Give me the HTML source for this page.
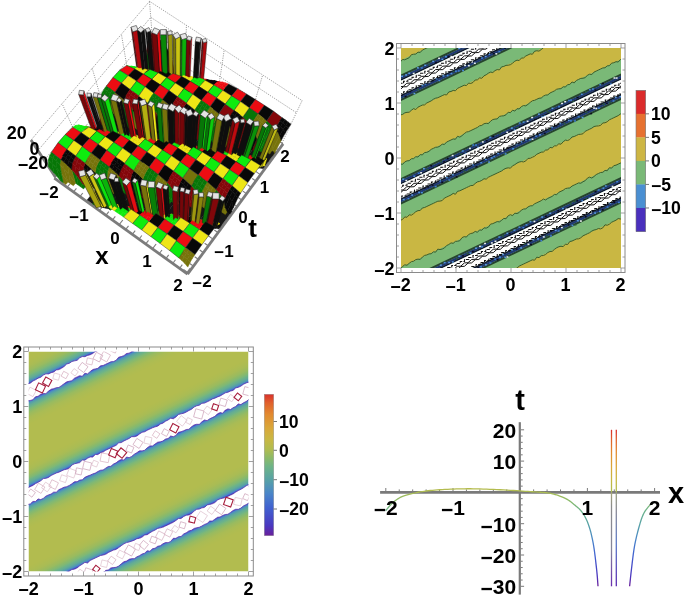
<!DOCTYPE html>
<html><head><meta charset="utf-8"><style>
html,body{margin:0;padding:0;background:#fff;}
svg{display:block;filter:blur(0.4px);}
</style></head><body>
<svg width="685" height="599" viewBox="0 0 685 599">
<defs><clipPath id="cp2"><rect x="401" y="48" width="220" height="220"/></clipPath><clipPath id="cp3"><rect x="28.5" y="351.5" width="220" height="220"/></clipPath><linearGradient id="g3" gradientUnits="userSpaceOnUse" x1="28.5" y1="495.5" x2="68.59" y2="579.98" spreadMethod="repeat"><stop offset="0" stop-color="#ffffff"/><stop offset="0.0773" stop-color="#ffffff"/><stop offset="0.0773" stop-color="#582db0"/><stop offset="0.0843" stop-color="#4354cb"/><stop offset="0.0914" stop-color="#4576cc"/><stop offset="0.0984" stop-color="#4b88c6"/><stop offset="0.1055" stop-color="#5296b4"/><stop offset="0.1125" stop-color="#569eaa"/><stop offset="0.1196" stop-color="#5aa5a1"/><stop offset="0.1266" stop-color="#61aa98"/><stop offset="0.1337" stop-color="#66ae92"/><stop offset="0.1407" stop-color="#69b08d"/><stop offset="0.1477" stop-color="#6db388"/><stop offset="0.1548" stop-color="#73b582"/><stop offset="0.1618" stop-color="#7bb77a"/><stop offset="0.1689" stop-color="#80b874"/><stop offset="0.1759" stop-color="#85b970"/><stop offset="0.1830" stop-color="#89b96b"/><stop offset="0.1900" stop-color="#8eba67"/><stop offset="0.1971" stop-color="#93ba63"/><stop offset="0.2041" stop-color="#98bb60"/><stop offset="0.2112" stop-color="#9bbb5e"/><stop offset="0.2182" stop-color="#9ebb5c"/><stop offset="0.2252" stop-color="#a0bb5a"/><stop offset="0.2323" stop-color="#a3bb59"/><stop offset="0.2393" stop-color="#a6bb57"/><stop offset="0.2464" stop-color="#a8bc55"/><stop offset="0.2534" stop-color="#aabc54"/><stop offset="0.2605" stop-color="#abbc53"/><stop offset="0.2675" stop-color="#acbc53"/><stop offset="0.2746" stop-color="#adbc52"/><stop offset="0.2816" stop-color="#aebc51"/><stop offset="0.2886" stop-color="#afbc51"/><stop offset="0.2957" stop-color="#b0bc50"/><stop offset="0.3027" stop-color="#b0bc50"/><stop offset="0.3098" stop-color="#b1bc4f"/><stop offset="0.3168" stop-color="#b2bc4f"/><stop offset="0.3239" stop-color="#b2bc4f"/><stop offset="0.3309" stop-color="#b2bc4f"/><stop offset="0.3380" stop-color="#b2bc4f"/><stop offset="0.3450" stop-color="#b2bc4f"/><stop offset="0.3521" stop-color="#b2bc4f"/><stop offset="0.3591" stop-color="#b2bc4f"/><stop offset="0.3661" stop-color="#b2bc4f"/><stop offset="0.3732" stop-color="#b2bc4f"/><stop offset="0.3802" stop-color="#b2bc4f"/><stop offset="0.3873" stop-color="#b2bc4f"/><stop offset="0.3943" stop-color="#b2bc4f"/><stop offset="0.4014" stop-color="#b2bc4f"/><stop offset="0.4084" stop-color="#b2bc4f"/><stop offset="0.4155" stop-color="#b2bc4f"/><stop offset="0.4225" stop-color="#b2bc4f"/><stop offset="0.4295" stop-color="#b2bc4f"/><stop offset="0.4366" stop-color="#b2bc4f"/><stop offset="0.4436" stop-color="#b2bc4f"/><stop offset="0.4507" stop-color="#b2bc4f"/><stop offset="0.4577" stop-color="#b2bc4f"/><stop offset="0.4648" stop-color="#b2bc4f"/><stop offset="0.4718" stop-color="#b2bc4f"/><stop offset="0.4789" stop-color="#b2bc4f"/><stop offset="0.4859" stop-color="#b2bc4f"/><stop offset="0.4930" stop-color="#b2bc4f"/><stop offset="0.5000" stop-color="#b2bc4f"/><stop offset="0.5000" stop-color="#b2bc4f"/><stop offset="0.5070" stop-color="#b2bc4f"/><stop offset="0.5141" stop-color="#b2bc4f"/><stop offset="0.5211" stop-color="#b2bc4f"/><stop offset="0.5282" stop-color="#b2bc4f"/><stop offset="0.5352" stop-color="#b2bc4f"/><stop offset="0.5423" stop-color="#b2bc4f"/><stop offset="0.5493" stop-color="#b2bc4f"/><stop offset="0.5564" stop-color="#b2bc4f"/><stop offset="0.5634" stop-color="#b2bc4f"/><stop offset="0.5705" stop-color="#b2bc4f"/><stop offset="0.5775" stop-color="#b2bc4f"/><stop offset="0.5845" stop-color="#b2bc4f"/><stop offset="0.5916" stop-color="#b2bc4f"/><stop offset="0.5986" stop-color="#b2bc4f"/><stop offset="0.6057" stop-color="#b2bc4f"/><stop offset="0.6127" stop-color="#b2bc4f"/><stop offset="0.6198" stop-color="#b2bc4f"/><stop offset="0.6268" stop-color="#b2bc4f"/><stop offset="0.6339" stop-color="#b2bc4f"/><stop offset="0.6409" stop-color="#b2bc4f"/><stop offset="0.6479" stop-color="#b2bc4f"/><stop offset="0.6550" stop-color="#b2bc4f"/><stop offset="0.6620" stop-color="#b2bc4f"/><stop offset="0.6691" stop-color="#b2bc4f"/><stop offset="0.6761" stop-color="#b2bc4f"/><stop offset="0.6832" stop-color="#b2bc4f"/><stop offset="0.6902" stop-color="#b1bc4f"/><stop offset="0.6973" stop-color="#b0bc50"/><stop offset="0.7043" stop-color="#b0bc50"/><stop offset="0.7114" stop-color="#afbc51"/><stop offset="0.7184" stop-color="#aebc51"/><stop offset="0.7254" stop-color="#adbc52"/><stop offset="0.7325" stop-color="#acbc53"/><stop offset="0.7395" stop-color="#abbc53"/><stop offset="0.7466" stop-color="#aabc54"/><stop offset="0.7536" stop-color="#a8bc55"/><stop offset="0.7607" stop-color="#a6bb57"/><stop offset="0.7677" stop-color="#a3bb59"/><stop offset="0.7748" stop-color="#a0bb5a"/><stop offset="0.7818" stop-color="#9ebb5c"/><stop offset="0.7888" stop-color="#9bbb5e"/><stop offset="0.7959" stop-color="#98bb60"/><stop offset="0.8029" stop-color="#93ba63"/><stop offset="0.8100" stop-color="#8eba67"/><stop offset="0.8170" stop-color="#89b96b"/><stop offset="0.8241" stop-color="#85b970"/><stop offset="0.8311" stop-color="#80b874"/><stop offset="0.8382" stop-color="#7bb77a"/><stop offset="0.8452" stop-color="#73b582"/><stop offset="0.8523" stop-color="#6db388"/><stop offset="0.8593" stop-color="#69b08d"/><stop offset="0.8663" stop-color="#66ae92"/><stop offset="0.8734" stop-color="#61aa98"/><stop offset="0.8804" stop-color="#5aa5a1"/><stop offset="0.8875" stop-color="#569eaa"/><stop offset="0.8945" stop-color="#5296b4"/><stop offset="0.9016" stop-color="#4b88c6"/><stop offset="0.9086" stop-color="#4576cc"/><stop offset="0.9157" stop-color="#4354cb"/><stop offset="0.9227" stop-color="#582db0"/><stop offset="0.9227" stop-color="#ffffff"/><stop offset="1" stop-color="#ffffff"/></linearGradient><linearGradient id="gcb3" x1="0" y1="0" x2="0" y2="1"><stop offset="0.000" stop-color="#d9312b"/><stop offset="0.060" stop-color="#e0602c"/><stop offset="0.140" stop-color="#e2892f"/><stop offset="0.240" stop-color="#d9a83a"/><stop offset="0.320" stop-color="#c8b844"/><stop offset="0.390" stop-color="#b0bc50"/><stop offset="0.450" stop-color="#8cba68"/><stop offset="0.510" stop-color="#6eb487"/><stop offset="0.600" stop-color="#58a3a4"/><stop offset="0.700" stop-color="#4a86c8"/><stop offset="0.800" stop-color="#4062d0"/><stop offset="0.930" stop-color="#4a38c0"/><stop offset="1.000" stop-color="#6a1f9a"/></linearGradient><linearGradient id="g4" gradientUnits="userSpaceOnUse" x1="0" y1="429.8" x2="0" y2="586.3"><stop offset="0.000" stop-color="#d9312b"/><stop offset="0.060" stop-color="#e0602c"/><stop offset="0.140" stop-color="#e2892f"/><stop offset="0.240" stop-color="#d9a83a"/><stop offset="0.320" stop-color="#c8b844"/><stop offset="0.390" stop-color="#b0bc50"/><stop offset="0.450" stop-color="#8cba68"/><stop offset="0.510" stop-color="#6eb487"/><stop offset="0.600" stop-color="#58a3a4"/><stop offset="0.700" stop-color="#4a86c8"/><stop offset="0.800" stop-color="#4062d0"/><stop offset="0.930" stop-color="#4a38c0"/><stop offset="1.000" stop-color="#6a1f9a"/></linearGradient><linearGradient id="gpl" gradientUnits="userSpaceOnUse" x1="0" y1="492.4" x2="0" y2="586.3"><stop offset="0" stop-color="#a8a878"/><stop offset="0.15" stop-color="#8c8c8c"/><stop offset="0.6" stop-color="#86869a"/><stop offset="1" stop-color="#6a30b0"/></linearGradient><linearGradient id="gpr" gradientUnits="userSpaceOnUse" x1="0" y1="492.4" x2="0" y2="586.3"><stop offset="0" stop-color="#9aa080"/><stop offset="0.2" stop-color="#8a8a96"/><stop offset="0.55" stop-color="#5a78c8"/><stop offset="1" stop-color="#5a2ab0"/></linearGradient></defs>
<rect width="685" height="599" fill="#fff"/>
<style>.y1{fill:#eee616;stroke:#eee616}.y0{fill:#77730b;stroke:#77730b}.y1m{fill:#eee616;stroke:#262626;stroke-width:.45}.y0m{fill:#77730b;stroke:#262626;stroke-width:.45}.g1{fill:#0eec0e;stroke:#0eec0e}.g0{fill:#077607;stroke:#077607}.g1m{fill:#0eec0e;stroke:#262626;stroke-width:.45}.g0m{fill:#077607;stroke:#262626;stroke-width:.45}.r1{fill:#ec0c12;stroke:#ec0c12}.r0{fill:#84070a;stroke:#84070a}.r1m{fill:#ec0c12;stroke:#262626;stroke-width:.45}.r0m{fill:#84070a;stroke:#262626;stroke-width:.45}.k1{fill:#080808;stroke:#080808}.k0{fill:#080808;stroke:#080808}.k1m{fill:#080808;stroke:#262626;stroke-width:.45}.k0m{fill:#080808;stroke:#262626;stroke-width:.45}.fl{fill:#1c1c1c;stroke:#1c1c1c}</style><g id="p1" stroke-width="0.5"><g stroke="#7a7a7a" stroke-width="0.75" stroke-dasharray="1.1,1.2" fill="none"><line x1="55.3" y1="177.0" x2="153.9" y2="57.8"/><line x1="50.0" y1="169.0" x2="153.0" y2="45.4"/><line x1="44.2" y1="160.2" x2="151.9" y2="31.9"/><line x1="37.9" y1="150.6" x2="150.8" y2="17.3"/><line x1="31.0" y1="140.1" x2="149.5" y2="1.3"/><line x1="81.0" y1="145.9" x2="62.1" y2="103.6"/><line x1="106.0" y1="115.7" x2="92.2" y2="68.3"/><line x1="130.3" y1="86.3" x2="121.4" y2="34.2"/><line x1="153.9" y1="57.8" x2="149.5" y2="1.3"/><line x1="153.9" y1="57.8" x2="282.0" y2="143.1"/><line x1="153.0" y1="45.4" x2="286.4" y2="133.8"/><line x1="151.9" y1="31.9" x2="291.1" y2="123.7"/><line x1="150.8" y1="17.3" x2="296.4" y2="112.7"/><line x1="149.5" y1="1.3" x2="302.1" y2="100.6"/><line x1="185.1" y1="78.6" x2="186.4" y2="25.3"/><line x1="216.8" y1="99.7" x2="224.2" y2="49.9"/><line x1="249.1" y1="121.2" x2="262.7" y2="74.9"/><line x1="282.0" y1="143.1" x2="302.1" y2="100.6"/></g><g stroke="#7c7c7c" stroke-width="2.8"><line x1="54.3" y1="178.1" x2="187.6" y2="274.2"/><line x1="187.6" y1="274.2" x2="283.1" y2="143.9"/><line x1="55.3" y1="177.0" x2="31.0" y2="140.1"/></g><g stroke="#7c7c7c" stroke-width="1.1"><line x1="54.5" y1="177.9" x2="58.1" y2="173.5"/><line x1="188.3" y1="272.9" x2="183.5" y2="269.4"/><line x1="60.8" y1="182.5" x2="63.6" y2="179.2"/><line x1="193.3" y1="266.0" x2="189.7" y2="263.5"/><line x1="67.2" y1="187.1" x2="70.0" y2="183.8"/><line x1="198.3" y1="259.3" x2="194.7" y2="256.7"/><line x1="73.6" y1="191.8" x2="76.4" y2="188.4"/><line x1="203.2" y1="252.5" x2="199.7" y2="250.0"/><line x1="80.1" y1="196.4" x2="82.8" y2="193.0"/><line x1="208.2" y1="245.8" x2="204.6" y2="243.3"/><line x1="86.5" y1="201.1" x2="90.2" y2="196.6"/><line x1="213.0" y1="239.1" x2="208.3" y2="235.8"/><line x1="93.0" y1="205.7" x2="95.7" y2="202.3"/><line x1="217.9" y1="232.5" x2="214.3" y2="230.0"/><line x1="99.5" y1="210.4" x2="102.3" y2="207.0"/><line x1="222.7" y1="225.9" x2="219.2" y2="223.4"/><line x1="106.1" y1="215.1" x2="108.8" y2="211.7"/><line x1="227.5" y1="219.4" x2="224.0" y2="216.9"/><line x1="112.6" y1="219.9" x2="115.3" y2="216.4"/><line x1="232.3" y1="212.9" x2="228.8" y2="210.4"/><line x1="119.2" y1="224.6" x2="122.8" y2="220.0"/><line x1="237.0" y1="206.4" x2="232.3" y2="203.1"/><line x1="125.8" y1="229.4" x2="128.5" y2="225.9"/><line x1="241.8" y1="200.0" x2="238.2" y2="197.5"/><line x1="132.5" y1="234.2" x2="135.2" y2="230.7"/><line x1="246.4" y1="193.6" x2="242.9" y2="191.1"/><line x1="139.2" y1="239.0" x2="141.8" y2="235.5"/><line x1="251.1" y1="187.2" x2="247.6" y2="184.8"/><line x1="145.8" y1="243.8" x2="148.5" y2="240.3"/><line x1="255.7" y1="180.9" x2="252.2" y2="178.5"/><line x1="152.6" y1="248.7" x2="156.1" y2="244.0"/><line x1="260.3" y1="174.6" x2="255.7" y2="171.4"/><line x1="159.3" y1="253.5" x2="162.0" y2="250.0"/><line x1="264.9" y1="168.4" x2="261.4" y2="166.0"/><line x1="166.1" y1="258.4" x2="168.7" y2="254.9"/><line x1="269.5" y1="162.2" x2="266.0" y2="159.8"/><line x1="172.9" y1="263.3" x2="175.5" y2="259.7"/><line x1="274.0" y1="156.0" x2="270.5" y2="153.6"/><line x1="179.7" y1="268.2" x2="182.3" y2="264.6"/><line x1="278.5" y1="149.9" x2="275.0" y2="147.5"/><line x1="186.5" y1="273.2" x2="190.0" y2="268.4"/><line x1="283.0" y1="143.8" x2="278.3" y2="140.7"/></g><polygon points="134.1,81.7 144.7,83.6 157.6,67.8 147.1,66.0" fill="#161616" stroke="#161616" stroke-width="0.3"/><polygon class="g0" points="148.7,69.0 151.3,70.7 153.2,68.3 150.1,60.4"/><polygon points="144.7,83.6 155.3,85.5 168.2,69.7 157.6,67.8" fill="#161616" stroke="#161616" stroke-width="0.3"/><polygon class="k0" points="155.8,70.1 158.4,71.8 160.4,69.4 157.3,60.2"/><polygon points="155.3,85.5 165.9,87.3 177.2,73.3 168.2,69.7" fill="#161616" stroke="#161616" stroke-width="0.3"/><polygon class="k1" points="146.0,82.0 148.6,83.6 150.6,81.3 148.0,79.6"/><polygon class="r0" points="138.9,80.9 141.2,80.7 143.4,80.2 140.8,78.5"/><polygon class="k0" points="163.0,71.1 165.6,72.9 167.5,70.5 164.5,60.1"/><polygon points="165.9,87.3 176.5,89.2 185.1,78.6 177.2,73.3" fill="#161616" stroke="#161616" stroke-width="0.3"/><polygon class="r0" points="170.1,72.2 172.7,74.0 174.6,71.6 171.8,60.1"/><polygon points="176.5,89.2 187.1,91.1 193.0,83.8 185.1,78.6" fill="#161616" stroke="#161616" stroke-width="0.3"/><polygon points="187.1,91.1 197.8,92.9 200.9,89.1 193.0,83.8" fill="#161616" stroke="#161616" stroke-width="0.3"/><polygon class="g0" points="146.1,67.2 148.7,69.0 150.1,60.4 146.7,50.6"/><polygon points="197.8,92.9 208.4,94.8 208.8,94.4 200.9,89.1" fill="#161616" stroke="#161616" stroke-width="0.3"/><polygon class="r1" points="198.9,91.5 201.8,91.1 203.5,90.8 200.9,89.1"/><polygon class="r0" points="153.2,68.3 155.8,70.1 157.3,60.2 154.1,51.1"/><polygon class="k1" points="191.7,90.4 194.6,88.4 196.3,89.7 193.7,88.0"/><polygon points="208.4,94.8 216.8,99.7 216.8,99.7 208.8,94.4" fill="#161616" stroke="#161616" stroke-width="0.3"/><polygon class="r0" points="184.5,89.3 187.4,85.9 189.1,88.6 186.5,86.9"/><polygon class="k1" points="148.6,83.6 150.2,74.7 153.2,83.1 150.6,81.3"/><polygon class="g1" points="177.4,88.2 180.0,83.4 181.9,87.5 179.3,85.8"/><polygon class="r1" points="155.8,84.8 157.7,76.8 160.4,84.2 157.8,82.4"/><polygon class="y1" points="170.2,87.1 172.6,81.1 174.7,86.4 172.1,84.6"/><polygon class="g0" points="163.0,85.9 165.2,78.9 167.5,85.3 164.9,83.5"/><polygon class="k0" points="160.4,69.4 163.0,71.1 164.5,60.1 161.5,51.6"/><polygon class="r0" points="141.2,80.7 142.6,72.7 146.0,82.0 143.4,80.2"/><polygon class="g1" points="133.7,77.9 135.1,70.8 138.9,80.9 136.3,79.1"/><polygon class="r0" points="167.5,70.5 170.1,72.2 171.8,60.1 169.0,52.2"/><polygon class="r1" points="201.8,91.1 205.4,83.7 206.2,92.6 203.5,90.8"/><polygon class="k1" points="194.6,88.4 197.9,81.8 198.9,91.5 196.3,89.7"/><polygon class="r0" points="150.1,60.4 153.2,68.3 154.1,51.1 151.0,45.4"/><polygon points="88.1,137.3 98.9,139.3 112.6,122.7 101.8,120.8" fill="#161616" stroke="#161616" stroke-width="0.3"/><polygon class="k1" points="187.4,85.9 190.4,80.0 191.7,90.4 189.1,88.6"/><polygon class="g1" points="180.0,83.4 182.8,78.2 184.5,89.3 181.9,87.5"/><polygon class="k0" points="157.3,60.2 160.4,69.4 161.5,51.6 158.6,46.2"/><polygon class="y1" points="172.6,81.1 175.3,76.4 177.4,88.2 174.7,86.4"/><polygon class="r1" points="89.4,135.7 91.7,136.7 94.1,135.0 91.5,133.2"/><polygon class="r0" points="99.8,123.2 102.4,125.0 104.5,122.5 100.1,114.9"/><polygon class="y1" points="165.2,78.9 167.7,74.7 170.2,87.1 167.5,85.3"/><polygon points="98.9,139.3 109.8,141.2 123.3,124.6 112.6,122.7" fill="#161616" stroke="#161616" stroke-width="0.3"/><polygon class="k1" points="142.6,72.7 144.8,69.8 148.6,83.6 146.0,82.0"/><polygon class="r1" points="157.7,76.8 160.1,73.1 163.0,85.9 160.4,84.2"/><polygon class="k1" points="150.2,74.7 152.5,71.4 155.8,84.8 153.2,83.1"/><polygon class="g1" points="135.1,70.8 137.2,68.3 141.2,80.7 138.9,80.9"/><polygon class="y0" points="131.7,129.5 134.3,131.4 136.4,128.9 133.7,127.0"/><polygon class="k0" points="164.5,60.1 167.5,70.5 169.0,52.2 166.1,47.1"/><polygon points="109.8,141.2 120.6,143.2 134.1,126.5 123.3,124.6" fill="#161616" stroke="#161616" stroke-width="0.3"/><polygon class="r0" points="107.1,124.3 109.7,126.1 111.8,123.6 107.2,114.9"/><polygon class="y0" points="139.0,130.7 141.7,132.5 143.7,130.0 140.8,126.6"/><polygon points="120.6,143.2 131.5,145.2 144.9,128.5 134.1,126.5" fill="#161616" stroke="#161616" stroke-width="0.3"/><polygon class="k0" points="114.4,125.4 117.1,127.3 119.1,124.8 114.5,115.1"/><polygon points="131.5,145.2 142.4,147.1 155.7,130.4 144.9,128.5" fill="#161616" stroke="#161616" stroke-width="0.3"/><polygon class="r0" points="146.3,131.8 149.0,133.7 151.0,131.2 148.0,126.3"/><polygon class="g0" points="121.7,126.6 124.4,128.4 126.4,125.9 121.8,115.4"/><polygon class="r1" points="205.4,83.7 208.6,81.0 208.8,94.0 206.2,92.6"/><polygon points="142.4,147.1 153.3,149.1 166.6,132.3 155.7,130.4" fill="#161616" stroke="#161616" stroke-width="0.3"/><polygon class="y0" points="262.4,152.8 265.2,154.7 267.1,152.1 264.8,149.1"/><polygon class="y0" points="269.8,154.0 272.6,155.8 274.5,153.3 272.8,148.9"/><polygon class="k0" points="153.7,133.0 156.4,134.8 158.4,132.3 155.3,126.2"/><polygon points="153.3,149.1 164.2,151.0 177.4,134.3 166.6,132.3" fill="#161616" stroke="#161616" stroke-width="0.3"/><polygon class="g0" points="129.0,127.7 131.7,129.5 133.7,127.0 129.2,115.8"/><polygon class="r1" points="197.9,81.8 201.0,79.5 201.8,91.1 198.9,91.5"/><polygon points="252.1,166.8 263.1,168.8 275.6,151.8 264.6,149.9" fill="#161616" stroke="#161616" stroke-width="0.3"/><polygon class="r0" points="146.7,50.6 150.1,60.4 151.0,45.4 148.1,41.4"/><polygon points="164.2,151.0 175.2,153.0 188.3,136.2 177.4,134.3" fill="#161616" stroke="#161616" stroke-width="0.3"/><polygon class="k0" points="200.5,141.7 203.2,143.6 205.2,141.0 202.6,137.8"/><polygon class="r1" points="91.7,136.7 91.2,130.2 96.8,136.9 94.1,135.0"/><polygon class="k1" points="99.4,138.7 99.1,132.1 104.1,138.0 101.5,136.2"/><polygon points="241.0,164.8 252.1,166.8 264.6,149.9 253.7,147.9" fill="#161616" stroke="#161616" stroke-width="0.3"/><polygon class="k0" points="161.0,134.1 163.7,136.0 165.7,133.4 162.7,126.2"/><polygon points="175.2,153.0 186.1,155.0 199.1,138.2 188.3,136.2" fill="#161616" stroke="#161616" stroke-width="0.3"/><polygon class="k1" points="190.4,80.0 193.4,77.9 194.6,88.4 191.7,90.4"/><polygon class="y0" points="106.7,139.9 107.0,134.0 111.4,139.2 108.8,137.3"/><polygon points="230.0,162.9 241.0,164.8 253.7,147.9 242.7,146.0" fill="#161616" stroke="#161616" stroke-width="0.3"/><polygon points="186.1,155.0 197.1,156.9 210.0,140.1 199.1,138.2" fill="#161616" stroke="#161616" stroke-width="0.3"/><polygon class="r0" points="207.9,142.9 210.6,144.7 212.5,142.2 210.2,137.6"/><polygon points="219.0,160.9 230.0,162.9 242.7,146.0 231.8,144.0" fill="#161616" stroke="#161616" stroke-width="0.3"/><polygon points="197.1,156.9 208.0,158.9 220.9,142.0 210.0,140.1" fill="#161616" stroke="#161616" stroke-width="0.3"/><polygon class="y0" points="151.0,146.8 153.5,147.7 155.7,146.1 153.0,144.3"/><polygon points="208.0,158.9 219.0,160.9 231.8,144.0 220.9,142.0" fill="#161616" stroke="#161616" stroke-width="0.3"/><polygon class="g1" points="114.1,141.0 114.9,136.1 118.8,140.3 116.2,138.5"/><polygon class="y1" points="121.5,142.2 122.7,138.2 126.2,141.5 123.5,139.6"/><polygon class="g1" points="182.8,78.2 185.7,76.4 187.4,85.9 184.5,89.3"/><polygon class="k1" points="143.6,145.6 145.9,145.1 148.3,145.0 145.6,143.1"/><polygon class="g0" points="168.4,135.3 171.1,137.1 173.0,134.6 170.2,126.3"/><polygon class="y0" points="136.4,128.9 139.0,130.7 140.8,126.6 136.7,116.3"/><polygon class="k0" points="128.8,143.3 130.5,140.4 133.5,142.6 130.9,140.8"/><polygon class="r1" points="136.2,144.5 138.2,142.7 140.9,143.8 138.2,141.9"/><polygon class="r0" points="104.5,122.5 107.1,124.3 107.2,114.9 102.8,107.2"/><polygon class="r0" points="154.1,51.1 157.3,60.2 158.6,46.2 155.7,42.3"/><polygon class="g0" points="215.3,144.0 218.0,145.9 219.9,143.3 217.9,137.5"/><polygon class="g1" points="175.3,76.4 178.1,74.9 180.0,83.4 177.4,88.2"/><polygon class="y0" points="222.7,145.2 225.4,147.0 227.3,144.5 225.7,137.6"/><polygon class="y0" points="175.7,136.4 178.4,138.3 180.4,135.7 177.7,126.5"/><polygon class="y1" points="167.7,74.7 170.4,73.4 172.6,81.1 170.2,87.1"/><polygon class="g0" points="230.0,146.3 232.8,148.2 234.7,145.6 233.5,137.7"/><polygon class="r1" points="160.1,73.1 162.7,72.0 165.2,78.9 163.0,85.9"/><polygon class="r1" points="152.5,71.4 155.0,70.5 157.7,76.8 155.8,84.8"/><polygon class="y0" points="183.1,137.6 185.8,139.4 187.7,136.9 185.3,126.9"/><polygon class="r0" points="237.4,147.5 240.2,149.3 242.1,146.8 241.3,138.0"/><polygon class="k1" points="144.8,69.8 147.3,69.1 150.2,74.7 148.6,83.6"/><polygon class="k0" points="161.5,51.6 164.5,60.1 166.1,47.1 163.3,43.3"/><polygon class="k0" points="111.8,123.6 114.4,125.4 114.5,115.1 110.4,107.9"/><polygon class="r0" points="143.7,130.0 146.3,131.8 148.0,126.3 144.3,116.8"/><polygon class="k0" points="244.8,148.6 247.6,150.5 249.5,147.9 249.2,138.4"/><polygon class="r0" points="252.2,149.8 255.0,151.7 256.9,149.1 257.1,138.8"/><polygon class="y1" points="212.9,158.0 215.9,158.7 217.6,157.3 214.9,155.4"/><polygon class="r0" points="190.4,138.7 193.1,140.6 195.1,138.0 193.0,127.3"/><polygon class="g1" points="137.2,68.3 139.6,67.7 142.6,72.7 141.2,80.7"/><polygon class="g0" points="259.7,151.0 262.4,152.8 264.8,149.1 265.1,139.4"/><polygon class="y1" points="260.4,166.8 264.7,165.2 265.1,166.1 262.3,164.3"/><polygon class="g1" points="205.5,156.8 208.6,156.3 210.2,156.1 207.5,154.2"/><polygon class="g1" points="129.5,66.7 131.9,66.3 135.1,70.8 133.7,77.9"/><polygon class="y0" points="119.1,124.8 121.7,126.6 121.8,115.4 117.9,108.6"/><polygon class="y0" points="267.1,152.1 269.8,154.0 272.8,148.9 273.1,139.9"/><polygon class="r0" points="151.0,131.2 153.7,133.0 155.3,126.2 151.8,117.4"/><polygon class="k0" points="197.8,139.9 200.5,141.7 202.6,137.8 200.7,127.8"/><polygon class="g1" points="198.1,155.6 201.2,153.9 202.8,154.9 200.0,153.1"/><polygon class="y1" points="252.9,165.7 257.5,163.0 257.6,165.0 254.8,163.1"/><polygon class="g0" points="80.9,187.0 83.6,188.9 85.7,186.3 82.7,183.7"/><polygon class="k1" points="190.7,154.5 193.7,151.7 195.3,153.8 192.6,151.9"/><polygon class="r1" points="183.2,153.3 186.2,149.5 187.9,152.6 185.2,150.7"/><polygon class="g0" points="245.4,164.5 250.2,160.9 250.1,163.8 247.4,161.9"/><polygon class="g0" points="126.4,125.9 129.0,127.7 129.2,115.8 125.6,109.4"/><polygon class="r1" points="175.8,152.1 178.6,147.4 180.5,151.4 177.8,149.6"/><polygon class="k0" points="158.4,132.3 161.0,134.1 162.7,126.2 159.5,118.0"/><polygon class="k0" points="205.2,141.0 207.9,142.9 210.2,137.6 208.4,128.3"/><polygon class="y1" points="168.4,151.0 170.9,145.4 173.1,150.3 170.4,148.4"/><polygon class="y0" points="63.2,182.7 65.9,184.6 68.0,182.0 61.4,173.6"/><polygon class="g1" points="161.0,149.8 163.2,143.5 165.7,149.1 163.0,147.3"/><polygon class="r0" points="151.0,45.4 154.1,51.1 155.7,42.3 152.8,39.1"/><polygon class="k1" points="238.0,163.3 242.8,158.9 242.7,162.6 239.9,160.8"/><polygon class="g1" points="153.5,147.7 155.4,141.6 158.3,148.0 155.7,146.1"/><polygon class="k1" points="208.6,81.0 211.7,80.4 212.8,85.6 208.8,94.0"/><polygon class="k0" points="88.4,188.2 91.1,190.1 93.2,187.5 89.6,183.7"/><polygon class="g0" points="212.5,142.2 215.3,144.0 217.9,137.5 216.2,129.0"/><polygon class="y0" points="133.7,127.0 136.4,128.9 136.7,116.3 133.2,110.2"/><polygon class="g0" points="165.7,133.4 168.4,135.3 170.2,126.3 167.2,118.7"/><polygon class="k1" points="230.5,162.2 235.3,156.9 235.2,161.5 232.5,159.6"/><polygon class="k1" points="145.9,145.1 147.6,139.8 151.0,146.8 148.3,145.0"/><polygon class="r1" points="83.3,128.3 84.6,126.4 91.7,136.7 89.4,135.7"/><polygon class="r1" points="91.2,130.2 92.5,128.0 99.4,138.7 96.8,136.9"/><polygon class="k0" points="158.6,46.2 161.5,51.6 163.3,43.3 160.4,40.2"/><polygon points="87.3,200.1 95.4,205.9 109.2,188.6 98.2,186.6" fill="#161616" stroke="#161616" stroke-width="0.3"/><polygon class="y0" points="70.7,183.9 73.4,185.8 75.5,183.2 68.8,174.2"/><polygon class="r1" points="138.2,142.7 139.8,138.0 143.6,145.6 140.9,143.8"/><polygon class="r1" points="223.1,161.0 227.7,155.0 227.8,160.3 225.0,158.4"/><polygon class="k1" points="99.1,132.1 100.4,129.6 106.7,139.9 104.1,138.0"/><polygon class="y0" points="219.9,143.3 222.7,145.2 225.7,137.6 224.1,129.6"/><polygon class="r0" points="100.1,114.9 104.5,122.5 102.8,107.2 99.1,102.2"/><polygon class="r1" points="201.0,79.5 204.0,79.0 205.4,83.7 201.8,91.1"/><polygon class="r1" points="130.5,140.4 132.0,136.2 136.2,144.5 133.5,142.6"/><polygon class="g1" points="107.0,134.0 108.3,131.2 114.1,141.0 111.4,139.2"/><polygon class="g1" points="114.9,136.1 116.2,132.9 121.5,142.2 118.8,140.3"/><polygon class="y1" points="122.7,138.2 124.1,134.5 128.8,143.3 126.2,141.5"/><polygon class="g0" points="173.0,134.6 175.7,136.4 177.7,126.5 174.9,119.5"/><polygon class="r0" points="95.9,189.4 98.6,191.3 100.7,188.7 96.7,183.9"/><polygon class="y0" points="227.3,144.5 230.0,146.3 233.5,137.7 231.9,130.3"/><polygon class="r0" points="148.1,41.4 151.0,45.4 152.8,39.1 150.0,36.4"/><polygon points="95.4,205.9 106.3,208.4 120.3,190.7 109.2,188.6" fill="#161616" stroke="#161616" stroke-width="0.3"/><polygon class="y1" points="215.9,158.7 220.1,153.2 220.4,159.1 217.6,157.3"/><polygon class="k0" points="140.8,126.6 143.7,130.0 144.3,116.8 140.9,111.1"/><polygon class="k1" points="193.4,77.9 196.3,77.6 197.9,81.8 194.6,88.4"/><polygon class="r0" points="234.7,145.6 237.4,147.5 241.3,138.0 239.8,131.1"/><polygon class="y0" points="180.4,135.7 183.1,137.6 185.3,126.9 182.6,120.2"/><polygon class="g0" points="78.2,185.1 80.9,187.0 82.7,183.7 76.2,174.8"/><polygon class="r0" points="155.7,42.3 158.6,46.2 160.4,40.2 157.6,37.4"/><polygon class="k0" points="242.1,146.8 244.8,148.6 249.2,138.4 247.7,131.9"/><polygon class="r0" points="107.2,114.9 111.8,123.6 110.4,107.9 106.8,103.1"/><polygon class="y1" points="100.3,205.2 103.0,207.0 105.2,204.5 102.4,202.5"/><polygon class="g0" points="92.7,204.0 94.8,204.7 97.6,203.2 94.9,201.3"/><polygon class="y1" points="185.7,76.4 188.6,76.2 190.4,80.0 187.4,85.9"/><polygon class="k0" points="249.5,147.9 252.2,149.8 257.1,138.8 255.7,132.7"/><polygon points="106.3,208.4 117.5,210.4 131.5,192.7 120.3,190.7" fill="#161616" stroke="#161616" stroke-width="0.3"/><polygon class="r0" points="103.4,190.6 106.1,192.5 108.3,189.9 104.0,184.1"/><polygon class="y1" points="208.6,156.3 212.5,151.4 212.9,158.0 210.2,156.1"/><polygon class="r0" points="187.7,136.9 190.4,138.7 193.0,127.3 190.4,121.0"/><polygon class="g0" points="256.9,149.1 259.7,151.0 265.1,139.4 263.6,133.6"/><polygon class="r0" points="152.8,39.1 155.7,42.3 157.6,37.4 154.8,35.0"/><polygon class="g1" points="178.1,74.9 180.9,74.8 182.8,78.2 180.0,83.4"/><polygon class="r0" points="195.1,138.0 197.8,139.9 200.7,127.8 198.2,121.9"/><polygon class="r0" points="148.0,126.3 151.0,131.2 151.8,117.4 148.7,112.0"/><polygon class="y0" points="264.8,149.1 267.1,152.1 273.1,139.9 271.6,134.5"/><polygon points="117.5,210.4 128.7,212.5 142.6,194.7 131.5,192.7" fill="#161616" stroke="#161616" stroke-width="0.3"/><polygon class="g1" points="201.2,153.9 204.8,149.6 205.5,156.8 202.8,154.9"/><polygon class="r0" points="150.0,36.4 152.8,39.1 154.8,35.0 152.0,32.7"/><polygon class="y1" points="257.5,163.0 262.6,159.6 260.4,166.8 257.6,165.0"/><polygon class="y1" points="170.4,73.4 173.1,73.4 175.3,76.4 172.6,81.1"/><polygon class="y0" points="111.0,191.8 113.7,193.7 115.8,191.1 111.3,184.5"/><polygon class="y0" points="114.5,115.1 119.1,124.8 117.9,108.6 114.5,104.0"/><polygon class="r0" points="143.8,198.5 146.6,200.5 148.7,197.8 145.8,195.4"/><polygon class="k1" points="162.7,72.0 165.4,72.1 167.7,74.7 165.2,78.9"/><polygon class="k0" points="85.7,186.3 88.4,188.2 89.6,183.7 83.8,175.5"/><polygon class="y0" points="272.8,148.9 274.5,153.3 281.1,140.6 279.6,135.4"/><polygon class="k1" points="193.7,151.7 197.0,147.9 198.1,155.6 195.3,153.8"/><polygon points="128.7,212.5 140.0,214.5 153.7,196.8 142.6,194.7" fill="#161616" stroke="#161616" stroke-width="0.3"/><polygon class="r1" points="155.0,70.5 157.7,70.7 160.1,73.1 157.7,76.8"/><polygon class="g1" points="131.9,66.3 134.4,66.7 137.2,68.3 135.1,70.8"/><polygon class="k1" points="147.3,69.1 149.9,69.4 152.5,71.4 150.2,74.7"/><polygon class="y1" points="139.6,67.7 142.2,68.0 144.8,69.8 142.6,72.7"/><polygon class="g0" points="60.6,180.8 63.2,182.7 61.4,173.6 56.1,167.6"/><polygon class="k0" points="202.6,137.8 205.2,141.0 208.4,128.3 206.1,122.7"/><polygon class="g0" points="250.2,160.9 254.9,157.9 252.9,165.7 250.1,163.8"/><polygon class="k0" points="155.3,126.2 158.4,132.3 159.5,118.0 156.4,112.9"/><polygon class="k1" points="186.2,149.5 189.2,146.2 190.7,154.5 187.9,152.6"/><polygon points="140.0,214.5 151.2,216.6 164.9,198.8 153.7,196.8" fill="#161616" stroke="#161616" stroke-width="0.3"/><polygon class="g0" points="118.5,193.0 121.2,194.9 123.3,192.3 118.8,185.0"/><polygon class="k0" points="151.4,199.7 154.2,201.7 156.2,199.0 153.2,195.4"/><polygon class="g0" points="121.8,115.4 126.4,125.9 125.6,109.4 122.2,105.0"/><polygon class="r1" points="178.6,147.4 181.4,144.5 183.2,153.3 180.5,151.4"/><polygon points="151.2,216.6 162.4,218.7 176.0,200.8 164.9,198.8" fill="#161616" stroke="#161616" stroke-width="0.3"/><polygon class="g0" points="207.3,210.1 210.1,212.1 212.1,209.4 209.3,207.1"/><polygon class="y1" points="170.9,145.4 173.6,142.9 175.8,152.1 173.1,150.3"/><polygon class="r1" points="242.8,158.9 247.1,156.3 245.4,164.5 242.7,162.6"/><polygon class="g0" points="210.2,137.6 212.5,142.2 216.2,129.0 213.9,123.6"/><polygon points="162.4,218.7 173.7,220.7 187.2,202.9 176.0,200.8" fill="#161616" stroke="#161616" stroke-width="0.3"/><polygon class="y1" points="163.2,143.5 165.7,141.3 168.4,151.0 165.7,149.1"/><polygon class="k0" points="93.2,187.5 95.9,189.4 96.7,183.9 91.4,176.3"/><polygon class="g0" points="126.0,194.2 128.7,196.1 130.8,193.5 126.4,185.5"/><polygon class="g1" points="155.4,141.6 157.9,139.7 161.0,149.8 158.3,148.0"/><polygon class="y0" points="159.0,200.9 161.7,202.9 163.8,200.2 160.8,195.7"/><polygon points="173.7,220.7 185.0,222.8 198.4,204.9 187.2,202.9" fill="#161616" stroke="#161616" stroke-width="0.3"/><polygon class="y0" points="162.7,126.2 165.7,133.4 167.2,118.7 164.2,113.8"/><polygon class="y0" points="68.0,182.0 70.7,183.9 68.8,174.2 63.8,168.5"/><polygon points="207.6,226.9 218.9,229.0 232.1,211.1 220.9,209.0" fill="#161616" stroke="#161616" stroke-width="0.3"/><polygon points="185.0,222.8 196.3,224.9 209.6,207.0 198.4,204.9" fill="#161616" stroke="#161616" stroke-width="0.3"/><polygon class="g0" points="214.9,211.4 217.7,213.3 219.7,210.6 217.2,207.3"/><polygon points="196.3,224.9 207.6,226.9 220.9,209.0 209.6,207.0" fill="#161616" stroke="#161616" stroke-width="0.3"/><polygon class="g0" points="129.2,115.8 133.7,127.0 133.2,110.2 130.0,106.0"/><polygon class="k1" points="235.3,156.9 239.4,154.7 238.0,163.3 235.2,161.5"/><polygon class="k1" points="147.6,139.8 150.0,138.2 153.5,147.7 151.0,146.8"/><polygon class="g0" points="217.9,137.5 219.9,143.3 224.1,129.6 221.8,124.5"/><polygon class="k1" points="163.8,216.9 166.6,218.6 168.7,216.1 165.9,214.2"/><polygon class="y0" points="222.5,212.6 225.3,214.5 227.3,211.8 225.2,207.5"/><polygon class="k0" points="133.6,195.4 136.3,197.3 138.4,194.7 134.0,186.1"/><polygon class="g0" points="166.5,202.2 169.3,204.1 171.4,201.4 168.4,196.0"/><polygon class="r1" points="227.7,155.0 231.6,153.1 230.5,162.2 227.8,160.3"/><polygon class="k1" points="139.8,138.0 142.1,136.6 145.9,145.1 143.6,145.6"/><polygon class="g0" points="170.2,126.3 173.0,134.6 174.9,119.5 172.0,114.7"/><polygon class="g1" points="156.2,215.6 158.8,216.4 161.0,214.9 158.3,212.9"/><polygon class="y1" points="103.0,207.0 102.7,202.7 107.9,206.4 105.2,204.5"/><polygon class="r0" points="100.7,188.7 103.4,190.6 104.0,184.1 99.1,177.1"/><polygon class="g1" points="110.6,208.4 110.9,204.5 115.5,207.6 112.7,205.7"/><polygon class="y0" points="225.7,137.6 227.3,144.5 231.9,130.3 229.7,125.5"/><polygon class="k1" points="211.7,80.4 214.8,80.7 216.2,82.6 212.8,85.6"/><polygon class="g0" points="75.5,183.2 78.2,185.1 76.2,174.8 71.6,169.4"/><polygon class="y1" points="148.6,214.4 150.9,214.2 153.4,213.7 150.7,211.7"/><polygon class="y0" points="174.1,203.4 176.9,205.3 178.9,202.6 176.1,196.4"/><polygon class="r1" points="132.0,136.2 134.2,135.1 138.2,142.7 136.2,144.5"/><polygon class="y1" points="94.8,204.7 94.6,201.0 100.3,205.2 97.6,203.2"/><polygon class="g1" points="220.1,153.2 223.8,151.5 223.1,161.0 220.4,159.1"/><polygon class="k1" points="118.2,209.6 119.0,206.3 123.0,208.8 120.3,206.9"/><polygon class="y1" points="141.0,213.2 143.0,212.2 145.8,212.5 143.1,210.5"/><polygon class="k1" points="125.8,210.8 127.0,208.2 130.6,210.0 127.9,208.1"/><polygon class="k1" points="92.5,128.0 94.5,127.7 99.1,132.1 99.4,138.7"/><polygon class="r1" points="133.4,212.0 135.1,210.2 138.2,211.3 135.5,209.3"/><polygon class="y1" points="124.1,134.5 126.3,133.6 130.5,140.4 128.8,143.3"/><polygon class="r0" points="141.1,196.6 143.8,198.5 145.8,195.4 141.7,186.8"/><polygon class="g1" points="126.7,65.4 129.3,66.3 131.9,66.3 129.5,66.7"/><polygon class="r1" points="84.6,126.4 86.5,126.3 91.2,130.2 91.7,136.7"/><polygon class="r1" points="204.0,79.0 207.0,79.4 208.6,81.0 205.4,83.7"/><polygon class="k1" points="100.4,129.6 102.4,129.2 107.0,134.0 106.7,139.9"/><polygon class="y1" points="116.2,132.9 118.3,132.1 122.7,138.2 121.5,142.2"/><polygon class="g1" points="108.3,131.2 110.4,130.6 114.9,136.1 114.1,141.0"/><polygon class="r0" points="233.5,137.7 234.7,145.6 239.8,131.1 237.6,126.5"/><polygon class="k0" points="181.7,204.6 184.5,206.5 186.5,203.8 183.9,196.9"/><polygon class="y0" points="177.7,126.5 180.4,135.7 182.6,120.2 179.8,115.7"/><polygon class="k0" points="136.7,116.3 140.8,126.6 140.9,111.1 137.8,107.0"/><polygon class="g1" points="134.4,66.7 137.1,67.6 139.6,67.7 137.2,68.3"/><polygon class="r1" points="196.3,77.6 199.3,78.1 201.0,79.5 197.9,81.8"/><polygon class="y1" points="142.2,68.0 144.9,68.9 147.3,69.1 144.8,69.8"/><polygon class="y1" points="188.6,76.2 191.5,76.7 193.4,77.9 190.4,80.0"/><polygon class="r0" points="241.3,138.0 242.1,146.8 247.7,131.9 245.6,127.4"/><polygon class="r0" points="189.3,205.8 192.1,207.7 194.1,205.0 191.8,197.5"/><polygon class="y1" points="212.5,151.4 215.9,150.0 215.9,158.7 212.9,158.0"/><polygon class="r1" points="149.9,69.4 152.6,70.2 155.0,70.5 152.5,71.4"/><polygon class="g1" points="180.9,74.8 183.7,75.4 185.7,76.4 182.8,78.2"/><polygon class="y0" points="108.3,189.9 111.0,191.8 111.3,184.5 106.8,177.9"/><polygon class="k0" points="212.4,226.2 215.9,226.0 217.3,225.4 214.5,223.4"/><polygon class="r1" points="157.7,70.7 160.4,71.5 162.7,72.0 160.1,73.1"/><polygon class="g1" points="173.1,73.4 176.0,74.1 178.1,74.9 175.3,76.4"/><polygon class="k1" points="165.4,72.1 168.2,72.8 170.4,73.4 167.7,74.7"/><polygon class="r0" points="102.8,107.2 107.2,114.9 106.8,103.1 103.5,99.4"/><polygon class="k0" points="185.3,126.9 187.7,136.9 190.4,121.0 187.7,116.7"/><polygon class="k0" points="249.2,138.4 249.5,147.9 255.7,132.7 253.5,128.4"/><polygon class="k0" points="196.9,207.0 199.7,208.9 201.7,206.2 199.7,198.2"/><polygon class="r0" points="82.7,183.7 85.7,186.3 83.8,175.5 79.4,170.4"/><polygon class="r0" points="148.7,197.8 151.4,199.7 153.2,195.4 149.5,187.6"/><polygon class="g0" points="257.1,138.8 256.9,149.1 263.6,133.6 261.5,129.5"/><polygon class="g1" points="204.8,224.9 208.2,224.0 209.6,224.2 206.8,222.2"/><polygon class="y0" points="204.5,208.2 207.3,210.1 209.3,207.1 207.7,198.9"/><polygon class="g1" points="204.8,149.6 208.1,148.4 208.6,156.3 205.5,156.8"/><polygon class="r0" points="193.0,127.3 195.1,138.0 198.2,121.9 195.5,117.7"/><polygon class="r0" points="144.3,116.8 148.0,126.3 148.7,112.0 145.6,108.0"/><polygon class="y1" points="262.6,159.6 266.7,158.8 264.7,165.2 260.4,166.8"/><polygon class="g1" points="197.1,223.7 200.5,222.1 202.0,223.0 199.2,221.0"/><polygon class="y0" points="115.8,191.1 118.5,193.0 118.8,185.0 114.6,178.8"/><polygon class="g0" points="265.1,139.4 264.8,149.1 271.6,134.5 269.5,130.5"/><polygon class="g1" points="129.3,66.3 132.0,67.6 134.4,66.7 131.9,66.3"/><polygon class="g0" points="54.1,173.1 60.6,180.8 56.1,167.6 51.9,163.4"/><polygon class="y0" points="189.5,222.5 192.7,220.2 194.3,221.7 191.5,219.8"/><polygon class="y0" points="110.4,107.9 114.5,115.1 114.5,104.0 111.3,100.5"/><polygon class="y0" points="156.2,199.0 159.0,200.9 160.8,195.7 157.4,188.3"/><polygon class="r1" points="197.0,147.9 200.2,146.9 201.2,153.9 198.1,155.6"/><polygon class="g0" points="212.1,209.4 214.9,211.4 217.2,207.3 215.7,199.7"/><polygon class="y1" points="137.1,67.6 139.8,68.8 142.2,68.0 139.6,67.7"/><polygon class="r1" points="181.9,221.3 184.9,218.4 186.7,220.5 183.9,218.6"/><polygon class="y0" points="273.1,139.9 272.8,148.9 279.6,135.4 277.5,131.5"/><polygon class="r1" points="174.2,220.1 177.0,216.6 179.1,219.3 176.3,217.3"/><polygon class="k0" points="200.7,127.8 202.6,137.8 206.1,122.7 203.4,118.7"/><polygon class="y1" points="144.9,68.9 147.6,70.1 149.9,69.4 147.3,69.1"/><polygon class="y1" points="254.9,157.9 258.8,157.3 257.5,163.0 252.9,165.7"/><polygon class="k0" points="89.6,183.7 93.2,187.5 91.4,176.3 87.2,171.4"/><polygon class="g0" points="123.3,192.3 126.0,194.2 126.4,185.5 122.4,179.7"/><polygon class="k1" points="166.6,218.6 169.0,214.8 171.4,218.1 168.7,216.1"/><polygon class="r0" points="151.8,117.4 155.3,126.2 156.4,112.9 153.4,109.0"/><polygon class="k1" points="189.2,146.2 192.3,145.4 193.7,151.7 190.7,154.5"/><polygon class="r1" points="152.6,70.2 155.4,71.4 157.7,70.7 155.0,70.5"/><polygon class="y0" points="219.7,210.6 222.5,212.6 225.2,207.5 223.8,200.5"/><polygon class="k1" points="214.8,80.7 217.8,81.6 219.4,81.8 216.2,82.6"/><polygon class="g0" points="163.8,200.2 166.5,202.2 168.4,196.0 165.2,189.2"/><polygon class="k1" points="160.4,71.5 163.2,72.6 165.4,72.1 162.7,72.0"/><polygon class="k1" points="207.0,79.4 210.0,80.3 211.7,80.4 208.6,81.0"/><polygon class="k1" points="168.2,72.8 171.0,73.9 173.1,73.4 170.4,73.4"/><polygon class="r1" points="199.3,78.1 202.2,79.0 204.0,79.0 201.0,79.5"/><polygon class="y0" points="117.9,108.6 121.8,115.4 122.2,105.0 119.1,101.6"/><polygon points="138.4,80.2 139.9,84.2 132.8,31.8 131.0,27.1" fill="#760609" stroke="#111" stroke-width="0.45"/><polygon class="g1" points="176.0,74.1 178.8,75.2 180.9,74.8 178.1,74.9"/><polygon class="r1" points="181.4,144.5 184.4,143.9 186.2,149.5 183.2,153.3"/><polygon class="y1" points="191.5,76.7 194.4,77.8 196.3,77.6 193.4,77.9"/><polygon class="y1" points="183.7,75.4 186.6,76.5 188.6,76.2 185.7,76.4"/><polygon class="g1" points="132.0,67.6 134.8,69.0 137.1,67.6 134.4,66.7"/><polygon class="y0" points="61.4,173.6 68.0,182.0 63.8,168.5 59.8,164.4"/><polygon class="g1" points="158.8,216.4 161.0,213.1 163.8,216.9 161.0,214.9"/><polygon class="k0" points="227.3,211.8 230.1,213.8 233.2,207.9 231.9,201.4"/><polygon class="r1" points="247.1,156.3 250.9,155.9 250.2,160.9 245.4,164.5"/><polygon class="y0" points="208.4,128.3 210.2,137.6 213.9,123.6 211.3,119.7"/><polygon class="k0" points="130.8,193.5 133.6,195.4 134.0,186.1 130.3,180.6"/><polygon points="139.9,84.2 144.3,82.7 138.1,30.1 132.8,31.8" fill="#b1090e" stroke="#111" stroke-width="0.45"/><polygon class="g1" points="173.6,142.9 176.4,142.5 178.6,147.4 175.8,152.1"/><polygon class="y1" points="139.8,68.8 142.6,70.3 144.9,68.9 142.2,68.0"/><polygon points="143.7,82.4 146.7,84.9 140.9,32.6 137.2,29.7" fill="#0e0e0e" stroke="#111" stroke-width="0.45"/><polygon class="g0" points="171.4,201.4 174.1,203.4 176.1,196.4 173.2,190.0"/><polygon points="146.7,84.9 149.6,82.1 144.3,29.3 140.9,32.6" fill="#0e0e0e" stroke="#111" stroke-width="0.45"/><polygon class="y0" points="159.5,118.0 162.7,126.2 164.2,113.8 161.2,110.1"/><polygon points="150.5,82.0 152.0,84.7 147.1,32.4 145.3,29.2" fill="#0e0e0e" stroke="#111" stroke-width="0.45"/><polygon class="g1" points="150.9,214.2 153.0,211.4 156.2,215.6 153.4,213.7"/><polygon class="y1" points="165.7,141.3 168.5,141.0 170.9,145.4 168.4,151.0"/><polygon class="r0" points="96.7,183.9 100.7,188.7 99.1,177.1 95.1,172.4"/><polygon points="152.0,84.7 155.0,83.3 150.7,30.8 147.1,32.4" fill="#0e0e0e" stroke="#111" stroke-width="0.45"/><polygon class="r0" points="99.1,102.2 102.8,107.2 103.5,99.4 100.4,96.4"/><polygon class="g1" points="157.9,139.7 160.6,139.6 163.2,143.5 161.0,149.8"/><polygon class="k1" points="239.4,154.7 243.0,154.4 242.8,158.9 238.0,163.3"/><polygon class="g0" points="125.6,109.4 129.2,115.8 130.0,106.0 126.9,102.6"/><polygon class="y1" points="143.0,212.2 144.9,209.8 148.6,214.4 145.8,212.5"/><polygon class="k0" points="138.4,194.7 141.1,196.6 141.7,186.8 138.2,181.6"/><polygon class="r1" points="155.4,71.4 158.2,72.8 160.4,71.5 157.7,70.7"/><polygon class="g0" points="216.2,129.0 217.9,137.5 221.8,124.5 219.2,120.8"/><polygon points="160.3,86.8 162.5,82.7 159.7,30.1 157.0,34.8" fill="#f10c12" stroke="#111" stroke-width="0.45"/><polygon points="168.0,86.7 168.0,82.3 166.2,29.6 166.2,34.7" fill="#0ff70f" stroke="#111" stroke-width="0.45"/><polygon class="k0" points="178.9,202.6 181.7,204.6 183.9,196.9 181.1,190.9"/><polygon class="y1" points="134.8,69.0 137.6,70.6 139.8,68.8 137.1,67.6"/><polygon class="r1" points="135.1,210.2 136.8,208.1 141.0,213.2 138.2,211.3"/><polygon class="y1" points="94.6,201.0 96.0,200.3 103.0,207.0 100.3,205.2"/><polygon points="155.9,84.8 160.3,86.8 157.0,34.8 151.8,32.5" fill="#760609" stroke="#111" stroke-width="0.45"/><polygon class="k1" points="163.2,72.6 166.0,74.0 168.2,72.8 165.4,72.1"/><polygon class="y0" points="68.8,174.2 75.5,183.2 71.6,169.4 67.7,165.5"/><polygon points="169.2,83.8 169.7,86.9 168.1,35.0 167.6,31.3" fill="#77730b" stroke="#111" stroke-width="0.45"/><polygon class="g1" points="102.7,202.7 104.2,201.8 110.6,208.4 107.9,206.4"/><polygon class="r1" points="150.0,138.2 152.6,138.1 155.4,141.6 153.5,147.7"/><polygon class="r1" points="127.0,208.2 128.7,206.5 133.4,212.0 130.6,210.0"/><polygon class="g1" points="110.9,204.5 112.4,203.4 118.2,209.6 115.5,207.6"/><polygon class="k1" points="119.0,206.3 120.5,204.9 125.8,210.8 123.0,208.8"/><polygon class="g0" points="167.2,118.7 170.2,126.3 172.0,114.7 169.1,111.1"/><polygon class="k1" points="231.6,153.1 235.1,152.9 235.3,156.9 230.5,162.2"/><polygon class="k0" points="215.9,226.0 220.0,223.7 220.1,227.4 217.3,225.4"/><polygon class="r1m" points="119.6,70.2 128.1,75.6 134.8,69.0 126.7,65.4"/><polygon class="y1" points="142.6,70.3 145.4,71.8 147.6,70.1 144.9,68.9"/><polygon class="r1" points="217.8,81.6 220.8,82.9 222.5,82.1 219.4,81.8"/><polygon points="163.2,86.7 168.0,86.7 166.2,34.7 160.4,34.7" fill="#088708" stroke="#111" stroke-width="0.45"/><polygon class="g1" points="178.8,75.2 181.7,76.5 183.7,75.4 180.9,74.8"/><polygon points="169.7,86.9 173.2,86.5 172.3,34.4 168.1,35.0" fill="#9b960e" stroke="#111" stroke-width="0.45"/><polygon class="k1" points="210.0,80.3 213.0,81.6 214.8,80.7 211.7,80.4"/><polygon class="y1" points="186.6,76.5 189.5,77.8 191.5,76.7 188.6,76.2"/><polygon class="g0" points="106.8,103.1 110.4,107.9 111.3,100.5 108.2,97.5"/><polygon class="r1" points="202.2,79.0 205.1,80.3 207.0,79.4 204.0,79.0"/><polygon class="g1" points="194.4,77.8 197.3,79.0 199.3,78.1 196.3,77.6"/><polygon class="r0" points="186.5,203.8 189.3,205.8 191.8,197.5 189.1,191.9"/><polygon class="y0" points="224.1,129.6 225.7,137.6 229.7,125.5 227.2,121.8"/><polygon class="k0" points="133.2,110.2 136.7,116.3 137.8,107.0 134.7,103.7"/><polygon class="k1" points="142.1,136.6 144.7,136.7 147.6,139.8 145.9,145.1"/><polygon class="g0" points="104.0,184.1 108.3,189.9 106.8,177.9 103.0,173.4"/><polygon class="r0" points="145.8,195.4 148.7,197.8 149.5,187.6 146.1,182.6"/><polygon class="g1" points="223.8,151.5 227.2,151.5 227.7,155.0 223.1,161.0"/><polygon points="173.6,86.8 176.0,90.4 175.7,39.0 172.8,34.8" fill="#77730b" stroke="#111" stroke-width="0.45"/><polygon class="y1" points="137.6,70.6 140.3,72.2 142.6,70.3 139.8,68.8"/><polygon points="179.7,86.8 181.3,91.0 182.0,39.7 180.0,34.9" fill="#077607" stroke="#111" stroke-width="0.45"/><polygon class="k1" points="158.2,72.8 161.0,74.3 163.2,72.6 160.4,71.5"/><polygon class="r0" points="194.1,205.0 196.9,207.0 199.7,198.2 197.2,192.8"/><polygon class="y1" points="208.2,224.0 212.1,222.1 212.4,226.2 209.6,224.2"/><polygon points="176.0,90.4 180.0,88.1 180.4,36.4 175.7,39.0" fill="#cac413" stroke="#111" stroke-width="0.45"/><polygon class="g0" points="174.9,119.5 177.7,126.5 179.8,115.7 176.9,112.2"/><polygon class="k0" points="231.9,130.3 233.5,137.7 237.6,126.5 235.1,122.9"/><polygon class="r1" points="134.2,135.1 136.7,135.3 139.8,138.0 138.2,142.7"/><polygon class="k1" points="166.0,74.0 168.9,75.5 171.0,73.9 168.2,72.8"/><polygon points="188.5,91.8 189.6,88.8 191.9,37.2 190.5,40.7" fill="#f50c13" stroke="#111" stroke-width="0.45"/><polygon points="181.3,91.0 185.8,89.4 187.4,37.9 182.0,39.7" fill="#0bb20b" stroke="#111" stroke-width="0.45"/><polygon class="g1" points="78.6,124.9 80.9,125.6 84.6,126.4 83.3,128.3"/><polygon class="y0" points="114.5,104.0 117.9,108.6 119.1,101.6 116.0,98.6"/><polygon points="196.6,93.2 197.5,89.5 201.2,38.0 200.1,42.3" fill="#0e0e0e" stroke="#111" stroke-width="0.45"/><polygon class="y0" points="201.7,206.2 204.5,208.2 207.7,198.9 205.3,193.8"/><polygon points="185.2,90.7 188.5,91.8 190.5,40.7 186.5,39.4" fill="#760609" stroke="#111" stroke-width="0.45"/><polygon class="g1" points="126.3,133.6 128.7,133.9 132.0,136.2 130.5,140.4"/><polygon class="k0" points="140.9,111.1 144.3,116.8 145.6,108.0 142.6,104.8"/><polygon class="g1m" points="143.2,73.9 151.7,79.3 158.2,72.8 149.9,69.4"/><polygon class="r0" points="76.2,174.8 82.7,183.7 79.4,170.4 75.6,166.6"/><polygon points="198.3,90.8 199.4,93.6 203.4,42.7 202.2,39.5" fill="#760609" stroke="#111" stroke-width="0.45"/><polygon class="r1" points="86.5,126.3 88.9,127.0 92.5,128.0 91.2,130.2"/><polygon class="y1" points="181.7,76.5 184.5,78.0 186.6,76.5 183.7,75.4"/><polygon class="g1" points="200.5,222.1 204.1,220.4 204.8,224.9 202.0,223.0"/><polygon class="r0" points="239.8,131.1 241.3,138.0 245.6,127.4 243.1,124.0"/><polygon class="y1" points="140.3,72.2 143.2,73.9 145.4,71.8 142.6,70.3"/><polygon class="y1" points="118.3,132.1 120.8,132.5 124.1,134.5 122.7,138.2"/><polygon class="r1" points="220.8,82.9 223.8,84.3 225.6,82.9 222.5,82.1"/><polygon class="y1" points="189.5,77.8 192.4,79.3 194.4,77.8 191.5,76.7"/><polygon class="k1" points="94.5,127.7 96.8,128.4 100.4,129.6 99.1,132.1"/><polygon points="199.4,93.6 202.4,92.6 207.0,41.7 203.4,42.7" fill="#ae090d" stroke="#111" stroke-width="0.45"/><polygon points="192.5,92.3 196.6,93.2 200.1,42.3 195.3,41.3" fill="#0e0e0e" stroke="#111" stroke-width="0.45"/><polygon class="k1" points="213.0,81.6 215.9,83.0 217.8,81.6 214.8,80.7"/><polygon class="y1" points="215.9,150.0 219.2,150.1 220.1,153.2 215.9,158.7"/><polygon class="g1" points="197.3,79.0 200.2,80.5 202.2,79.0 199.3,78.1"/><polygon class="k1" points="205.1,80.3 208.1,81.8 210.0,80.3 207.0,79.4"/><polygon class="g1" points="110.4,130.6 112.8,131.1 116.2,132.9 114.9,136.1"/><polygon class="r1" points="102.4,129.2 104.8,129.7 108.3,131.2 107.0,134.0"/><polygon class="k0" points="182.6,120.2 185.3,126.9 187.7,116.7 184.8,113.3"/><polygon class="g0" points="103.5,99.4 106.8,103.1 108.2,97.5 105.2,94.9"/><polygon class="y0" points="111.3,184.5 115.8,191.1 114.6,178.8 110.9,174.5"/><polygon class="k1" points="161.0,74.3 163.9,75.9 166.0,74.0 163.2,72.6"/><polygon class="y0" points="153.2,195.4 156.2,199.0 157.4,188.3 154.1,183.6"/><polygon class="g0" points="209.3,207.1 212.1,209.4 215.7,199.7 213.4,194.9"/><polygon class="k0" points="247.7,131.9 249.2,138.4 253.5,128.4 251.0,125.1"/><polygon class="y0" points="192.7,220.2 196.1,218.9 197.1,223.7 194.3,221.7"/><polygon class="g0" points="122.2,105.0 125.6,109.4 126.9,102.6 123.9,99.7"/><polygon class="r0" points="148.7,112.0 151.8,117.4 153.4,109.0 150.4,105.9"/><polygon class="r1m" points="166.7,77.6 175.3,82.9 181.7,76.5 173.1,73.4"/><polygon class="y0" points="255.7,132.7 257.1,138.8 261.5,129.5 259.0,126.2"/><polygon class="r0" points="190.4,121.0 193.0,127.3 195.5,117.7 192.7,114.3"/><polygon class="y1" points="184.5,78.0 187.4,79.6 189.5,77.8 186.6,76.5"/><polygon class="k1" points="184.9,218.4 188.0,217.3 189.5,222.5 186.7,220.5"/><polygon class="g0" points="100.4,96.4 103.5,99.4 105.2,94.9 102.2,92.4"/><polygon class="g0" points="263.6,133.6 265.1,139.4 269.5,130.5 267.0,127.3"/><polygon class="k1m" points="128.1,75.6 136.6,81.1 143.2,73.9 134.8,69.0"/><polygon class="y0" points="111.3,100.5 114.5,104.0 116.0,98.6 113.1,96.0"/><polygon class="g1" points="192.4,79.3 195.3,80.9 197.3,79.0 194.4,77.8"/><polygon class="y1" points="208.1,148.4 211.2,148.7 212.5,151.4 208.6,156.3"/><polygon class="r1" points="223.8,84.3 226.7,85.8 228.6,84.1 225.6,82.9"/><polygon class="k1" points="163.9,75.9 166.7,77.6 168.9,75.5 166.0,74.0"/><polygon class="g0" points="48.5,166.7 54.1,173.1 51.9,163.4 48.3,160.0"/><polygon class="g1" points="200.2,80.5 203.1,82.1 205.1,80.3 202.2,79.0"/><polygon class="r1" points="215.9,83.0 218.9,84.6 220.8,82.9 217.8,81.6"/><polygon class="y0" points="271.6,134.5 273.1,139.9 277.5,131.5 275.0,128.4"/><polygon class="k1" points="208.1,81.8 211.0,83.3 213.0,81.6 210.0,80.3"/><polygon class="g0" points="217.2,207.3 219.7,210.6 223.8,200.5 221.5,195.9"/><polygon class="k0" points="279.6,135.4 281.1,140.6 285.5,132.6 283.1,129.5"/><polygon class="r0" points="130.0,106.0 133.2,110.2 134.7,103.7 131.7,100.9"/><polygon class="r1" points="177.0,216.6 179.9,215.7 181.9,221.3 179.1,219.3"/><polygon class="g0" points="118.8,185.0 123.3,192.3 122.4,179.7 118.9,175.6"/><polygon class="y0" points="160.8,195.7 163.8,200.2 165.2,189.2 162.1,184.6"/><polygon class="y0" points="156.4,112.9 159.5,118.0 161.2,110.1 158.3,107.0"/><polygon class="g1m" points="112.9,77.5 121.4,83.1 128.1,75.6 119.6,70.2"/><polygon class="r0" points="198.2,121.9 200.7,127.8 203.4,118.7 200.6,115.4"/><polygon class="k0" points="83.8,175.5 89.6,183.7 87.2,171.4 83.6,167.7"/><polygon class="k1" points="169.0,214.8 171.8,214.2 174.2,220.1 171.4,218.1"/><polygon class="g0" points="108.2,97.5 111.3,100.5 113.1,96.0 110.1,93.6"/><polygon class="y1" points="187.4,79.6 190.3,81.3 192.4,79.3 189.5,77.8"/><polygon class="y0" points="119.1,101.6 122.2,105.0 123.9,99.7 120.9,97.1"/><polygon class="g1" points="195.3,80.9 198.2,82.5 200.2,80.5 197.3,79.0"/><polygon class="r1" points="200.2,146.9 203.3,147.2 204.8,149.6 201.2,153.9"/><polygon class="y1" points="161.0,213.1 163.7,212.6 166.6,218.6 163.8,216.9"/><polygon class="k0" points="225.2,207.5 227.3,211.8 231.9,201.4 229.6,197.0"/><polygon class="r1" points="218.9,84.6 221.8,86.2 223.8,84.3 220.8,82.9"/><polygon class="g0" points="105.2,94.9 108.2,97.5 110.1,93.6 107.2,91.3"/><polygon class="k1" points="211.0,83.3 213.9,85.0 215.9,83.0 213.0,81.6"/><polygon class="k0" points="137.8,107.0 140.9,111.1 142.6,104.8 139.6,102.0"/><polygon class="g0" points="102.2,92.4 105.2,94.9 107.2,91.3 104.3,89.0"/><polygon class="y0" points="206.1,122.7 208.4,128.3 211.3,119.7 208.6,116.5"/><polygon class="y0" points="164.2,113.8 167.2,118.7 169.1,111.1 166.2,108.1"/><polygon class="y1m" points="151.7,79.3 160.2,84.8 166.7,77.6 158.2,72.8"/><polygon class="y1" points="258.8,157.3 262.4,157.9 262.6,159.6 257.5,163.0"/><polygon class="g0" points="168.4,196.0 171.4,201.4 173.2,190.0 170.2,185.7"/><polygon class="g0" points="104.3,89.0 107.2,91.3 109.3,88.1 106.4,86.0"/><polygon class="r0" points="126.4,185.5 130.8,193.5 130.3,180.6 126.9,176.6"/><polygon class="y0" points="116.0,98.6 119.1,101.6 120.9,97.1 118.0,94.7"/><polygon class="g1" points="190.3,81.3 193.2,83.0 195.3,80.9 192.4,79.3"/><polygon class="r0" points="126.9,102.6 130.0,106.0 131.7,100.9 128.8,98.3"/><polygon class="g0" points="213.9,123.6 216.2,129.0 219.2,120.8 216.5,117.7"/><polygon class="r1m" points="106.4,86.0 115.0,92.4 121.4,83.1 112.9,77.5"/><polygon class="g0" points="56.1,167.6 61.4,173.6 59.8,164.4 56.2,161.1"/><polygon class="g1" points="198.2,82.5 201.1,84.3 203.1,82.1 200.2,80.5"/><polygon class="g0" points="107.2,91.3 110.1,93.6 112.1,90.2 109.3,88.1"/><polygon class="k1" points="192.3,145.4 195.3,145.8 197.0,147.9 193.7,151.7"/><polygon class="g1" points="153.0,211.4 155.5,211.1 158.8,216.4 156.2,215.6"/><polygon class="g0" points="172.0,114.7 174.9,119.5 176.9,112.2 174.1,109.2"/><polygon class="r1" points="221.8,86.2 224.8,88.0 226.7,85.8 223.8,84.3"/><polygon class="r0" points="145.6,108.0 148.7,112.0 150.4,105.9 147.5,103.1"/><polygon class="y0" points="113.1,96.0 116.0,98.6 118.0,94.7 115.0,92.4"/><polygon class="r1" points="213.9,85.0 216.9,86.7 218.9,84.6 215.9,83.0"/><polygon class="g0" points="110.1,93.6 113.1,96.0 115.0,92.4 112.1,90.2"/><polygon class="g0" points="221.8,124.5 224.1,129.6 227.2,121.8 224.4,118.8"/><polygon class="g1" points="80.9,125.6 83.4,126.8 86.5,126.3 84.6,126.4"/><polygon class="r1m" points="136.6,81.1 145.1,86.8 151.7,79.3 143.2,73.9"/><polygon class="y1m" points="121.4,83.1 130.1,89.6 136.6,81.1 128.1,75.6"/><polygon class="k1m" points="175.3,82.9 184.0,88.5 190.3,81.3 181.7,76.5"/><polygon class="r0" points="123.9,99.7 126.9,102.6 128.8,98.3 125.8,95.9"/><polygon class="g1" points="193.2,83.0 196.1,84.8 198.2,82.5 195.3,80.9"/><polygon class="k0" points="91.4,176.3 96.7,183.9 95.1,172.4 91.5,168.8"/><polygon class="k0" points="134.7,103.7 137.8,107.0 139.6,102.0 136.7,99.5"/><polygon class="k0" points="229.7,125.5 231.9,130.3 235.1,122.9 232.4,119.9"/><polygon class="k1" points="184.4,143.9 187.3,144.4 189.2,146.2 186.2,149.5"/><polygon class="k0" points="179.8,115.7 182.6,120.2 184.8,113.3 182.0,110.4"/><polygon class="y1" points="144.9,209.8 147.4,209.6 150.9,214.2 148.6,214.4"/><polygon class="k0" points="176.1,196.4 178.9,202.6 181.1,190.9 178.2,186.8"/><polygon class="r1" points="250.9,155.9 254.4,156.5 254.9,157.9 250.2,160.9"/><polygon class="g0" points="153.4,109.0 156.4,112.9 158.3,107.0 155.4,104.3"/><polygon class="r1" points="216.9,86.7 219.8,88.5 221.8,86.2 218.9,84.6"/><polygon class="k1m" points="115.0,92.4 123.9,99.7 130.1,89.6 121.4,83.1"/><polygon class="k0" points="134.0,186.1 138.4,194.7 138.2,181.6 134.9,177.7"/><polygon class="k1" points="88.9,127.0 91.4,128.1 94.5,127.7 92.5,128.0"/><polygon class="r0" points="237.6,126.5 239.8,131.1 243.1,124.0 240.4,121.0"/><polygon class="k1m" points="222.7,90.3 231.6,95.9 237.6,88.7 228.6,84.1"/><polygon class="y1m" points="199.0,86.6 207.8,92.2 213.9,85.0 205.1,80.3"/><polygon class="r0" points="245.6,127.4 247.7,131.9 251.0,125.1 248.4,122.2"/><polygon class="k0" points="277.5,131.5 279.6,135.4 283.1,129.5 280.4,126.8"/><polygon class="k1" points="136.8,208.1 139.2,208.1 143.0,212.2 141.0,213.2"/><polygon class="g1" points="196.1,84.8 199.0,86.6 201.1,84.3 198.2,82.5"/><polygon class="k0" points="187.7,116.7 190.4,121.0 192.7,114.3 189.9,111.5"/><polygon class="g1" points="176.4,142.5 179.4,143.0 181.4,144.5 178.6,147.4"/><polygon class="y0" points="253.5,128.4 255.7,132.7 259.0,126.2 256.4,123.3"/><polygon class="r0" points="131.7,100.9 134.7,103.7 136.7,99.5 133.7,97.1"/><polygon class="g0" points="269.5,130.5 271.6,134.5 275.0,128.4 272.4,125.6"/><polygon class="k1" points="96.8,128.4 99.4,129.5 102.4,129.2 100.4,129.6"/><polygon class="k0" points="142.6,104.8 145.6,108.0 147.5,103.1 144.5,100.6"/><polygon class="g0" points="261.5,129.5 263.6,133.6 267.0,127.3 264.4,124.5"/><polygon class="r1" points="219.8,88.5 222.7,90.3 224.8,88.0 221.8,86.2"/><polygon class="y0" points="161.2,110.1 164.2,113.8 166.2,108.1 163.3,105.4"/><polygon class="r0" points="128.8,98.3 131.7,100.9 133.7,97.1 130.8,94.8"/><polygon class="y0" points="63.8,168.5 68.8,174.2 67.7,165.5 64.2,162.3"/><polygon class="r0" points="125.8,95.9 128.8,98.3 130.8,94.8 127.9,92.6"/><polygon class="k0" points="183.9,196.9 186.5,203.8 189.1,191.9 186.3,187.9"/><polygon class="r1" points="128.7,206.5 131.0,206.6 135.1,210.2 133.4,212.0"/><polygon class="g1m" points="160.2,84.8 168.9,90.5 175.3,82.9 166.7,77.6"/><polygon class="y1" points="168.5,141.0 171.4,141.7 173.6,142.9 170.9,145.4"/><polygon class="r1" points="104.8,129.7 107.4,130.8 110.4,130.6 108.3,131.2"/><polygon class="r1" points="243.0,154.4 246.4,155.1 247.1,156.3 242.8,158.9"/><polygon class="r0" points="195.5,117.7 198.2,121.9 200.6,115.4 197.8,112.6"/><polygon class="k1" points="120.5,204.9 122.8,205.2 127.0,208.2 125.8,210.8"/><polygon class="r0" points="127.9,92.6 130.8,94.8 132.9,91.7 130.1,89.6"/><polygon class="g1m" points="130.1,89.6 138.7,96.0 145.1,86.8 136.6,81.1"/><polygon class="k0" points="139.6,102.0 142.6,104.8 144.5,100.6 141.6,98.3"/><polygon class="g0" points="150.4,105.9 153.4,109.0 155.4,104.3 152.4,101.8"/><polygon class="y1" points="112.4,203.4 114.6,203.7 119.0,206.3 118.2,209.6"/><polygon class="y1" points="112.8,131.1 115.4,132.1 118.3,132.1 116.2,132.9"/><polygon class="y1" points="96.0,200.3 98.2,200.8 102.7,202.7 103.0,207.0"/><polygon class="g1" points="104.2,201.8 106.4,202.3 110.9,204.5 110.6,208.4"/><polygon class="g0" points="169.1,111.1 172.0,114.7 174.1,109.2 171.2,106.6"/><polygon class="y1" points="160.6,139.6 163.4,140.3 165.7,141.3 163.2,143.5"/><polygon class="k1m" points="145.1,86.8 153.8,93.2 160.2,84.8 151.7,79.3"/><polygon class="r0" points="130.8,94.8 133.7,97.1 135.8,93.8 132.9,91.7"/><polygon class="r0" points="141.7,186.8 145.8,195.4 146.1,182.6 142.9,178.9"/><polygon class="y0" points="203.4,118.7 206.1,122.7 208.6,116.5 205.7,113.8"/><polygon class="y1" points="212.1,222.1 215.6,222.1 215.9,226.0 212.4,226.2"/><polygon class="g1" points="75.4,125.5 78.0,126.9 80.9,125.6 78.6,124.9"/><polygon class="k0" points="136.7,99.5 139.6,102.0 141.6,98.3 138.7,96.0"/><polygon class="r0" points="133.7,97.1 136.7,99.5 138.7,96.0 135.8,93.8"/><polygon class="y1" points="120.8,132.5 123.4,133.5 126.3,133.6 124.1,134.5"/><polygon class="g0" points="99.1,177.1 104.0,184.1 103.0,173.4 99.5,170.0"/><polygon class="r1" points="152.6,138.1 155.4,138.9 157.9,139.7 155.4,141.6"/><polygon class="r0" points="191.8,197.5 194.1,205.0 197.2,192.8 194.4,189.0"/><polygon class="g1" points="128.7,133.9 131.4,134.8 134.2,135.1 132.0,136.2"/><polygon class="k1" points="144.7,136.7 147.4,137.5 150.0,138.2 147.6,139.8"/><polygon class="k1" points="136.7,135.3 139.4,136.2 142.1,136.6 139.8,138.0"/><polygon class="y0" points="211.3,119.7 213.9,123.6 216.5,117.7 213.7,114.9"/><polygon class="r1m" points="184.0,88.5 192.7,94.2 199.0,86.6 190.3,81.3"/><polygon class="r0" points="176.9,112.2 179.8,115.7 182.0,110.4 179.1,107.7"/><polygon class="y0" points="158.3,107.0 161.2,110.1 163.3,105.4 160.3,103.0"/><polygon class="g0" points="147.5,103.1 150.4,105.9 152.4,101.8 149.5,99.4"/><polygon class="k0" points="283.1,129.5 285.5,132.6 288.4,127.9 285.7,125.4"/><polygon class="k1" points="235.1,152.9 238.4,153.7 239.4,154.7 235.3,156.9"/><polygon class="y1m" points="138.7,96.0 147.5,103.1 153.8,93.2 145.1,86.8"/><polygon class="r1m" points="231.6,95.9 240.5,101.6 246.5,94.0 237.6,88.7"/><polygon class="g0" points="219.2,120.8 221.8,124.5 224.4,118.8 221.6,116.1"/><polygon class="k0" points="275.0,128.4 277.5,131.5 280.4,126.8 277.6,124.3"/><polygon class="g1m" points="207.8,92.2 216.5,97.9 222.7,90.3 213.9,85.0"/><polygon class="g1" points="83.4,126.8 86.0,128.2 88.9,127.0 86.5,126.3"/><polygon class="k0" points="184.8,113.3 187.7,116.7 189.9,111.5 187.0,108.9"/><polygon class="k0" points="227.2,121.8 229.7,125.5 232.4,119.9 229.6,117.2"/><polygon class="g0" points="267.0,127.3 269.5,130.5 272.4,125.6 269.6,123.1"/><polygon class="y0" points="199.7,198.2 201.7,206.2 205.3,193.8 202.6,190.1"/><polygon class="y0" points="166.2,108.1 169.1,111.1 171.2,106.6 168.3,104.1"/><polygon class="r0" points="71.6,169.4 76.2,174.8 75.6,166.6 72.2,163.5"/><polygon class="g0" points="155.4,104.3 158.3,107.0 160.3,103.0 157.4,100.6"/><polygon class="k0" points="235.1,122.9 237.6,126.5 240.4,121.0 237.6,118.4"/><polygon class="g1" points="204.1,220.4 207.5,220.6 208.2,224.0 204.8,224.9"/><polygon class="y0" points="259.0,126.2 261.5,129.5 264.4,124.5 261.6,121.9"/><polygon class="r0" points="243.1,124.0 245.6,127.4 248.4,122.2 245.6,119.6"/><polygon class="y0" points="251.0,125.1 253.5,128.4 256.4,123.3 253.6,120.7"/><polygon class="y1m" points="168.9,90.5 177.6,96.8 184.0,88.5 175.3,82.9"/><polygon class="g0" points="152.4,101.8 155.4,104.3 157.4,100.6 154.5,98.4"/><polygon class="r1m" points="153.8,93.2 162.5,99.6 168.9,90.5 160.2,84.8"/><polygon class="r0" points="192.7,114.3 195.5,117.7 197.8,112.6 194.9,110.1"/><polygon class="g0" points="149.5,99.4 152.4,101.8 154.5,98.4 151.6,96.2"/><polygon class="g1" points="227.2,151.5 230.4,152.3 231.6,153.1 227.7,155.0"/><polygon class="g0" points="51.9,163.4 56.1,167.6 56.2,161.1 52.9,158.3"/><polygon class="k1" points="91.4,128.1 94.0,129.5 96.8,128.4 94.5,127.7"/><polygon class="r0" points="174.1,109.2 176.9,112.2 179.1,107.7 176.2,105.3"/><polygon class="g0" points="151.6,96.2 154.5,98.4 156.7,95.3 153.8,93.2"/><polygon class="k0" points="280.4,126.8 283.1,129.5 285.7,125.4 282.8,123.1"/><polygon class="y0" points="163.3,105.4 166.2,108.1 168.3,104.1 165.4,101.8"/><polygon class="g0" points="200.6,115.4 203.4,118.7 205.7,113.8 202.9,111.2"/><polygon class="g0" points="149.5,187.6 153.2,195.4 154.1,183.6 151.0,180.0"/><polygon class="g0" points="154.5,98.4 157.4,100.6 159.6,97.4 156.7,95.3"/><polygon class="y0" points="106.8,177.9 111.3,184.5 110.9,174.5 107.6,171.1"/><polygon class="y0" points="207.7,198.9 209.3,207.1 213.4,194.9 210.7,191.2"/><polygon class="k0" points="285.7,125.4 288.4,127.9 290.9,124.3 288.0,122.0"/><polygon class="y0" points="160.3,103.0 163.3,105.4 165.4,101.8 162.5,99.6"/><polygon class="k1m" points="240.5,101.6 249.3,107.8 255.5,99.6 246.5,94.0"/><polygon class="g0" points="157.4,100.6 160.3,103.0 162.5,99.6 159.6,97.4"/><polygon class="k1m" points="192.7,94.2 201.4,100.4 207.8,92.2 199.0,86.6"/><polygon class="k0" points="182.0,110.4 184.8,113.3 187.0,108.9 184.1,106.5"/><polygon class="g1" points="196.1,218.9 199.3,219.2 200.5,222.1 197.1,223.7"/><polygon class="y0" points="208.6,116.5 211.3,119.7 213.7,114.9 210.8,112.4"/><polygon class="g1" points="78.0,126.9 80.7,128.5 83.4,126.8 80.9,125.6"/><polygon class="r0" points="171.2,106.6 174.1,109.2 176.2,105.3 173.3,103.0"/><polygon class="g1" points="219.2,150.1 222.4,150.9 223.8,151.5 220.1,153.2"/><polygon class="g0" points="264.4,124.5 267.0,127.3 269.6,123.1 266.8,120.7"/><polygon class="r1" points="99.4,129.5 102.1,130.9 104.8,129.7 102.4,129.2"/><polygon class="k1m" points="162.5,99.6 171.2,106.6 177.6,96.8 168.9,90.5"/><polygon class="y1m" points="216.5,97.9 225.3,104.1 231.6,95.9 222.7,90.3"/><polygon class="g0" points="216.5,117.7 219.2,120.8 221.6,116.1 218.8,113.6"/><polygon class="k0" points="277.6,124.3 280.4,126.8 282.8,123.1 279.9,120.8"/><polygon class="k0" points="282.8,123.1 285.7,125.4 288.0,122.0 285.1,119.8"/><polygon class="y0" points="256.4,123.3 259.0,126.2 261.6,121.9 258.8,119.5"/><polygon class="k0" points="189.9,111.5 192.7,114.3 194.9,110.1 192.1,107.7"/><polygon class="r0m" points="266.8,120.7 275.0,128.4 282.1,117.7 273.4,111.1"/><polygon class="k0" points="232.4,119.9 235.1,122.9 237.6,118.4 234.8,115.9"/><polygon class="r0" points="240.4,121.0 243.1,124.0 245.6,119.6 242.8,117.1"/><polygon class="g1m" points="177.6,96.8 186.3,103.2 192.7,94.2 184.0,88.5"/><polygon class="r0" points="179.1,107.7 182.0,110.4 184.1,106.5 181.2,104.2"/><polygon class="k0" points="279.9,120.8 282.8,123.1 285.1,119.8 282.1,117.7"/><polygon class="r0" points="79.4,170.4 83.8,175.5 83.6,167.7 80.2,164.6"/><polygon class="r1m" points="249.3,107.8 258.1,114.0 264.4,105.3 255.5,99.6"/><polygon class="g0" points="197.8,112.6 200.6,115.4 202.9,111.2 200.0,108.8"/><polygon class="r1" points="107.4,130.8 110.1,132.2 112.8,131.1 110.4,130.6"/><polygon class="g1" points="72.7,127.2 75.4,129.0 78.0,126.9 75.4,125.5"/><polygon class="y1" points="211.2,148.7 214.4,149.6 215.9,150.0 212.5,151.4"/><polygon class="r0" points="176.2,105.3 179.1,107.7 181.2,104.2 178.3,102.0"/><polygon class="k1" points="188.0,217.3 191.1,217.7 192.7,220.2 189.5,222.5"/><polygon class="r0" points="173.3,103.0 176.2,105.3 178.3,102.0 175.4,99.8"/><polygon class="y0" points="261.6,121.9 264.4,124.5 266.8,120.7 263.9,118.4"/><polygon class="k0" points="187.0,108.9 189.9,111.5 192.1,107.7 189.2,105.4"/><polygon class="r0" points="175.4,99.8 178.3,102.0 180.5,98.9 177.6,96.8"/><polygon class="y0" points="59.8,164.4 63.8,168.5 64.2,162.3 60.9,159.5"/><polygon class="g0m" points="242.8,117.1 251.0,125.1 258.1,114.0 249.3,107.8"/><polygon class="y0" points="205.7,113.8 208.6,116.5 210.8,112.4 208.0,110.0"/><polygon class="r0m" points="218.8,113.6 227.2,121.8 234.1,110.4 225.3,104.1"/><polygon class="y1" points="262.4,157.9 265.8,158.9 266.7,158.8 262.6,159.6"/><polygon class="y0" points="253.6,120.7 256.4,123.3 258.8,119.5 255.9,117.2"/><polygon class="k1m" points="258.1,114.0 266.8,120.7 273.4,111.1 264.4,105.3"/><polygon class="r0" points="178.3,102.0 181.2,104.2 183.4,101.0 180.5,98.9"/><polygon class="r1m" points="201.4,100.4 210.1,106.8 216.5,97.9 207.8,92.2"/><polygon class="y0" points="213.7,114.9 216.5,117.7 218.8,113.6 215.9,111.2"/><polygon class="k0" points="184.1,106.5 187.0,108.9 189.2,105.4 186.3,103.2"/><polygon class="g1m" points="225.3,104.1 234.1,110.4 240.5,101.6 231.6,95.9"/><polygon class="g0" points="215.7,199.7 217.2,207.3 221.5,195.9 218.9,192.4"/><polygon class="y1m" points="186.3,103.2 194.9,110.1 201.4,100.4 192.7,94.2"/><polygon class="r0" points="181.2,104.2 184.1,106.5 186.3,103.2 183.4,101.0"/><polygon class="g0" points="194.9,110.1 197.8,112.6 200.0,108.8 197.1,106.6"/><polygon class="y1" points="115.4,132.1 118.1,133.5 120.8,132.5 118.3,132.1"/><polygon class="k0" points="237.6,118.4 240.4,121.0 242.8,117.1 239.9,114.8"/><polygon class="k0" points="229.6,117.2 232.4,119.9 234.8,115.9 231.9,113.6"/><polygon class="g0" points="48.3,160.0 51.9,163.4 52.9,158.3 49.7,155.7"/><polygon class="y0" points="258.8,119.5 261.6,121.9 263.9,118.4 261.0,116.2"/><polygon class="r1" points="203.3,147.2 206.4,148.2 208.1,148.4 204.8,149.6"/><polygon class="y0" points="157.4,188.3 160.8,195.7 162.1,184.6 159.1,181.1"/><polygon points="98.6,138.5 99.2,134.9 83.9,90.8 83.3,94.9" fill="#f80d13" stroke="#111" stroke-width="0.45"/><polygon class="g0" points="202.9,111.2 205.7,113.8 208.0,110.0 205.1,107.8"/><polygon class="r1" points="179.9,215.7 182.9,216.2 184.9,218.4 181.9,221.3"/><polygon class="y0" points="114.6,178.8 118.8,185.0 118.9,175.6 115.6,172.3"/><polygon class="y1m" points="234.1,110.4 242.8,117.1 249.3,107.8 240.5,101.6"/><polygon class="y0" points="255.9,117.2 258.8,119.5 261.0,116.2 258.1,114.0"/><polygon class="y0" points="210.8,112.4 213.7,114.9 215.9,111.2 213.0,109.0"/><polygon points="94.8,138.1 98.6,138.5 83.3,94.9 78.7,94.5" fill="#7a0609" stroke="#111" stroke-width="0.45"/><polygon class="g1" points="123.4,133.5 126.1,134.8 128.7,133.9 126.3,133.6"/><polygon class="k1m" points="210.1,106.8 218.8,113.6 225.3,104.1 216.5,97.9"/><polygon class="k1" points="94.0,129.5 96.8,131.1 99.4,129.5 96.8,128.4"/><polygon class="g0" points="200.0,108.8 202.9,111.2 205.1,107.8 202.2,105.6"/><polygon class="g1" points="80.7,128.5 83.4,130.3 86.0,128.2 83.4,126.8"/><polygon class="g0" points="199.3,103.4 202.2,105.6 204.3,102.5 201.4,100.4"/><polygon class="g0" points="197.1,106.6 200.0,108.8 202.2,105.6 199.3,103.4"/><polygon class="k0" points="234.8,115.9 237.6,118.4 239.9,114.8 237.0,112.6"/><polygon class="r1" points="195.3,145.8 198.3,146.8 200.2,146.9 197.0,147.9"/><polygon class="y0" points="208.0,110.0 210.8,112.4 213.0,109.0 210.1,106.8"/><polygon class="g0" points="202.2,105.6 205.1,107.8 207.2,104.6 204.3,102.5"/><polygon class="k1" points="254.4,156.5 257.7,157.6 258.8,157.3 254.9,157.9"/><polygon class="g0" points="205.1,107.8 208.0,110.0 210.1,106.8 207.2,104.6"/><polygon class="r1" points="171.8,214.2 174.7,214.8 177.0,216.6 174.2,220.1"/><polygon class="g1" points="131.4,134.8 134.1,136.1 136.7,135.3 134.2,135.1"/><polygon class="k0" points="231.9,113.6 234.8,115.9 237.0,112.6 234.1,110.4"/><polygon class="k1" points="187.3,144.4 190.3,145.5 192.3,145.4 189.2,146.2"/><polygon class="k0" points="87.2,171.4 91.4,176.3 91.5,168.8 88.2,165.8"/><polygon class="g1" points="75.4,129.0 78.2,130.8 80.7,128.5 78.0,126.9"/><polygon class="k1" points="139.4,136.2 142.2,137.5 144.7,136.7 142.1,136.6"/><polygon class="k0" points="223.8,200.5 225.2,207.5 229.6,197.0 227.1,193.5"/><polygon class="k0" points="67.7,165.5 71.6,169.4 72.2,163.5 68.9,160.7"/><polygon class="g1" points="179.4,143.0 182.3,144.1 184.4,143.9 181.4,144.5"/><polygon class="r1" points="102.1,130.9 104.8,132.4 107.4,130.8 104.8,129.7"/><polygon points="104.8,140.1 105.1,137.1 91.0,93.3 90.7,96.8" fill="#0e0e0e" stroke="#111" stroke-width="0.45"/><polygon class="r1" points="147.4,137.5 150.2,138.8 152.6,138.1 150.0,138.2"/><polygon class="g1" points="171.4,141.7 174.3,142.8 176.4,142.5 173.6,142.9"/><polygon class="r1" points="155.4,138.9 158.2,140.1 160.6,139.6 157.9,139.7"/><polygon class="y1" points="163.4,140.3 166.2,141.5 168.5,141.0 165.7,141.3"/><polygon class="y1" points="163.7,212.6 166.5,213.3 169.0,214.8 166.6,218.6"/><polygon class="r1" points="246.4,155.1 249.7,156.2 250.9,155.9 247.1,156.3"/><polygon points="101.6,140.0 104.8,140.1 90.7,96.8 86.9,96.7" fill="#0e0e0e" stroke="#111" stroke-width="0.45"/><polygon class="g0" points="56.2,161.1 59.8,164.4 60.9,159.5 57.7,156.9"/><polygon class="g0" points="165.2,189.2 168.4,196.0 170.2,185.7 167.1,182.3"/><polygon points="110.5,140.6 111.3,137.1 98.4,93.3 97.4,97.4" fill="#faf117" stroke="#111" stroke-width="0.45"/><polygon class="r0" points="122.4,179.7 126.4,185.5 126.9,176.6 123.6,173.4"/><polygon points="106.8,140.0 110.5,140.6 97.4,97.4 93.0,96.7" fill="#77730b" stroke="#111" stroke-width="0.45"/><polygon class="k0" points="231.9,201.4 233.2,207.9 237.8,198.0 235.3,194.7"/><polygon class="k1" points="238.4,153.7 241.6,154.9 243.0,154.4 239.4,154.7"/><polygon points="113.6,141.0 114.1,138.0 101.7,94.4 101.1,97.9" fill="#0ff80f" stroke="#111" stroke-width="0.45"/><polygon class="g1" points="78.2,130.8 81.0,132.6 83.4,130.3 80.7,128.5"/><polygon class="r1" points="96.8,131.1 99.5,132.8 102.1,130.9 99.4,129.5"/><polygon class="y1m" points="81.0,132.6 89.5,138.4 96.8,131.1 88.9,127.0"/><polygon points="110.4,140.7 113.6,141.0 101.1,97.9 97.4,97.5" fill="#077807" stroke="#111" stroke-width="0.45"/><polygon class="g0" points="95.1,172.4 99.1,177.1 99.5,170.0 96.3,167.0"/><polygon class="g0" points="52.9,158.3 56.2,161.1 57.7,156.9 54.6,154.5"/><polygon class="y1" points="118.1,133.5 120.9,135.0 123.4,133.5 120.8,132.5"/><polygon class="g1" points="155.5,211.1 158.3,211.9 161.0,213.1 158.8,216.4"/><polygon class="r0" points="75.6,166.6 79.4,170.4 80.2,164.6 77.0,161.9"/><polygon class="y1" points="230.4,152.3 233.6,153.5 235.1,152.9 231.6,153.1"/><polygon class="g0" points="49.7,155.7 52.9,158.3 54.6,154.5 51.6,152.1"/><polygon class="k0" points="64.2,162.3 67.7,165.5 68.9,160.7 65.8,158.1"/><polygon class="r1" points="104.8,132.4 107.6,134.1 110.1,132.2 107.4,130.8"/><polygon class="r0" points="173.2,190.0 176.1,196.4 178.2,186.8 175.3,183.4"/><polygon class="g1" points="126.1,134.8 128.9,136.3 131.4,134.8 128.7,133.9"/><polygon class="r1m" points="65.2,134.5 73.8,140.4 81.0,132.6 72.7,127.2"/><polygon points="113.5,141.2 116.9,144.0 105.0,101.4 101.0,98.2" fill="#077607" stroke="#111" stroke-width="0.45"/><polygon class="k0" points="130.3,180.6 134.0,186.1 134.9,177.7 131.7,174.6"/><polygon class="g1" points="222.4,150.9 225.5,152.2 227.2,151.5 223.8,151.5"/><polygon points="116.9,144.0 120.0,140.8 108.7,97.7 105.0,101.4" fill="#0de20d" stroke="#111" stroke-width="0.45"/><polygon class="y1" points="134.1,136.1 136.9,137.6 139.4,136.2 136.7,135.3"/><polygon class="g1" points="147.4,209.6 150.1,210.5 153.0,211.4 150.9,214.2"/><polygon class="r1" points="99.5,132.8 102.3,134.6 104.8,132.4 102.1,130.9"/><polygon points="126.5,144.1 128.4,139.4 118.9,96.0 116.6,101.5" fill="#f7ef17" stroke="#111" stroke-width="0.45"/><polygon class="y1" points="214.4,149.6 217.5,150.9 219.2,150.1 215.9,150.0"/><polygon class="k0" points="60.9,159.5 64.2,162.3 65.8,158.1 62.7,155.7"/><polygon class="g0" points="103.0,173.4 106.8,177.9 107.6,171.1 104.3,168.2"/><polygon class="k1" points="142.2,137.5 145.0,139.0 147.4,137.5 144.7,136.7"/><polygon points="121.6,142.4 126.5,144.1 116.6,101.5 110.6,99.6" fill="#77730b" stroke="#111" stroke-width="0.45"/><polygon class="k0" points="83.6,167.7 87.2,171.4 88.2,165.8 85.0,163.1"/><polygon class="k1" points="257.7,157.6 261.0,159.0 262.4,157.9 258.8,157.3"/><polygon class="k1" points="206.4,148.2 209.4,149.5 211.2,148.7 208.1,148.4"/><polygon class="r1" points="150.2,138.8 153.0,140.3 155.4,138.9 152.6,138.1"/><polygon class="k0" points="181.1,190.9 183.9,196.9 186.3,187.9 183.4,184.6"/><polygon class="r0" points="72.2,163.5 75.6,166.6 77.0,161.9 73.9,159.4"/><polygon class="k1" points="139.2,208.1 141.9,209.0 144.9,209.8 143.0,212.2"/><polygon class="r1" points="198.3,146.8 201.4,148.2 203.3,147.2 200.2,146.9"/><polygon class="g1" points="120.9,135.0 123.7,136.7 126.1,134.8 123.4,133.5"/><polygon points="126.5,143.1 128.9,145.0 119.4,102.6 116.5,100.4" fill="#0e0e0e" stroke="#111" stroke-width="0.45"/><polygon class="k1" points="158.2,140.1 161.1,141.6 163.4,140.3 160.6,139.6"/><polygon class="r1m" points="51.6,152.1 60.9,159.5 67.0,149.3 58.1,142.6"/><polygon points="128.9,145.0 130.9,142.6 121.8,99.9 119.4,102.6" fill="#0e0e0e" stroke="#111" stroke-width="0.45"/><polygon class="k1" points="190.3,145.5 193.3,146.9 195.3,145.8 192.3,145.4"/><polygon class="y1" points="166.2,141.5 169.1,142.9 171.4,141.7 168.5,141.0"/><polygon class="k0" points="138.2,181.6 141.7,186.8 142.9,178.9 139.8,175.8"/><polygon class="y1" points="182.3,144.1 185.2,145.5 187.3,144.4 184.4,143.9"/><polygon class="g1" points="174.3,142.8 177.2,144.2 179.4,143.0 176.4,142.5"/><polygon class="r1" points="249.7,156.2 252.9,157.7 254.4,156.5 250.9,155.9"/><polygon class="k1m" points="105.2,136.5 113.8,142.2 120.9,135.0 112.8,131.1"/><polygon class="r1" points="131.0,206.6 133.6,207.6 136.8,208.1 135.1,210.2"/><polygon class="g1" points="128.9,136.3 131.7,138.0 134.1,136.1 131.4,134.8"/><polygon class="g1m" points="58.1,142.6 67.0,149.3 73.8,140.4 65.2,134.5"/><polygon class="r1" points="102.3,134.6 105.2,136.5 107.6,134.1 104.8,132.4"/><polygon points="136.1,146.1 137.4,142.6 129.5,99.8 127.9,103.9" fill="#f50c13" stroke="#111" stroke-width="0.45"/><polygon class="k0" points="68.9,160.7 72.2,163.5 73.9,159.4 70.8,157.0"/><polygon class="y0" points="110.9,174.5 114.6,178.8 115.6,172.3 112.4,169.4"/><polygon points="132.4,145.0 136.1,146.1 127.9,103.9 123.5,102.6" fill="#760609" stroke="#111" stroke-width="0.45"/><polygon class="y1" points="215.6,222.1 219.0,223.1 220.0,223.7 215.9,226.0"/><polygon class="r1" points="241.6,154.9 244.8,156.4 246.4,155.1 243.0,154.4"/><polygon class="r0" points="189.1,191.9 191.8,197.5 194.4,189.0 191.5,185.8"/><polygon class="y0" points="91.5,168.8 95.1,172.4 96.3,167.0 93.1,164.3"/><polygon points="143.9,146.3 144.6,142.6 138.2,99.8 137.3,104.1" fill="#f80d13" stroke="#111" stroke-width="0.45"/><polygon class="r1" points="122.8,205.2 125.4,206.2 128.7,206.5 127.0,208.2"/><polygon class="k0" points="65.8,158.1 68.9,160.7 70.8,157.0 67.8,154.6"/><polygon class="y1" points="136.9,137.6 139.8,139.3 142.2,137.5 139.4,136.2"/><polygon class="k0" points="62.7,155.7 65.8,158.1 67.8,154.6 64.8,152.4"/><polygon class="r0" points="80.2,164.6 83.6,167.7 85.0,163.1 81.9,160.6"/><polygon class="y1" points="114.6,203.7 117.1,204.8 120.5,204.9 119.0,206.3"/><polygon points="139.9,145.6 143.9,146.3 137.3,104.1 132.5,103.4" fill="#760609" stroke="#111" stroke-width="0.45"/><polygon class="y1" points="233.6,153.5 236.7,155.0 238.4,153.7 235.1,152.9"/><polygon class="g1" points="98.2,200.8 100.7,202.0 104.2,201.8 102.7,202.7"/><polygon class="g1" points="106.4,202.3 108.9,203.4 112.4,203.4 110.9,204.5"/><polygon points="145.7,143.6 147.3,147.8 141.3,105.9 139.4,101.0" fill="#77730b" stroke="#111" stroke-width="0.45"/><polygon class="g0" points="146.1,182.6 149.5,187.6 151.0,180.0 147.9,176.9"/><polygon class="g1" points="123.7,136.7 126.5,138.5 128.9,136.3 126.1,134.8"/><polygon class="r1" points="145.0,139.0 147.9,140.6 150.2,138.8 147.4,137.5"/><polygon class="k1m" points="73.8,140.4 82.4,146.4 89.5,138.4 81.0,132.6"/><polygon class="g1m" points="89.5,138.4 98.1,144.3 105.2,136.5 96.8,131.1"/><polygon class="g1" points="225.5,152.2 228.6,153.7 230.4,152.3 227.2,151.5"/><polygon class="k0" points="64.8,152.4 67.8,154.6 69.9,151.4 67.0,149.3"/><polygon class="k1" points="261.0,159.0 264.2,160.6 265.8,158.9 262.4,157.9"/><polygon class="g0" points="197.2,192.8 199.7,198.2 202.6,190.1 199.7,187.0"/><polygon points="147.3,147.8 151.8,146.2 146.7,104.0 141.3,105.9" fill="#b4ae11" stroke="#111" stroke-width="0.45"/><polygon class="r1" points="153.0,140.3 155.9,141.9 158.2,140.1 155.4,138.9"/><polygon class="r0" points="118.9,175.6 122.4,179.7 123.6,173.4 120.5,170.6"/><polygon class="r0" points="77.0,161.9 80.2,164.6 81.9,160.6 78.9,158.2"/><polygon class="g1" points="217.5,150.9 220.6,152.4 222.4,150.9 219.2,150.1"/><polygon class="y1" points="131.7,138.0 134.6,139.8 136.9,137.6 134.1,136.1"/><polygon class="k0" points="67.8,154.6 70.8,157.0 72.9,153.6 69.9,151.4"/><polygon points="156.1,148.7 158.1,145.4 154.3,103.2 151.8,107.0" fill="#f0e816" stroke="#111" stroke-width="0.45"/><polygon class="y1" points="207.5,220.6 210.7,221.7 212.1,222.1 208.2,224.0"/><polygon class="g0" points="99.5,170.0 103.0,173.4 104.3,168.2 101.2,165.5"/><polygon class="k1" points="161.1,141.6 164.0,143.2 166.2,141.5 163.4,140.3"/><polygon points="152.6,146.8 156.1,148.7 151.8,107.0 147.7,104.8" fill="#77730b" stroke="#111" stroke-width="0.45"/><polygon class="r0" points="73.9,159.4 77.0,161.9 78.9,158.2 75.9,155.9"/><polygon class="k0" points="70.8,157.0 73.9,159.4 75.9,155.9 72.9,153.6"/><polygon class="k1" points="209.4,149.5 212.5,151.1 214.4,149.6 211.2,148.7"/><polygon class="g1" points="169.1,142.9 172.1,144.5 174.3,142.8 171.4,141.7"/><polygon class="k1" points="252.9,157.7 256.1,159.3 257.7,157.6 254.4,156.5"/><polygon class="y0" points="88.2,165.8 91.5,168.8 93.1,164.3 90.0,161.8"/><polygon class="y1m" points="67.0,149.3 75.9,155.9 82.4,146.4 73.8,140.4"/><polygon class="r1" points="201.4,148.2 204.4,149.8 206.4,148.2 203.3,147.2"/><polygon class="y0" points="154.1,183.6 157.4,188.3 159.1,181.1 156.0,178.1"/><polygon class="g1" points="177.2,144.2 180.1,145.8 182.3,144.1 179.4,143.0"/><polygon class="r1" points="193.3,146.9 196.3,148.4 198.3,146.8 195.3,145.8"/><polygon points="163.9,150.0 165.5,146.3 163.1,104.2 161.2,108.5" fill="#0ef30e" stroke="#111" stroke-width="0.45"/><polygon class="y1" points="185.2,145.5 188.2,147.1 190.3,145.5 187.3,144.4"/><polygon class="y1" points="139.8,139.3 142.7,141.1 145.0,139.0 142.2,137.5"/><polygon class="y0" points="205.3,193.8 207.7,198.9 210.7,191.2 207.9,188.2"/><polygon class="g1" points="126.5,138.5 129.4,140.3 131.7,138.0 128.9,136.3"/><polygon points="160.0,148.5 163.9,150.0 161.2,108.5 156.6,106.7" fill="#077607" stroke="#111" stroke-width="0.45"/><polygon class="r1" points="244.8,156.4 248.0,158.0 249.7,156.2 246.4,155.1"/><polygon points="169.0,151.2 170.3,147.0 168.9,105.0 167.2,109.9" fill="#f8f017" stroke="#111" stroke-width="0.45"/><polygon class="r1" points="147.9,140.6 150.7,142.4 153.0,140.3 150.2,138.8"/><polygon class="r0" points="126.9,176.6 130.3,180.6 131.7,174.6 128.6,171.8"/><polygon class="y0" points="85.0,163.1 88.2,165.8 90.0,161.8 87.0,159.4"/><polygon points="164.6,150.0 169.0,151.2 167.2,109.9 162.0,108.5" fill="#77730b" stroke="#111" stroke-width="0.45"/><polygon class="g1" points="199.3,219.2 202.5,220.2 204.1,220.4 200.5,222.1"/><polygon class="y0" points="107.6,171.1 110.9,174.5 112.4,169.4 109.3,166.8"/><polygon class="g0" points="213.4,194.9 215.7,199.7 218.9,192.4 216.1,189.4"/><polygon points="173.8,152.6 176.7,148.4 176.5,106.6 173.0,111.6" fill="#0e0e0e" stroke="#111" stroke-width="0.45"/><polygon class="y1" points="236.7,155.0 239.8,156.7 241.6,154.9 238.4,153.7"/><polygon class="y1" points="134.6,139.8 137.5,141.6 139.8,139.3 136.9,137.6"/><polygon class="k1" points="155.9,141.9 158.8,143.6 161.1,141.6 158.2,140.1"/><polygon points="169.3,149.9 173.8,152.6 173.0,111.6 167.6,108.4" fill="#0e0e0e" stroke="#111" stroke-width="0.45"/><polygon class="y0" points="162.1,184.6 165.2,189.2 167.1,182.3 164.1,179.3"/><polygon class="g0" points="96.3,167.0 99.5,170.0 101.2,165.5 98.1,163.1"/><polygon class="g1m" points="75.9,155.9 85.0,163.1 91.3,153.1 82.4,146.4"/><polygon points="258.4,168.2 261.8,166.5 278.3,128.0 274.2,130.0" fill="#bfb912" stroke="#111" stroke-width="0.45"/><polygon class="y1" points="228.6,153.7 231.7,155.4 233.6,153.5 230.4,152.3"/><polygon points="175.1,150.0 178.4,153.7 178.5,112.9 174.6,108.6" fill="#760609" stroke="#111" stroke-width="0.45"/><polygon points="256.6,164.9 258.4,168.2 274.2,130.0 272.0,126.1" fill="#77730b" stroke="#111" stroke-width="0.45"/><polygon points="178.4,153.7 182.3,150.6 183.1,109.2 178.5,112.9" fill="#d60b10" stroke="#111" stroke-width="0.45"/><polygon class="k1" points="164.0,143.2 166.9,144.9 169.1,142.9 166.2,141.5"/><polygon class="r1m" points="82.4,146.4 91.3,153.1 98.1,144.3 89.5,138.4"/><polygon class="r0" points="221.5,195.9 223.8,200.5 227.1,193.5 224.3,190.6"/><polygon class="k1" points="256.1,159.3 259.2,161.1 261.0,159.0 257.7,157.6"/><polygon points="251.3,166.6 253.6,164.1 268.4,125.2 265.8,128.1" fill="#0de10d" stroke="#111" stroke-width="0.45"/><polygon class="y1" points="129.4,140.3 132.3,142.2 134.6,139.8 131.7,138.0"/><polygon class="g1" points="220.6,152.4 223.6,154.1 225.5,152.2 222.4,150.9"/><polygon class="g1" points="172.1,144.5 175.0,146.2 177.2,144.2 174.3,142.8"/><polygon points="183.5,155.1 186.4,151.4 188.1,110.2 184.6,114.5" fill="#e60c12" stroke="#111" stroke-width="0.45"/><polygon class="r1m" points="113.8,142.2 122.5,148.1 129.4,140.3 120.9,135.0"/><polygon points="248.7,164.4 251.3,166.6 265.8,128.1 262.6,125.5" fill="#077607" stroke="#111" stroke-width="0.45"/><polygon class="k1" points="212.5,151.1 215.5,152.8 217.5,150.9 214.4,149.6"/><polygon class="k0" points="134.9,177.7 138.2,181.6 139.8,175.8 136.7,173.0"/><polygon points="179.6,152.3 183.5,155.1 184.6,114.5 179.9,111.2" fill="#760609" stroke="#111" stroke-width="0.45"/><polygon points="241.4,161.0 241.8,164.9 254.4,126.1 253.8,121.5" fill="#077607" stroke="#111" stroke-width="0.45"/><polygon points="238.6,164.2 241.2,160.8 253.5,121.3 250.5,125.2" fill="#0e0e0e" stroke="#111" stroke-width="0.45"/><polygon class="y1" points="180.1,145.8 183.1,147.5 185.2,145.5 182.3,144.1"/><polygon class="k1" points="204.4,149.8 207.4,151.5 209.4,149.5 206.4,148.2"/><polygon class="y0" points="93.1,164.3 96.3,167.0 98.1,163.1 95.1,160.7"/><polygon class="k1" points="191.1,217.7 194.2,218.8 196.1,218.9 192.7,220.2"/><polygon class="y1" points="188.2,147.1 191.2,148.8 193.3,146.9 190.3,145.5"/><polygon class="k0" points="229.6,197.0 231.9,201.4 235.3,194.7 232.5,191.8"/><polygon class="r1" points="196.3,148.4 199.3,150.1 201.4,148.2 198.3,146.8"/><polygon class="r1" points="248.0,158.0 251.1,159.8 252.9,157.7 249.7,156.2"/><polygon class="k0" points="115.6,172.3 118.9,175.6 120.5,170.6 117.4,168.0"/><polygon class="r1" points="150.7,142.4 153.7,144.2 155.9,141.9 153.0,140.3"/><polygon points="230.2,159.2 230.6,162.2 240.9,122.9 240.4,119.4" fill="#0e0e0e" stroke="#111" stroke-width="0.45"/><polygon points="184.1,152.5 186.2,156.8 187.8,116.5 185.4,111.5" fill="#0e0e0e" stroke="#111" stroke-width="0.45"/><polygon class="r0" points="170.2,185.7 173.2,190.0 175.3,183.4 172.3,180.5"/><polygon points="241.8,164.9 245.9,164.5 259.2,125.7 254.4,126.1" fill="#099209" stroke="#111" stroke-width="0.45"/><polygon class="y1m" points="98.1,144.3 106.8,150.3 113.8,142.2 105.2,136.5"/><polygon points="193.3,156.8 195.3,154.1 198.7,113.3 196.4,116.5" fill="#0e0e0e" stroke="#111" stroke-width="0.45"/><polygon points="200.9,158.2 204.1,154.2 209.2,113.5 205.4,118.2" fill="#0ee70e" stroke="#111" stroke-width="0.45"/><polygon class="y1" points="137.5,141.6 140.4,143.5 142.7,141.1 139.8,139.3"/><polygon points="235.0,161.6 238.6,164.2 250.5,125.2 246.1,122.3" fill="#0e0e0e" stroke="#111" stroke-width="0.45"/><polygon class="y0" points="90.0,161.8 93.1,164.3 95.1,160.7 92.1,158.4"/><polygon class="y0" points="87.0,159.4 90.0,161.8 92.1,158.4 89.1,156.2"/><polygon points="230.6,162.2 233.8,161.9 244.7,122.5 240.9,122.9" fill="#0e0e0e" stroke="#111" stroke-width="0.45"/><polygon points="190.5,154.9 193.3,156.8 196.4,116.5 192.9,114.3" fill="#0e0e0e" stroke="#111" stroke-width="0.45"/><polygon points="214.6,160.7 217.2,156.6 224.8,116.3 221.8,121.1" fill="#efe716" stroke="#111" stroke-width="0.45"/><polygon class="g0" points="104.3,168.2 107.6,171.1 109.3,166.8 106.2,164.3"/><polygon points="215.5,156.7 218.0,161.0 225.8,121.5 222.9,116.4" fill="#0e0e0e" stroke="#111" stroke-width="0.45"/><polygon points="186.2,156.8 190.7,154.8 193.2,114.2 187.8,116.5" fill="#0e0e0e" stroke="#111" stroke-width="0.45"/><polygon points="196.7,155.2 200.9,158.2 205.4,118.2 200.3,114.6" fill="#077607" stroke="#111" stroke-width="0.45"/><polygon points="223.6,158.8 225.7,162.6 235.1,123.4 232.6,119.0" fill="#760609" stroke="#111" stroke-width="0.45"/><polygon points="218.0,161.0 222.6,158.7 231.3,118.8 225.8,121.5" fill="#0e0e0e" stroke="#111" stroke-width="0.45"/><polygon class="k1" points="158.8,143.6 161.8,145.5 164.0,143.2 161.1,141.6"/><polygon points="225.7,162.6 229.6,160.7 239.8,121.1 235.1,123.4" fill="#bf0a0f" stroke="#111" stroke-width="0.45"/><polygon points="202.7,156.1 205.2,159.5 210.5,119.7 207.5,115.7" fill="#077607" stroke="#111" stroke-width="0.45"/><polygon points="205.2,159.5 208.7,157.1 214.7,116.9 210.5,119.7" fill="#0ccd0c" stroke="#111" stroke-width="0.45"/><polygon class="y1" points="132.3,142.2 135.2,144.1 137.5,141.6 134.6,139.8"/><polygon class="k1" points="259.2,161.1 262.4,162.9 264.2,160.6 261.0,159.0"/><polygon points="210.2,158.3 214.6,160.7 221.8,121.1 216.6,118.3" fill="#77730b" stroke="#111" stroke-width="0.45"/><polygon class="y1" points="231.7,155.4 234.8,157.1 236.7,155.0 233.6,153.5"/><polygon class="g0" points="142.9,178.9 146.1,182.6 147.9,176.9 144.8,174.2"/><polygon class="k1" points="182.9,216.2 186.0,217.4 188.0,217.3 184.9,218.4"/><polygon class="y0" points="89.1,156.2 92.1,158.4 94.3,155.2 91.3,153.1"/><polygon class="k0" points="178.2,186.8 181.1,190.9 183.4,184.6 180.4,181.8"/><polygon class="g0" points="101.2,165.5 104.3,168.2 106.2,164.3 103.2,161.9"/><polygon class="g1" points="223.6,154.1 226.7,155.8 228.6,153.7 225.5,152.2"/><polygon class="g1" points="175.0,146.2 178.0,148.1 180.1,145.8 177.2,144.2"/><polygon class="r0" points="123.6,173.4 126.9,176.6 128.6,171.8 125.5,169.2"/><polygon class="y0" points="92.1,158.4 95.1,160.7 97.2,157.4 94.3,155.2"/><polygon class="k1" points="251.1,159.8 254.2,161.6 256.1,159.3 252.9,157.7"/><polygon class="k1" points="153.7,144.2 156.6,146.0 158.8,143.6 155.9,141.9"/><polygon class="y1" points="183.1,147.5 186.1,149.3 188.2,147.1 185.2,145.5"/><polygon class="g0" points="98.1,163.1 101.2,165.5 103.2,161.9 100.2,159.7"/><polygon class="y0" points="95.1,160.7 98.1,163.1 100.2,159.7 97.2,157.4"/><polygon class="k1m" points="91.3,153.1 100.2,159.7 106.8,150.3 98.1,144.3"/><polygon class="k1" points="207.4,151.5 210.4,153.2 212.5,151.1 209.4,149.5"/><polygon class="k0" points="112.4,169.4 115.6,172.3 117.4,168.0 114.4,165.5"/><polygon class="r1" points="199.3,150.1 202.3,151.9 204.4,149.8 201.4,148.2"/><polygon class="y1" points="135.2,144.1 138.1,146.0 140.4,143.5 137.5,141.6"/><polygon class="r1" points="174.7,214.8 177.7,216.0 179.9,215.7 177.0,216.6"/><polygon class="k1" points="161.8,145.5 164.7,147.3 166.9,144.9 164.0,143.2"/><polygon class="k0" points="186.3,187.9 189.1,191.9 191.5,185.8 188.6,183.0"/><polygon class="g1m" points="138.1,146.0 146.9,152.0 153.7,144.2 145.0,139.0"/><polygon class="g0" points="151.0,180.0 154.1,183.6 156.0,178.1 153.0,175.4"/><polygon class="y1" points="234.8,157.1 237.9,159.0 239.8,156.7 236.7,155.0"/><polygon class="k1" points="254.2,161.6 257.3,163.5 259.2,161.1 256.1,159.3"/><polygon class="k0" points="131.7,174.6 134.9,177.7 136.7,173.0 133.7,170.5"/><polygon class="k0" points="109.3,166.8 112.4,169.4 114.4,165.5 111.3,163.2"/><polygon class="y1" points="166.5,213.3 169.5,214.6 171.8,214.2 169.0,214.8"/><polygon class="y1" points="226.7,155.8 229.7,157.7 231.7,155.4 228.6,153.7"/><polygon class="y1" points="178.0,148.1 180.9,149.9 183.1,147.5 180.1,145.8"/><polygon class="k1" points="156.6,146.0 159.5,148.0 161.8,145.5 158.8,143.6"/><polygon class="g0" points="194.4,189.0 197.2,192.8 199.7,187.0 196.8,184.2"/><polygon class="g1" points="100.7,202.0 103.3,203.5 106.4,202.3 104.2,201.8"/><polygon class="g1m" points="106.8,150.3 115.7,156.9 122.5,148.1 113.8,142.2"/><polygon class="r0" points="120.5,170.6 123.6,173.4 125.5,169.2 122.5,166.8"/><polygon class="y1" points="186.1,149.3 189.1,151.2 191.2,148.8 188.2,147.1"/><polygon class="r1m" points="100.2,159.7 109.3,166.8 115.7,156.9 106.8,150.3"/><polygon class="k1" points="210.4,153.2 213.5,155.1 215.5,152.8 212.5,151.1"/><polygon class="k1" points="202.3,151.9 205.3,153.8 207.4,151.5 204.4,149.8"/><polygon class="k1m" points="122.5,148.1 131.3,154.2 138.1,146.0 129.4,140.3"/><polygon class="y0" points="159.1,181.1 162.1,184.6 164.1,179.3 161.1,176.7"/><polygon class="y1" points="158.3,211.9 161.2,213.2 163.7,212.6 161.0,213.1"/><polygon class="y1" points="108.9,203.4 111.6,204.9 114.6,203.7 112.4,203.4"/><polygon class="y0" points="202.6,190.1 205.3,193.8 207.9,188.2 205.0,185.4"/><polygon class="k1" points="257.3,163.5 260.4,165.4 262.4,162.9 259.2,161.1"/><polygon class="g1m" points="235.9,161.5 245.1,167.5 251.1,159.8 241.6,154.9"/><polygon class="g1" points="150.1,210.5 152.9,211.8 155.5,211.1 153.0,211.4"/><polygon class="y0" points="139.8,175.8 142.9,178.9 144.8,174.2 141.8,171.7"/><polygon class="y1" points="117.1,204.8 119.9,206.2 122.8,205.2 120.5,204.9"/><polygon class="r1m" points="162.5,149.9 171.4,155.8 178.0,148.1 169.1,142.9"/><polygon class="k0" points="117.4,168.0 120.5,170.6 122.5,166.8 119.5,164.4"/><polygon class="y1" points="229.7,157.7 232.8,159.6 234.8,157.1 231.7,155.4"/><polygon class="k1" points="159.5,148.0 162.5,149.9 164.7,147.3 161.8,145.5"/><polygon class="k1" points="141.9,209.0 144.7,210.4 147.4,209.6 144.9,209.8"/><polygon class="r1" points="125.4,206.2 128.1,207.6 131.0,206.6 128.7,206.5"/><polygon class="y0" points="210.7,191.2 213.4,194.9 216.1,189.4 213.2,186.6"/><polygon class="y1" points="180.9,149.9 183.9,151.8 186.1,149.3 183.1,147.5"/><polygon class="k1" points="133.6,207.6 136.4,209.0 139.2,208.1 136.8,208.1"/><polygon class="r0" points="128.6,171.8 131.7,174.6 133.7,170.5 130.6,168.0"/><polygon class="r0" points="167.1,182.3 170.2,185.7 172.3,180.5 169.3,177.9"/><polygon class="k0" points="114.4,165.5 117.4,168.0 119.5,164.4 116.5,162.2"/><polygon class="k0" points="111.3,163.2 114.4,165.5 116.5,162.2 113.5,159.9"/><polygon class="k1" points="205.3,153.8 208.3,155.7 210.4,153.2 207.4,151.5"/><polygon class="r0" points="218.9,192.4 221.5,195.9 224.3,190.6 221.4,187.9"/><polygon class="r1m" points="211.4,157.6 220.4,163.6 226.7,155.8 217.5,150.9"/><polygon class="g1m" points="186.9,153.8 195.9,159.7 202.3,151.9 193.3,146.9"/><polygon class="k0" points="227.1,193.5 229.6,197.0 232.5,191.8 229.6,189.1"/><polygon class="g0" points="147.9,176.9 151.0,180.0 153.0,175.4 149.9,172.9"/><polygon class="k0" points="113.5,159.9 116.5,162.2 118.7,159.0 115.7,156.9"/><polygon class="k0" points="235.3,194.7 237.8,198.0 240.7,193.0 237.9,190.4"/><polygon class="y1" points="232.8,159.6 235.9,161.5 237.9,159.0 234.8,157.1"/><polygon class="r0" points="125.5,169.2 128.6,171.8 130.6,168.0 127.6,165.7"/><polygon class="r0" points="175.3,183.4 178.2,186.8 180.4,181.8 177.5,179.1"/><polygon class="y1" points="183.9,151.8 186.9,153.8 189.1,151.2 186.1,149.3"/><polygon class="y1m" points="115.7,156.9 124.6,163.4 131.3,154.2 122.5,148.1"/><polygon class="k0" points="116.5,162.2 119.5,164.4 121.6,161.2 118.7,159.0"/><polygon class="y0" points="136.7,173.0 139.8,175.8 141.8,171.7 138.8,169.3"/><polygon class="r0" points="122.5,166.8 125.5,169.2 127.6,165.7 124.6,163.4"/><polygon class="k0" points="119.5,164.4 122.5,166.8 124.6,163.4 121.6,161.2"/><polygon class="k1" points="208.3,155.7 211.4,157.6 213.5,155.1 210.4,153.2"/><polygon class="y1m" points="146.9,152.0 155.8,158.0 162.5,149.9 153.7,144.2"/><polygon class="y0" points="156.0,178.1 159.1,181.1 161.1,176.7 158.1,174.2"/><polygon class="k0" points="183.4,184.6 186.3,187.9 188.6,183.0 185.6,180.4"/><polygon class="r1m" points="131.3,154.2 140.2,160.7 146.9,152.0 138.1,146.0"/><polygon class="y0" points="133.7,170.5 136.7,173.0 138.8,169.3 135.8,167.0"/><polygon class="g0" points="144.8,174.2 147.9,176.9 149.9,172.9 146.9,170.5"/><polygon class="y1m" points="245.1,167.5 254.3,173.6 260.4,165.4 251.1,159.8"/><polygon class="g0" points="191.5,185.8 194.4,189.0 196.8,184.2 193.8,181.6"/><polygon class="g1m" points="124.6,163.4 133.7,170.5 140.2,160.7 131.3,154.2"/><polygon class="y1" points="210.7,221.7 213.9,223.1 215.6,222.1 212.1,222.1"/><polygon class="g0" points="199.7,187.0 202.6,190.1 205.0,185.4 202.0,182.9"/><polygon class="y0" points="141.8,171.7 144.8,174.2 146.9,170.5 143.9,168.2"/><polygon class="k1m" points="171.4,155.8 180.3,161.9 186.9,153.8 178.0,148.1"/><polygon class="g0" points="153.0,175.4 156.0,178.1 158.1,174.2 155.1,171.8"/><polygon class="y0" points="207.9,188.2 210.7,191.2 213.2,186.6 210.3,184.1"/><polygon class="r0" points="172.3,180.5 175.3,183.4 177.5,179.1 174.5,176.7"/><polygon class="y0" points="138.8,169.3 141.8,171.7 143.9,168.2 140.9,166.0"/><polygon class="y0" points="135.8,167.0 138.8,169.3 140.9,166.0 138.0,163.8"/><polygon class="k1m" points="220.4,163.6 229.6,169.7 235.9,161.5 226.7,155.8"/><polygon class="r0" points="216.1,189.4 218.9,192.4 221.4,187.9 218.5,185.4"/><polygon class="g1" points="103.3,203.5 106.1,205.2 108.9,203.4 106.4,202.3"/><polygon class="g1" points="202.5,220.2 205.6,221.7 207.5,220.6 204.1,220.4"/><polygon class="r0" points="224.3,190.6 227.1,193.5 229.6,189.1 226.7,186.6"/><polygon class="k0" points="232.5,191.8 235.3,194.7 237.9,190.4 235.0,187.9"/><polygon class="y1m" points="195.9,159.7 204.9,165.8 211.4,157.6 202.3,151.9"/><polygon class="y0" points="138.0,163.8 140.9,166.0 143.1,162.8 140.2,160.7"/><polygon class="k1m" points="140.2,160.7 149.1,167.2 155.8,158.0 146.9,152.0"/><polygon class="g0" points="149.9,172.9 153.0,175.4 155.1,171.8 152.1,169.5"/><polygon class="k0" points="180.4,181.8 183.4,184.6 185.6,180.4 182.7,177.9"/><polygon class="k0m" points="158.1,174.2 167.1,182.3 173.7,171.1 164.7,164.5"/><polygon class="g1m" points="155.8,158.0 164.7,164.5 171.4,155.8 162.5,149.9"/><polygon class="y0" points="140.9,166.0 143.9,168.2 146.1,165.0 143.1,162.8"/><polygon class="y1" points="111.6,204.9 114.4,206.6 117.1,204.8 114.6,203.7"/><polygon class="g0" points="146.9,170.5 149.9,172.9 152.1,169.5 149.1,167.2"/><polygon class="y0" points="143.9,168.2 146.9,170.5 149.1,167.2 146.1,165.0"/><polygon class="r1" points="194.2,218.8 197.3,220.3 199.3,219.2 196.1,218.9"/><polygon class="r0" points="169.3,177.9 172.3,180.5 174.5,176.7 171.5,174.3"/><polygon class="g0" points="196.8,184.2 199.7,187.0 202.0,182.9 199.1,180.5"/><polygon class="g1" points="119.9,206.2 122.7,207.9 125.4,206.2 122.8,205.2"/><polygon class="k1" points="186.0,217.4 189.1,218.9 191.1,217.7 188.0,217.3"/><polygon class="r1m" points="149.1,167.2 158.1,174.2 164.7,164.5 155.8,158.0"/><polygon class="y0" points="205.0,185.4 207.9,188.2 210.3,184.1 207.3,181.7"/><polygon class="r0" points="177.5,179.1 180.4,181.8 182.7,177.9 179.7,175.6"/><polygon class="r1m" points="180.3,161.9 189.3,168.4 195.9,159.7 186.9,153.8"/><polygon class="r1" points="128.1,207.6 131.0,209.3 133.6,207.6 131.0,206.6"/><polygon class="r1m" points="229.6,169.7 238.7,175.8 245.1,167.5 235.9,161.5"/><polygon class="k0" points="229.6,189.1 232.5,191.8 235.0,187.9 232.0,185.5"/><polygon class="r0" points="221.4,187.9 224.3,190.6 226.7,186.6 223.7,184.3"/><polygon class="r1" points="177.7,216.0 180.8,217.6 182.9,216.2 179.9,215.7"/><polygon class="g1m" points="204.9,165.8 214.0,172.2 220.4,163.6 211.4,157.6"/><polygon class="k1" points="136.4,209.0 139.3,210.7 141.9,209.0 139.2,208.1"/><polygon class="y0m" points="182.7,177.9 191.5,185.8 198.3,174.9 189.3,168.4"/><polygon class="g1" points="169.5,214.6 172.5,216.2 174.7,214.8 171.8,214.2"/><polygon class="y1m" points="164.7,164.5 173.7,171.1 180.3,161.9 171.4,155.8"/><polygon class="r1" points="144.7,210.4 147.6,212.0 150.1,210.5 147.4,209.6"/><polygon class="r0" points="174.5,176.7 177.5,179.1 179.7,175.6 176.7,173.3"/><polygon class="y1" points="161.2,213.2 164.2,214.8 166.5,213.3 163.7,212.6"/><polygon class="g1" points="152.9,211.8 155.9,213.4 158.3,211.9 155.5,211.1"/><polygon class="g0" points="193.8,181.6 196.8,184.2 199.1,180.5 196.1,178.1"/><polygon class="k1m" points="238.7,175.8 247.8,182.6 254.3,173.6 245.1,167.5"/><polygon class="r0" points="171.5,174.3 174.5,176.7 176.7,173.3 173.7,171.1"/><polygon class="g0" points="202.0,182.9 205.0,185.4 207.3,181.7 204.3,179.4"/><polygon class="y1m" points="232.0,185.5 240.7,193.0 247.8,182.6 238.7,175.8"/><polygon class="k0m" points="207.3,181.7 216.1,189.4 223.0,178.7 214.0,172.2"/><polygon class="r0" points="226.7,186.6 229.6,189.1 232.0,185.5 229.0,183.2"/><polygon class="r0" points="218.5,185.4 221.4,187.9 223.7,184.3 220.8,181.9"/><polygon points="101.1,206.6 100.0,202.1 84.4,169.8 85.7,175.2" fill="#f0e816" stroke="#111" stroke-width="0.45"/><polygon class="g1m" points="173.7,171.1 182.7,177.9 189.3,168.4 180.3,161.9"/><polygon class="k1m" points="189.3,168.4 198.3,174.9 204.9,165.8 195.9,159.7"/><polygon class="y1" points="106.1,205.2 108.9,207.0 111.6,204.9 108.9,203.4"/><polygon class="y1m" points="214.0,172.2 223.0,178.7 229.6,169.7 220.4,163.6"/><polygon class="g0" points="199.1,180.5 202.0,182.9 204.3,179.4 201.3,177.1"/><polygon points="96.3,207.9 101.1,206.6 85.7,175.2 79.9,176.7" fill="#a9a310" stroke="#111" stroke-width="0.45"/><polygon class="r0" points="223.7,184.3 226.7,186.6 229.0,183.2 226.0,181.0"/><polygon points="101.6,204.1 104.1,207.8 89.3,176.6 86.3,172.2" fill="#77730b" stroke="#111" stroke-width="0.45"/><polygon class="r1m" points="198.3,174.9 207.3,181.7 214.0,172.2 204.9,165.8"/><polygon class="g0" points="196.1,178.1 199.1,180.5 201.3,177.1 198.3,174.9"/><polygon class="g1m" points="223.0,178.7 232.0,185.5 238.7,175.8 229.6,169.7"/><polygon class="r0" points="220.8,181.9 223.7,184.3 226.0,181.0 223.0,178.7"/><polygon class="y1" points="114.4,206.6 117.2,208.4 119.9,206.2 117.1,204.8"/><polygon points="104.1,207.8 108.1,205.3 94.1,173.6 89.3,176.6" fill="#cec713" stroke="#111" stroke-width="0.45"/><polygon class="y1" points="213.9,223.1 217.1,224.8 219.0,223.1 215.6,222.1"/><polygon class="g1" points="122.7,207.9 125.5,209.8 128.1,207.6 125.4,206.2"/><polygon points="107.6,207.7 110.4,210.2 96.8,179.4 93.4,176.5" fill="#077607" stroke="#111" stroke-width="0.45"/><polygon class="k1" points="131.0,209.3 133.9,211.1 136.4,209.0 133.6,207.6"/><polygon class="y1" points="205.6,221.7 208.8,223.4 210.7,221.7 207.5,220.6"/><polygon points="110.4,210.2 113.0,207.4 100.0,176.1 96.8,179.4" fill="#0de20d" stroke="#111" stroke-width="0.45"/><polygon points="118.3,209.0 116.9,204.9 104.6,173.1 106.4,178.0" fill="#0ee90e" stroke="#111" stroke-width="0.45"/><polygon class="y1" points="108.9,207.0 111.8,209.0 114.4,206.6 111.6,204.9"/><polygon class="k1" points="139.3,210.7 142.2,212.5 144.7,210.4 141.9,209.0"/><polygon class="r1" points="197.3,220.3 200.5,222.1 202.5,220.2 199.3,219.2"/><polygon class="r1" points="147.6,212.0 150.5,213.8 152.9,211.8 150.1,210.5"/><polygon class="k1" points="189.1,218.9 192.1,220.7 194.2,218.8 191.1,217.7"/><polygon points="114.0,210.6 118.3,209.0 106.4,178.0 101.2,179.9" fill="#0bb30b" stroke="#111" stroke-width="0.45"/><polygon class="y1" points="155.9,213.4 158.8,215.2 161.2,213.2 158.3,211.9"/><polygon class="k1" points="180.8,217.6 183.8,219.3 186.0,217.4 182.9,216.2"/><polygon class="y1" points="164.2,214.8 167.1,216.6 169.5,214.6 166.5,213.3"/><polygon class="g1" points="172.5,216.2 175.5,217.9 177.7,216.0 174.7,214.8"/><polygon class="g1" points="117.2,208.4 120.1,210.3 122.7,207.9 119.9,206.2"/><polygon points="124.7,210.7 126.3,206.4 116.0,174.9 114.0,180.0" fill="#0e0e0e" stroke="#111" stroke-width="0.45"/><polygon points="120.2,209.2 124.7,210.7 114.0,180.0 108.6,178.3" fill="#0e0e0e" stroke="#111" stroke-width="0.45"/><polygon class="g1" points="125.5,209.8 128.5,211.7 131.0,209.3 128.1,207.6"/><polygon class="y1" points="111.8,209.0 114.7,211.0 117.2,208.4 114.4,206.6"/><polygon points="128.4,212.1 128.4,208.9 118.5,177.9 118.4,181.7" fill="#0e0e0e" stroke="#111" stroke-width="0.45"/><polygon points="125.1,212.2 128.4,212.1 118.4,181.7 114.5,181.7" fill="#0e0e0e" stroke="#111" stroke-width="0.45"/><polygon class="k1" points="133.9,211.1 136.8,213.0 139.3,210.7 136.4,209.0"/><polygon class="y0" points="184.9,263.6 187.8,267.1 190.3,261.9 187.2,259.2"/><polygon class="r1" points="142.2,212.5 145.1,214.4 147.6,212.0 144.7,210.4"/><polygon class="g1" points="120.1,210.3 123.1,212.3 125.5,209.8 122.7,207.9"/><polygon class="y1" points="208.8,223.4 211.9,225.3 213.9,223.1 210.7,221.7"/><polygon class="r1" points="150.5,213.8 153.5,215.7 155.9,213.4 152.9,211.8"/><polygon points="131.6,212.5 135.3,215.3 126.7,185.5 122.3,182.1" fill="#760609" stroke="#111" stroke-width="0.45"/><polygon points="135.3,215.3 138.3,211.6 130.3,181.2 126.7,185.5" fill="#e60c12" stroke="#111" stroke-width="0.45"/><polygon class="r1" points="200.5,222.1 203.6,223.9 205.6,221.7 202.5,220.2"/><polygon points="139.7,211.7 142.5,213.5 135.4,183.3 132.0,181.3" fill="#077607" stroke="#111" stroke-width="0.45"/><polygon points="142.5,213.5 144.4,210.7 137.7,180.0 135.4,183.3" fill="#0eec0e" stroke="#111" stroke-width="0.45"/><polygon class="y1" points="158.8,215.2 161.8,217.1 164.2,214.8 161.2,213.2"/><polygon class="g1" points="114.7,211.0 117.7,213.0 120.1,210.3 117.2,208.4"/><polygon class="r1" points="192.1,220.7 195.2,222.6 197.3,220.3 194.2,218.8"/><polygon class="g1" points="167.1,216.6 170.2,218.5 172.5,216.2 169.5,214.6"/><polygon class="k1" points="183.8,219.3 186.9,221.2 189.1,218.9 186.0,217.4"/><polygon class="g1" points="175.5,217.9 178.5,219.8 180.8,217.6 177.7,216.0"/><polygon class="k1" points="136.8,213.0 139.8,215.0 142.2,212.5 139.3,210.7"/><polygon points="151.4,215.9 152.3,211.2 147.2,180.6 146.1,186.2" fill="#faf117" stroke="#111" stroke-width="0.45"/><polygon class="g1" points="123.1,212.3 126.0,214.3 128.5,211.7 125.5,209.8"/><polygon points="146.6,215.1 151.4,215.9 146.1,186.2 140.3,185.2" fill="#77730b" stroke="#111" stroke-width="0.45"/><polygon class="r1" points="145.1,214.4 148.1,216.4 150.5,213.8 147.6,212.0"/><polygon points="158.3,217.1 158.6,211.9 154.8,181.5 154.4,187.7" fill="#0ff70f" stroke="#111" stroke-width="0.45"/><polygon class="g1" points="117.7,213.0 120.7,215.0 123.1,212.3 120.1,210.3"/><polygon points="153.0,216.9 158.3,217.1 154.4,187.7 147.9,187.4" fill="#088008" stroke="#111" stroke-width="0.45"/><polygon class="y1" points="211.9,225.3 215.1,227.2 217.1,224.8 213.9,223.1"/><polygon points="163.7,218.2 165.7,214.2 163.3,184.2 160.9,189.0" fill="#f20c12" stroke="#111" stroke-width="0.45"/><polygon class="y1" points="161.8,217.1 164.8,219.1 167.1,216.6 164.2,214.8"/><polygon points="159.6,216.4 163.7,218.2 160.9,189.0 155.9,186.8" fill="#760609" stroke="#111" stroke-width="0.45"/><polygon points="168.5,218.9 169.9,215.9 168.3,186.2 166.6,189.8" fill="#0e0e0e" stroke="#111" stroke-width="0.45"/><polygon class="g1" points="170.2,218.5 173.2,220.4 175.5,217.9 172.5,216.2"/><polygon class="r1" points="195.2,222.6 198.3,224.5 200.5,222.1 197.3,220.3"/><polygon class="r1" points="139.8,215.0 142.8,217.0 145.1,214.4 142.2,212.5"/><polygon class="k1" points="186.9,221.2 189.9,223.2 192.1,220.7 189.1,218.9"/><polygon points="165.3,217.6 168.5,218.9 166.6,189.8 162.8,188.3" fill="#0e0e0e" stroke="#111" stroke-width="0.45"/><polygon points="177.4,220.5 178.5,216.6 178.6,187.1 177.3,191.7" fill="#f70d13" stroke="#111" stroke-width="0.45"/><polygon class="g1" points="120.7,215.0 123.6,217.1 126.0,214.3 123.1,212.3"/><polygon class="y1m" points="123.6,217.1 132.7,223.5 139.8,215.0 131.0,209.3"/><polygon points="182.9,220.8 183.7,217.6 184.9,188.2 183.9,192.1" fill="#f70d13" stroke="#111" stroke-width="0.45"/><polygon class="r1" points="148.1,216.4 151.1,218.4 153.5,215.7 150.5,213.8"/><polygon points="173.4,219.5 177.4,220.5 177.3,191.7 172.5,190.4" fill="#760609" stroke="#111" stroke-width="0.45"/><polygon points="179.6,220.1 182.9,220.8 183.9,192.1 179.9,191.2" fill="#760609" stroke="#111" stroke-width="0.45"/><polygon points="190.6,219.2 191.2,222.8 193.9,194.5 193.1,190.1" fill="#77730b" stroke="#111" stroke-width="0.45"/><polygon points="187.2,222.7 188.4,219.2 190.5,190.2 189.1,194.3" fill="#f50c13" stroke="#111" stroke-width="0.45"/><polygon points="205.6,225.4 207.1,221.8 213.0,193.2 211.3,197.5" fill="#0ef40e" stroke="#111" stroke-width="0.45"/><polygon points="206.9,221.3 206.7,226.5 212.6,198.9 212.7,192.7" fill="#760609" stroke="#111" stroke-width="0.45"/><polygon class="y0" points="181.9,260.6 184.9,263.6 187.2,259.2 184.2,256.7"/><polygon points="191.2,222.8 195.0,222.2 198.5,193.7 193.9,194.5" fill="#9e980f" stroke="#111" stroke-width="0.45"/><polygon points="183.6,221.6 187.2,222.7 189.1,194.3 184.8,193.0" fill="#760609" stroke="#111" stroke-width="0.45"/><polygon points="215.2,228.5 217.3,225.7 225.3,197.9 222.8,201.2" fill="#0e0e0e" stroke="#111" stroke-width="0.45"/><polygon points="195.5,221.4 195.5,224.9 199.1,196.9 199.0,192.7" fill="#77730b" stroke="#111" stroke-width="0.45"/><polygon points="201.9,224.0 205.6,225.4 211.3,197.5 206.8,195.9" fill="#077607" stroke="#111" stroke-width="0.45"/><polygon class="g1" points="164.8,219.1 167.9,221.1 170.2,218.5 167.1,216.6"/><polygon class="r1" points="142.8,217.0 145.8,219.1 148.1,216.4 145.1,214.4"/><polygon points="212.3,226.4 215.2,228.5 222.8,201.2 219.3,198.8" fill="#0e0e0e" stroke="#111" stroke-width="0.45"/><polygon points="206.7,226.5 212.1,226.7 219.1,199.1 212.6,198.9" fill="#82070a" stroke="#111" stroke-width="0.45"/><polygon points="195.5,224.9 199.1,224.9 203.5,196.9 199.1,196.9" fill="#89840d" stroke="#111" stroke-width="0.45"/><polygon class="g1" points="173.2,220.4 176.3,222.5 178.5,219.8 175.5,217.9"/><polygon class="r1" points="198.3,224.5 201.4,226.5 203.6,223.9 200.5,222.1"/><polygon class="r1" points="189.9,223.2 193.0,225.2 195.2,222.6 192.1,220.7"/><polygon class="k1m" points="148.8,221.2 157.9,227.6 164.8,219.1 155.9,213.4"/><polygon class="r1" points="145.8,219.1 148.8,221.2 151.1,218.4 148.1,216.4"/><polygon class="g1" points="167.9,221.1 170.9,223.2 173.2,220.4 170.2,218.5"/><polygon class="k1m" points="199.2,229.3 208.6,235.7 215.1,227.2 205.6,221.7"/><polygon class="y1m" points="174.0,225.3 183.2,231.6 189.9,223.2 180.8,217.6"/><polygon class="r1" points="193.0,225.2 196.1,227.2 198.3,224.5 195.2,222.6"/><polygon class="g1" points="170.9,223.2 174.0,225.3 176.3,222.5 173.2,220.4"/><polygon class="g1m" points="132.7,223.5 141.8,230.0 148.8,221.2 139.8,215.0"/><polygon class="y0" points="178.8,257.9 181.9,260.6 184.2,256.7 181.1,254.2"/><polygon class="r1" points="196.1,227.2 199.2,229.3 201.4,226.5 198.3,224.5"/><polygon class="y0" points="187.2,259.2 190.3,261.9 192.6,258.0 189.6,255.6"/><polygon points="138.1,30.1 136.3,25.5 131.0,27.1 132.8,31.8" fill="#e4e4e4" stroke="#333" stroke-width="0.6"/><polygon points="144.3,29.3 140.7,26.4 137.2,29.7 140.9,32.6" fill="#e4e4e4" stroke="#333" stroke-width="0.6"/><polygon class="r1m" points="157.9,227.6 167.1,234.0 174.0,225.3 164.8,219.1"/><polygon points="150.7,30.8 148.9,27.6 145.3,29.2 147.1,32.4" fill="#e4e4e4" stroke="#333" stroke-width="0.6"/><polygon class="y0" points="184.2,256.7 187.2,259.2 189.6,255.6 186.5,253.2"/><polygon class="y1m" points="141.8,230.0 151.0,236.7 157.9,227.6 148.8,221.2"/><polygon class="g1m" points="183.2,231.6 192.5,238.1 199.2,229.3 189.9,223.2"/><polygon points="159.7,30.1 154.4,27.8 151.8,32.5 157.0,34.8" fill="#e4e4e4" stroke="#333" stroke-width="0.6"/><polygon class="y0" points="181.1,254.2 184.2,256.7 186.5,253.2 183.4,250.8"/><polygon class="g1m" points="169.5,250.5 178.8,257.9 185.7,247.6 176.4,240.6"/><polygon class="y0" points="189.6,255.6 192.6,258.0 195.0,254.5 191.9,252.2"/><polygon points="166.2,29.6 160.5,29.6 160.4,34.7 166.2,34.7" fill="#e4e4e4" stroke="#333" stroke-width="0.6"/><polygon class="g1m" points="151.0,236.7 160.2,243.5 167.1,234.0 157.9,227.6"/><polygon class="k1m" points="167.1,234.0 176.4,240.6 183.2,231.6 174.0,225.3"/><polygon points="171.7,30.8 167.6,31.3 168.1,35.0 172.3,34.4" fill="#e4e4e4" stroke="#333" stroke-width="0.6"/><polygon class="y1m" points="192.5,238.1 201.9,244.7 208.6,235.7 199.2,229.3"/><polygon class="y0" points="186.5,253.2 189.6,255.6 191.9,252.2 188.8,249.9"/><polygon class="y1m" points="160.2,243.5 169.5,250.5 176.4,240.6 167.1,234.0"/><polygon class="y0" points="183.4,250.8 186.5,253.2 188.8,249.9 185.7,247.6"/><polygon class="r1m" points="176.4,240.6 185.7,247.6 192.5,238.1 183.2,231.6"/><polygon class="k1m" points="185.7,247.6 195.0,254.5 201.9,244.7 192.5,238.1"/><polygon points="180.4,36.4 177.5,32.2 172.8,34.8 175.7,39.0" fill="#e4e4e4" stroke="#333" stroke-width="0.6"/><polygon points="187.4,37.9 185.4,33.2 180.0,34.9 182.0,39.7" fill="#e4e4e4" stroke="#333" stroke-width="0.6"/><polygon points="191.9,37.2 188.0,35.9 186.5,39.4 190.5,40.7" fill="#e4e4e4" stroke="#333" stroke-width="0.6"/><polygon points="201.2,38.0 196.4,37.0 195.3,41.3 200.1,42.3" fill="#e4e4e4" stroke="#333" stroke-width="0.6"/><polygon points="207.0,41.7 205.8,38.4 202.2,39.5 203.4,42.7" fill="#e4e4e4" stroke="#333" stroke-width="0.6"/><polygon points="83.9,90.8 79.4,90.3 78.7,94.5 83.3,94.9" fill="#e4e4e4" stroke="#333" stroke-width="0.6"/><polygon points="91.0,93.3 87.2,93.2 86.9,96.7 90.7,96.8" fill="#e4e4e4" stroke="#333" stroke-width="0.6"/><polygon points="98.4,93.3 93.9,92.6 93.0,96.7 97.4,97.4" fill="#e4e4e4" stroke="#333" stroke-width="0.6"/><polygon points="101.7,94.4 97.9,94.0 97.4,97.5 101.1,97.9" fill="#e4e4e4" stroke="#333" stroke-width="0.6"/><polygon points="108.7,97.7 104.7,94.4 101.0,98.2 105.0,101.4" fill="#e4e4e4" stroke="#333" stroke-width="0.6"/><polygon points="118.9,96.0 113.0,94.1 110.6,99.6 116.6,101.5" fill="#e4e4e4" stroke="#333" stroke-width="0.6"/><polygon points="121.8,99.9 119.0,97.7 116.5,100.4 119.4,102.6" fill="#e4e4e4" stroke="#333" stroke-width="0.6"/><polygon points="129.5,99.8 125.1,98.5 123.5,102.6 127.9,103.9" fill="#e4e4e4" stroke="#333" stroke-width="0.6"/><polygon points="138.2,99.8 133.5,99.0 132.5,103.4 137.3,104.1" fill="#e4e4e4" stroke="#333" stroke-width="0.6"/><polygon points="146.7,104.0 144.8,99.1 139.4,101.0 141.3,105.9" fill="#e4e4e4" stroke="#333" stroke-width="0.6"/><polygon points="154.3,103.2 150.2,101.0 147.7,104.8 151.8,107.0" fill="#e4e4e4" stroke="#333" stroke-width="0.6"/><polygon points="163.1,104.2 158.5,102.4 156.6,106.7 161.2,108.5" fill="#e4e4e4" stroke="#333" stroke-width="0.6"/><polygon points="168.9,105.0 163.6,103.6 162.0,108.5 167.2,109.9" fill="#e4e4e4" stroke="#333" stroke-width="0.6"/><polygon points="176.5,106.6 171.2,103.5 167.6,108.4 173.0,111.6" fill="#e4e4e4" stroke="#333" stroke-width="0.6"/><polygon points="183.1,109.2 179.2,105.0 174.6,108.6 178.5,112.9" fill="#e4e4e4" stroke="#333" stroke-width="0.6"/><polygon points="278.3,128.0 276.1,124.2 272.0,126.1 274.2,130.0" fill="#e4e4e4" stroke="#333" stroke-width="0.6"/><polygon points="188.1,110.2 183.5,106.9 179.9,111.2 184.6,114.5" fill="#e4e4e4" stroke="#333" stroke-width="0.6"/><polygon points="268.4,125.2 265.3,122.7 262.6,125.5 265.8,128.1" fill="#e4e4e4" stroke="#333" stroke-width="0.6"/><polygon points="258.7,121.1 253.8,121.5 254.4,126.1 259.2,125.7" fill="#e4e4e4" stroke="#333" stroke-width="0.6"/><polygon points="253.5,121.3 249.2,118.3 246.1,122.3 250.5,125.2" fill="#e4e4e4" stroke="#333" stroke-width="0.6"/><polygon points="193.2,114.2 190.8,109.2 185.4,111.5 187.8,116.5" fill="#e4e4e4" stroke="#333" stroke-width="0.6"/><polygon points="209.2,113.5 204.1,110.0 200.3,114.6 205.4,118.2" fill="#e4e4e4" stroke="#333" stroke-width="0.6"/><polygon points="244.2,119.0 240.4,119.4 240.9,122.9 244.7,122.5" fill="#e4e4e4" stroke="#333" stroke-width="0.6"/><polygon points="231.3,118.8 228.3,113.7 222.9,116.4 225.8,121.5" fill="#e4e4e4" stroke="#333" stroke-width="0.6"/><polygon points="198.7,113.3 195.3,111.1 192.9,114.3 196.4,116.5" fill="#e4e4e4" stroke="#333" stroke-width="0.6"/><polygon points="239.8,121.1 237.3,116.7 232.6,119.0 235.1,123.4" fill="#e4e4e4" stroke="#333" stroke-width="0.6"/><polygon points="224.8,116.3 219.6,113.4 216.6,118.3 221.8,121.1" fill="#e4e4e4" stroke="#333" stroke-width="0.6"/><polygon points="214.7,116.9 211.7,113.0 207.5,115.7 210.5,119.7" fill="#e4e4e4" stroke="#333" stroke-width="0.6"/><polygon points="85.7,175.2 84.4,169.8 78.6,171.3 79.9,176.7" fill="#e4e4e4" stroke="#333" stroke-width="0.6"/><polygon points="94.1,173.6 91.1,169.2 86.3,172.2 89.3,176.6" fill="#e4e4e4" stroke="#333" stroke-width="0.6"/><polygon points="100.0,176.1 96.6,173.2 93.4,176.5 96.8,179.4" fill="#e4e4e4" stroke="#333" stroke-width="0.6"/><polygon points="106.4,178.0 104.6,173.1 99.4,175.0 101.2,179.9" fill="#e4e4e4" stroke="#333" stroke-width="0.6"/><polygon points="116.0,174.9 110.6,173.1 108.6,178.3 114.0,180.0" fill="#e4e4e4" stroke="#333" stroke-width="0.6"/><polygon points="118.5,177.9 114.6,178.0 114.5,181.7 118.4,181.7" fill="#e4e4e4" stroke="#333" stroke-width="0.6"/><polygon points="130.3,181.2 125.9,177.9 122.3,182.1 126.7,185.5" fill="#e4e4e4" stroke="#333" stroke-width="0.6"/><polygon points="137.7,180.0 134.2,177.9 132.0,181.3 135.4,183.3" fill="#e4e4e4" stroke="#333" stroke-width="0.6"/><polygon points="147.2,180.6 141.5,179.7 140.3,185.2 146.1,186.2" fill="#e4e4e4" stroke="#333" stroke-width="0.6"/><polygon points="154.8,181.5 148.4,181.3 147.9,187.4 154.4,187.7" fill="#e4e4e4" stroke="#333" stroke-width="0.6"/><polygon points="163.3,184.2 158.3,182.0 155.9,186.8 160.9,189.0" fill="#e4e4e4" stroke="#333" stroke-width="0.6"/><polygon points="168.3,186.2 164.5,184.7 162.8,188.3 166.6,189.8" fill="#e4e4e4" stroke="#333" stroke-width="0.6"/><polygon points="178.6,187.1 173.8,185.8 172.5,190.4 177.3,191.7" fill="#e4e4e4" stroke="#333" stroke-width="0.6"/><polygon points="184.9,188.2 180.9,187.3 179.9,191.2 183.9,192.1" fill="#e4e4e4" stroke="#333" stroke-width="0.6"/><polygon points="198.5,193.7 197.7,189.4 193.1,190.1 193.9,194.5" fill="#e4e4e4" stroke="#333" stroke-width="0.6"/><polygon points="190.5,190.2 186.2,188.9 184.8,193.0 189.1,194.3" fill="#e4e4e4" stroke="#333" stroke-width="0.6"/><polygon points="213.0,193.2 208.5,191.6 206.8,195.9 211.3,197.5" fill="#e4e4e4" stroke="#333" stroke-width="0.6"/><polygon points="219.2,192.9 212.7,192.7 212.6,198.9 219.1,199.1" fill="#e4e4e4" stroke="#333" stroke-width="0.6"/><polygon points="225.3,197.9 221.8,195.5 219.3,198.8 222.8,201.2" fill="#e4e4e4" stroke="#333" stroke-width="0.6"/><polygon points="203.4,192.7 199.0,192.7 199.1,196.9 203.5,196.9" fill="#e4e4e4" stroke="#333" stroke-width="0.6"/></g><g font-family='"Liberation Sans", sans-serif' font-weight="bold" fill="#000"><text x="49.0" y="198.0" text-anchor="middle" font-size="17"><tspan dy="1.70">−</tspan><tspan dy="-1.70">2</tspan></text><text x="79.0" y="221.0" text-anchor="middle" font-size="17"><tspan dy="1.70">−</tspan><tspan dy="-1.70">1</tspan></text><text x="115.0" y="243.5" text-anchor="middle" font-size="17">0</text><text x="147.0" y="267.0" text-anchor="middle" font-size="17">1</text><text x="178.0" y="291.0" text-anchor="middle" font-size="17">2</text><text x="202.0" y="287.0" text-anchor="middle" font-size="17"><tspan dy="1.70">−</tspan><tspan dy="-1.70">2</tspan></text><text x="224.0" y="256.5" text-anchor="middle" font-size="17"><tspan dy="1.70">−</tspan><tspan dy="-1.70">1</tspan></text><text x="243.0" y="223.0" text-anchor="middle" font-size="17">0</text><text x="264.5" y="192.5" text-anchor="middle" font-size="17">1</text><text x="285.0" y="162.0" text-anchor="middle" font-size="17">2</text><text x="26.8" y="139.3" text-anchor="end" font-size="18">20</text><text x="39.5" y="154.5" text-anchor="end" font-size="18">0</text><text x="48.2" y="169.3" text-anchor="end" font-size="18"><tspan dy="1.80">−</tspan><tspan dy="-1.80">20</tspan></text><text x="102.0" y="264.0" text-anchor="middle" font-size="24">x</text><text x="252.5" y="237.0" text-anchor="middle" font-size="26">t</text></g><g clip-path="url(#cp2)"><rect x="401" y="48" width="220" height="220" fill="#c9b743"/><polygon points="396,62.57 626,-46.56 626,8.44 396,117.57" fill="#7ab977"/><polyline points="396,61.97 398.2,61.53 400.4,61.88 402.6,59.44 404.8,59.8 407,58.75 409.2,57.71 411.4,54.67 413.6,54.22 415.8,54.08 418,52.13 420.2,52.49 422.4,50.05 424.6,49 426.8,47.96 429,46.91 431.2,46.77 433.4,44.83 435.6,44.68 437.8,42.14 440,41.69 442.2,40.05 444.4,39.61 446.6,38.56 448.8,38.92 451,36.48 453.2,36.33 455.4,34.39 457.6,33.34 459.8,33.2 462,31.26 464.2,30.21 466.4,29.17 468.6,27.52 470.8,26.48 473,26.94 475.2,24.99 477.4,23.95 479.6,22.9 481.8,21.86 484,20.82 486.2,19.77 488.4,18.73 490.6,17.68 492.8,16.64 495,15.6 497.2,14.55 499.4,12.91 501.6,13.87 503.8,12.82 506,10.38 508.2,9.33 510.4,9.69 512.6,7.25 514.8,7.1 517,5.16 519.2,4.11 521.4,3.07 523.6,2.93 525.8,0.98 528,-0.06 530.2,-1.11 532.4,-2.15 534.6,-3.19 536.8,-4.24 539,-5.88 541.2,-6.92 543.4,-7.37 545.6,-9.01 547.8,-8.06 550,-9.1 552.2,-11.54 554.4,-12.59 556.6,-13.63 558.8,-14.68 561,-15.72 563.2,-15.86 565.4,-16.41 567.6,-18.85 569.8,-19.9 572,-20.04 574.2,-21.08 576.4,-21.63 578.6,-24.07 580.8,-25.12 583,-26.16 585.2,-27.2 587.4,-26.85 589.6,-29.29 591.8,-29.43 594,-31.38 596.2,-33.02 598.4,-32.57 600.6,-34.51 602.8,-34.65 605,-37.2 607.2,-37.64 609.4,-37.79 611.6,-39.73 613.8,-39.37 616,-41.82 618.2,-43.46 620.4,-43.91 622.6,-44.95 624.8,-45.99" fill="none" stroke="#3d5f2c" stroke-width="1"/><polyline points="396,118.47 398.2,116.53 400.4,114.88 402.6,114.44 404.8,112.8 407,112.35 409.2,112.21 411.4,110.27 413.6,108.62 415.8,109.58 418,107.13 420.2,106.09 422.4,105.05 424.6,104.9 426.8,102.96 429,101.91 431.2,100.87 433.4,99.23 435.6,98.18 437.8,97.74 440,96.69 442.2,95.65 444.4,94.61 446.6,94.96 448.8,91.92 451,91.48 453.2,90.43 455.4,90.79 457.6,88.34 459.8,87.3 462,86.26 464.2,85.21 466.4,85.57 468.6,83.12 470.8,83.48 473,82.44 475.2,79.99 477.4,79.85 479.6,77.9 481.8,78.26 484,75.82 486.2,74.77 488.4,73.13 490.6,72.08 492.8,72.54 495,70.6 497.2,69.55 499.4,69.91 501.6,66.87 503.8,66.42 506,65.38 508.2,65.23 510.4,64.69 512.6,63.15 514.8,61.2 517,60.16 519.2,60.51 521.4,58.07 523.6,57.93 525.8,55.98 528,54.94 530.2,53.89 532.4,54.25 534.6,51.21 536.8,50.76 539,51.12 541.2,49.58 543.4,47.63 545.6,46.59 547.8,46.44 550,44.5 552.2,43.46 554.4,42.41 556.6,42.27 558.8,40.32 561,39.28 563.2,39.14 565.4,36.59 567.6,36.15 569.8,34.5 572,34.96 574.2,33.92 576.4,33.37 578.6,32.33 580.8,29.88 583,29.74 585.2,27.8 587.4,26.75 589.6,26.61 591.8,25.57 594,23.62 596.2,22.58 598.4,22.43 600.6,19.89 602.8,19.45 605,19.8 607.2,18.26 609.4,16.31 611.6,15.27 613.8,14.23 616,14.08 618.2,12.14 620.4,10.49 622.6,9.45 624.8,8.41" fill="none" stroke="#3d5f2c" stroke-width="1"/><polygon points="396,76.87 626,-32.26 626,-30.06 396,79.07" fill="#26432f"/><polygon points="396,101.07 626,-8.06 626,-5.86 396,103.27" fill="#26432f"/><polygon points="396,79.07 626,-30.06 626,-27.86 396,81.27" fill="#1f3676"/><polygon points="396,98.87 626,-10.26 626,-8.06 396,101.07" fill="#1f3676"/><polygon points="396,81.27 626,-27.86 626,-26.06 396,83.07" fill="#0f1535"/><polygon points="396,97.07 626,-12.06 626,-10.26 396,98.87" fill="#0f1535"/><rect x="401.08" y="75.49" width="1.9" height="1.5" fill="#5a9ae0"/><rect x="405.17" y="74.2" width="1.9" height="1.5" fill="#5a9ae0"/><rect x="408.26" y="72.52" width="1.9" height="1.5" fill="#5a9ae0"/><rect x="412.76" y="72.71" width="1.9" height="1.5" fill="#e8eef0"/><rect x="416.91" y="67.08" width="1.9" height="1.5" fill="#5a9ae0"/><rect x="420.86" y="67.2" width="1.9" height="1.5" fill="#3f7fd0"/><rect x="424.28" y="64.55" width="1.9" height="1.5" fill="#5a9ae0"/><rect x="428.3" y="64.29" width="1.9" height="1.5" fill="#2a5a3a"/><rect x="432.24" y="60.65" width="1.9" height="1.5" fill="#5a9ae0"/><rect x="435.06" y="61.71" width="1.9" height="1.5" fill="#0c0c20"/><rect x="438.11" y="57.62" width="1.9" height="1.5" fill="#e8eef0"/><rect x="441.46" y="58.57" width="1.9" height="1.5" fill="#5a9ae0"/><rect x="445.02" y="56.01" width="1.9" height="1.5" fill="#4a8fd8"/><rect x="447.61" y="55.66" width="1.9" height="1.5" fill="#0c0c20"/><rect x="450.46" y="55.81" width="1.9" height="1.5" fill="#e8eef0"/><rect x="454.65" y="53.33" width="1.9" height="1.5" fill="#2a5a3a"/><rect x="458.2" y="47.59" width="1.9" height="1.5" fill="#5a9ae0"/><rect x="462.07" y="46.62" width="1.9" height="1.5" fill="#e8eef0"/><rect x="464.88" y="44.11" width="1.9" height="1.5" fill="#4a8fd8"/><rect x="467.36" y="45.87" width="1.9" height="1.5" fill="#e8eef0"/><rect x="469.91" y="42.98" width="1.9" height="1.5" fill="#4a8fd8"/><rect x="473.8" y="44.93" width="1.9" height="1.5" fill="#0c0c20"/><rect x="478.74" y="41.93" width="1.9" height="1.5" fill="#4a8fd8"/><rect x="481.07" y="36.58" width="1.9" height="1.5" fill="#0c0c20"/><rect x="483.65" y="40.29" width="1.9" height="1.5" fill="#0c0c20"/><rect x="486.7" y="35.52" width="1.9" height="1.5" fill="#3f7fd0"/><rect x="490.48" y="35.98" width="1.9" height="1.5" fill="#5a9ae0"/><rect x="492.48" y="34.15" width="1.9" height="1.5" fill="#5a9ae0"/><rect x="497.04" y="29.53" width="1.9" height="1.5" fill="#e8eef0"/><rect x="501.54" y="30.01" width="1.9" height="1.5" fill="#3f7fd0"/><rect x="505.19" y="28.67" width="1.9" height="1.5" fill="#5a9ae0"/><rect x="508.82" y="26.74" width="1.9" height="1.5" fill="#2a5a3a"/><rect x="511.7" y="25.31" width="1.9" height="1.5" fill="#4a8fd8"/><rect x="514.96" y="21.32" width="1.9" height="1.5" fill="#e8eef0"/><rect x="518.58" y="21.43" width="1.9" height="1.5" fill="#4a8fd8"/><rect x="522.36" y="19.12" width="1.9" height="1.5" fill="#4a8fd8"/><rect x="527.27" y="16.56" width="1.9" height="1.5" fill="#5a9ae0"/><rect x="531.73" y="14.16" width="1.9" height="1.5" fill="#0c0c20"/><rect x="534.06" y="13.57" width="1.9" height="1.5" fill="#2a5a3a"/><rect x="537.67" y="13.12" width="1.9" height="1.5" fill="#2a5a3a"/><rect x="540.8" y="11.08" width="1.9" height="1.5" fill="#4a8fd8"/><rect x="544.28" y="9.17" width="1.9" height="1.5" fill="#e8eef0"/><rect x="547.42" y="5.13" width="1.9" height="1.5" fill="#4a8fd8"/><rect x="551.21" y="7.05" width="1.9" height="1.5" fill="#5a9ae0"/><rect x="554.7" y="4.57" width="1.9" height="1.5" fill="#5a9ae0"/><rect x="559.53" y="2.85" width="1.9" height="1.5" fill="#5a9ae0"/><rect x="561.96" y="3.2" width="1.9" height="1.5" fill="#e8eef0"/><rect x="565.83" y="-0.86" width="1.9" height="1.5" fill="#5a9ae0"/><rect x="567.95" y="-0.24" width="1.9" height="1.5" fill="#0c0c20"/><rect x="569.99" y="-3.31" width="1.9" height="1.5" fill="#5a9ae0"/><rect x="572.72" y="-4.29" width="1.9" height="1.5" fill="#3f7fd0"/><rect x="575.45" y="-4.5" width="1.9" height="1.5" fill="#4a8fd8"/><rect x="579.62" y="-6.57" width="1.9" height="1.5" fill="#0c0c20"/><rect x="583.44" y="-9.38" width="1.9" height="1.5" fill="#e8eef0"/><rect x="588.03" y="-13.72" width="1.9" height="1.5" fill="#3f7fd0"/><rect x="590.08" y="-10.69" width="1.9" height="1.5" fill="#5a9ae0"/><rect x="593.68" y="-13.51" width="1.9" height="1.5" fill="#5a9ae0"/><rect x="597.88" y="-13.86" width="1.9" height="1.5" fill="#5a9ae0"/><rect x="600.96" y="-19.13" width="1.9" height="1.5" fill="#2a5a3a"/><rect x="603.36" y="-16.33" width="1.9" height="1.5" fill="#2a5a3a"/><rect x="606.72" y="-22.77" width="1.9" height="1.5" fill="#e8eef0"/><rect x="610.36" y="-19.72" width="1.9" height="1.5" fill="#0c0c20"/><rect x="614.15" y="-25.09" width="1.9" height="1.5" fill="#e8eef0"/><rect x="618.09" y="-27.86" width="1.9" height="1.5" fill="#0c0c20"/><rect x="621.52" y="-28.55" width="1.9" height="1.5" fill="#e8eef0"/><rect x="624.11" y="-27.74" width="1.9" height="1.5" fill="#3f7fd0"/><rect x="400.91" y="94.16" width="1.9" height="1.5" fill="#0c0c20"/><rect x="404.66" y="95.8" width="1.9" height="1.5" fill="#0c0c20"/><rect x="409.39" y="90.88" width="1.9" height="1.5" fill="#0c0c20"/><rect x="413.48" y="92.89" width="1.9" height="1.5" fill="#5a9ae0"/><rect x="417.09" y="88.72" width="1.9" height="1.5" fill="#2a5a3a"/><rect x="421.52" y="84.72" width="1.9" height="1.5" fill="#4a8fd8"/><rect x="424.33" y="83.48" width="1.9" height="1.5" fill="#3f7fd0"/><rect x="428.32" y="81.27" width="1.9" height="1.5" fill="#e8eef0"/><rect x="431.6" y="79.94" width="1.9" height="1.5" fill="#0c0c20"/><rect x="435.71" y="77.89" width="1.9" height="1.5" fill="#3f7fd0"/><rect x="438.37" y="79.79" width="1.9" height="1.5" fill="#3f7fd0"/><rect x="442.5" y="75.12" width="1.9" height="1.5" fill="#5a9ae0"/><rect x="446.62" y="74.77" width="1.9" height="1.5" fill="#4a8fd8"/><rect x="450.45" y="72.83" width="1.9" height="1.5" fill="#4a8fd8"/><rect x="452.65" y="70.72" width="1.9" height="1.5" fill="#2a5a3a"/><rect x="454.98" y="70.5" width="1.9" height="1.5" fill="#3f7fd0"/><rect x="457.82" y="70.17" width="1.9" height="1.5" fill="#3f7fd0"/><rect x="462.05" y="69.79" width="1.9" height="1.5" fill="#4a8fd8"/><rect x="464.08" y="64.66" width="1.9" height="1.5" fill="#e8eef0"/><rect x="467.88" y="64.96" width="1.9" height="1.5" fill="#e8eef0"/><rect x="471" y="61.18" width="1.9" height="1.5" fill="#e8eef0"/><rect x="473.88" y="62.53" width="1.9" height="1.5" fill="#e8eef0"/><rect x="477.4" y="62.67" width="1.9" height="1.5" fill="#2a5a3a"/><rect x="481.05" y="57.29" width="1.9" height="1.5" fill="#3f7fd0"/><rect x="484.71" y="55.73" width="1.9" height="1.5" fill="#5a9ae0"/><rect x="488.26" y="53.41" width="1.9" height="1.5" fill="#4a8fd8"/><rect x="492.85" y="52.92" width="1.9" height="1.5" fill="#0c0c20"/><rect x="495.38" y="53.09" width="1.9" height="1.5" fill="#e8eef0"/><rect x="498.41" y="50.92" width="1.9" height="1.5" fill="#3f7fd0"/><rect x="500.68" y="47.46" width="1.9" height="1.5" fill="#2a5a3a"/><rect x="504.04" y="47.27" width="1.9" height="1.5" fill="#0c0c20"/><rect x="507.48" y="45.29" width="1.9" height="1.5" fill="#2a5a3a"/><rect x="509.57" y="46.42" width="1.9" height="1.5" fill="#3f7fd0"/><rect x="514.12" y="45.43" width="1.9" height="1.5" fill="#0c0c20"/><rect x="518.16" y="39.69" width="1.9" height="1.5" fill="#3f7fd0"/><rect x="520.41" y="42.27" width="1.9" height="1.5" fill="#0c0c20"/><rect x="524.87" y="36.06" width="1.9" height="1.5" fill="#2a5a3a"/><rect x="528" y="38.27" width="1.9" height="1.5" fill="#5a9ae0"/><rect x="531" y="35.67" width="1.9" height="1.5" fill="#5a9ae0"/><rect x="535.39" y="32.34" width="1.9" height="1.5" fill="#e8eef0"/><rect x="539.88" y="31.63" width="1.9" height="1.5" fill="#e8eef0"/><rect x="543.18" y="31.15" width="1.9" height="1.5" fill="#2a5a3a"/><rect x="545.29" y="30.9" width="1.9" height="1.5" fill="#4a8fd8"/><rect x="549.51" y="25.73" width="1.9" height="1.5" fill="#3f7fd0"/><rect x="551.62" y="23.62" width="1.9" height="1.5" fill="#4a8fd8"/><rect x="553.74" y="26.34" width="1.9" height="1.5" fill="#0c0c20"/><rect x="557.73" y="21.58" width="1.9" height="1.5" fill="#0c0c20"/><rect x="561.14" y="22.83" width="1.9" height="1.5" fill="#2a5a3a"/><rect x="565.9" y="17.57" width="1.9" height="1.5" fill="#0c0c20"/><rect x="568.2" y="15.58" width="1.9" height="1.5" fill="#4a8fd8"/><rect x="570.41" y="18.32" width="1.9" height="1.5" fill="#0c0c20"/><rect x="572.87" y="13.89" width="1.9" height="1.5" fill="#5a9ae0"/><rect x="577.33" y="14.41" width="1.9" height="1.5" fill="#e8eef0"/><rect x="580.03" y="11.7" width="1.9" height="1.5" fill="#3f7fd0"/><rect x="583.06" y="11.7" width="1.9" height="1.5" fill="#5a9ae0"/><rect x="587.88" y="9.07" width="1.9" height="1.5" fill="#e8eef0"/><rect x="591.25" y="8.33" width="1.9" height="1.5" fill="#4a8fd8"/><rect x="593.6" y="6.25" width="1.9" height="1.5" fill="#5a9ae0"/><rect x="596.96" y="2.39" width="1.9" height="1.5" fill="#4a8fd8"/><rect x="599.06" y="3.91" width="1.9" height="1.5" fill="#2a5a3a"/><rect x="601.76" y="-0.74" width="1.9" height="1.5" fill="#0c0c20"/><rect x="606.49" y="0.34" width="1.9" height="1.5" fill="#e8eef0"/><rect x="609.43" y="-2.32" width="1.9" height="1.5" fill="#5a9ae0"/><rect x="611.63" y="-0.58" width="1.9" height="1.5" fill="#0c0c20"/><rect x="614.12" y="-5.75" width="1.9" height="1.5" fill="#e8eef0"/><rect x="616.74" y="-8.04" width="1.9" height="1.5" fill="#2a5a3a"/><rect x="620.04" y="-4.66" width="1.9" height="1.5" fill="#3f7fd0"/><rect x="623.42" y="-9.04" width="1.9" height="1.5" fill="#e8eef0"/><rect x="626.65" y="-12.73" width="1.9" height="1.5" fill="#2a5a3a"/><polygon points="396,83.07 626,-26.06 626,-12.06 396,97.07" fill="#ffffff"/><polyline points="399.34,83.29 403.58,83.29 403.58,81.29 407.82,81.29 407.82,79.29 412.06,79.29 412.06,77.29 416.3,77.29 416.3,75.29 420.54,75.29 420.54,73.29 424.78,73.29 424.78,71.29 429.02,71.29 429.02,69.29 433.26,69.29 433.26,67.29 437.5,67.29 437.5,65.29 441.74,65.29 441.74,63.29 445.98,63.29 445.98,61.29 450.22,61.29 450.22,59.29 454.46,59.29 454.46,57.29 458.7,57.29 458.7,55.29 462.94,55.29 462.94,53.29 467.18,53.29 467.18,51.29 471.42,51.29 471.42,49.29 475.66,49.29 475.66,47.29 479.9,47.29 479.9,45.29 484.14,45.29 484.14,43.29 488.38,43.29 488.38,41.29 492.62,41.29 492.62,39.29 496.86,39.29 496.86,37.29 501.1,37.29 501.1,35.29 505.34,35.29 505.34,33.29 509.58,33.29 509.58,31.29 513.82,31.29 513.82,29.29 518.06,29.29 518.06,27.29 522.3,27.29 522.3,25.29 526.54,25.29 526.54,23.29 530.78,23.29 530.78,21.29 535.02,21.29 535.02,19.29 539.26,19.29 539.26,17.29 543.5,17.29 543.5,15.29 547.74,15.29 547.74,13.29 551.98,13.29 551.98,11.29 556.22,11.29 556.22,9.29 560.46,9.29 560.46,7.29 564.7,7.29 564.7,5.29 568.94,5.29 568.94,3.29 573.18,3.29 573.18,1.29 577.42,1.29 577.42,-0.71 581.66,-0.71 581.66,-2.71 585.9,-2.71 585.9,-4.71 590.14,-4.71 590.14,-6.71 594.38,-6.71 594.38,-8.71 598.62,-8.71 598.62,-10.71 602.86,-10.71 602.86,-12.71 607.1,-12.71 607.1,-14.71 611.34,-14.71 611.34,-16.71 615.58,-16.71 615.58,-18.71 619.82,-18.71 619.82,-20.71 624.06,-20.71 624.06,-22.71 628.3,-22.71" fill="none" stroke="#111" stroke-width="1.1" stroke-dasharray="3.2,1.2"/><polyline points="399.35,93.68 403.59,93.68 403.59,91.68 407.83,91.68 407.83,89.68 412.07,89.68 412.07,87.68 416.31,87.68 416.31,85.68 420.55,85.68 420.55,83.68 424.79,83.68 424.79,81.68 429.03,81.68 429.03,79.68 433.27,79.68 433.27,77.68 437.51,77.68 437.51,75.68 441.75,75.68 441.75,73.68 445.99,73.68 445.99,71.68 450.23,71.68 450.23,69.68 454.47,69.68 454.47,67.68 458.71,67.68 458.71,65.68 462.95,65.68 462.95,63.68 467.19,63.68 467.19,61.68 471.43,61.68 471.43,59.68 475.67,59.68 475.67,57.68 479.91,57.68 479.91,55.68 484.15,55.68 484.15,53.68 488.39,53.68 488.39,51.68 492.63,51.68 492.63,49.68 496.87,49.68 496.87,47.68 501.11,47.68 501.11,45.68 505.35,45.68 505.35,43.68 509.59,43.68 509.59,41.68 513.83,41.68 513.83,39.68 518.07,39.68 518.07,37.68 522.31,37.68 522.31,35.68 526.55,35.68 526.55,33.68 530.79,33.68 530.79,31.68 535.03,31.68 535.03,29.68 539.27,29.68 539.27,27.68 543.51,27.68 543.51,25.68 547.75,25.68 547.75,23.68 551.99,23.68 551.99,21.68 556.23,21.68 556.23,19.68 560.47,19.68 560.47,17.68 564.71,17.68 564.71,15.68 568.95,15.68 568.95,13.68 573.19,13.68 573.19,11.68 577.43,11.68 577.43,9.68 581.67,9.68 581.67,7.68 585.91,7.68 585.91,5.68 590.15,5.68 590.15,3.68 594.39,3.68 594.39,1.68 598.63,1.68 598.63,-0.32 602.87,-0.32 602.87,-2.32 607.11,-2.32 607.11,-4.32 611.35,-4.32 611.35,-6.32 615.59,-6.32 615.59,-8.32 619.83,-8.32 619.83,-10.32 624.07,-10.32 624.07,-12.32 628.31,-12.32" fill="none" stroke="#111" stroke-width="1.1" stroke-dasharray="3.2,1.2"/><polyline points="396,89.87 399.6,86.66 403.2,86.46 406.8,83.25 410.4,83.04 414,79.83 417.6,79.62 421.2,76.42 424.8,76.21 428.4,73 432,72.79 435.6,69.58 439.2,69.37 442.8,66.17 446.4,65.96 450,62.75 453.6,62.54 457.2,59.33 460.8,59.12 464.4,55.92 468,55.71 471.6,52.5 475.2,52.29 478.8,49.08 482.4,48.88 486,45.67 489.6,45.46 493.2,42.25 496.8,42.04 500.4,38.83 504,38.63 507.6,35.42 511.2,35.21 514.8,32 518.4,31.79 522,28.59 525.6,28.38 529.2,25.17 532.8,24.96 536.4,21.75 540,21.54 543.6,18.34 547.2,18.13 550.8,14.92 554.4,14.71 558,11.5 561.6,11.3 565.2,8.09 568.8,7.88 572.4,4.67 576,4.46 579.6,1.25 583.2,1.05 586.8,-2.16 590.4,-2.37 594,-5.58 597.6,-5.79 601.2,-8.99 604.8,-9.2 608.4,-12.41 612,-12.62 615.6,-15.83 619.2,-16.04 622.8,-19.24" fill="none" stroke="#111" stroke-width="1"/><polyline points="396,90.27 399.6,90.06 403.2,86.86 406.8,86.65 410.4,83.44 414,83.23 417.6,80.02 421.2,79.82 424.8,76.61 428.4,76.4 432,73.19 435.6,72.98 439.2,69.77 442.8,69.57 446.4,66.36 450,66.15 453.6,62.94 457.2,62.73 460.8,59.52 464.4,59.32 468,56.11 471.6,55.9 475.2,52.69 478.8,52.48 482.4,49.28 486,49.07 489.6,45.86 493.2,45.65 496.8,42.44 500.4,42.23 504,39.03 507.6,38.82 511.2,35.61 514.8,35.4 518.4,32.19 522,31.99 525.6,28.78 529.2,28.57 532.8,25.36 536.4,25.15 540,21.94 543.6,21.74 547.2,18.53 550.8,18.32 554.4,15.11 558,14.9 561.6,11.7 565.2,11.49 568.8,8.28 572.4,8.07 576,4.86 579.6,4.65 583.2,1.45 586.8,1.24 590.4,-1.97 594,-2.18 597.6,-5.39 601.2,-5.59 604.8,-8.8 608.4,-9.01 612,-12.22 615.6,-12.43 619.2,-15.64 622.8,-15.84" fill="none" stroke="#111" stroke-width="1"/><polygon points="396,166.07 626,56.94 626,111.94 396,221.07" fill="#7ab977"/><polyline points="396,165.47 398.2,165.03 400.4,163.98 402.6,164.34 404.8,161.9 407,160.85 409.2,160.71 411.4,158.77 413.6,158.62 415.8,156.68 418,157.03 420.2,154.59 422.4,154.95 424.6,152.5 426.8,152.36 429,151.31 431.2,149.37 433.4,148.33 435.6,147.28 437.8,147.14 440,146.09 442.2,144.15 444.4,144.51 446.6,142.06 448.8,141.02 451,139.98 453.2,138.93 455.4,139.29 457.6,136.24 459.8,137.2 462,135.66 464.2,133.71 466.4,132.07 468.6,131.62 470.8,130.58 473,129.54 475.2,128.49 477.4,127.45 479.6,125.8 481.8,125.36 484,123.72 486.2,123.27 488.4,123.63 490.6,121.18 492.8,119.54 495,119.1 497.2,118.95 499.4,116.41 501.6,115.97 503.8,115.82 506,114.78 508.2,112.23 510.4,112.69 512.6,110.15 514.8,111.1 517,108.66 519.2,109.01 521.4,106.57 523.6,105.53 525.8,105.88 528,104.34 530.2,102.39 532.4,100.75 534.6,100.31 536.8,99.26 539,98.22 541.2,98.08 543.4,96.13 545.6,95.09 547.8,94.94 550,93 552.2,91.96 554.4,90.91 556.6,89.27 558.8,88.82 561,88.68 563.2,86.74 565.4,87.09 567.6,84.65 569.8,84.5 572,81.96 574.2,82.92 576.4,80.47 578.6,79.43 580.8,78.38 583,78.24 585.2,77.7 587.4,75.25 589.6,74.21 591.8,74.57 594,72.12 596.2,71.08 598.4,70.03 600.6,68.99 602.8,67.95 605,67.8 607.2,65.86 609.4,65.71 611.6,63.17 613.8,62.73 616,61.68 618.2,62.04 620.4,59.59 622.6,57.95 624.8,57.51" fill="none" stroke="#3d5f2c" stroke-width="1"/><polyline points="396,221.97 398.2,220.03 400.4,220.38 402.6,219.34 404.8,216.9 407,217.25 409.2,214.81 411.4,215.17 413.6,213.62 415.8,211.68 418,210.63 420.2,210.49 422.4,207.95 424.6,207.5 426.8,206.46 429,205.41 431.2,204.37 433.4,203.33 435.6,202.28 437.8,201.24 440,201.09 442.2,200.55 444.4,198.11 446.6,197.06 448.8,196.02 451,194.98 453.2,193.33 455.4,194.29 457.6,191.24 459.8,190.8 462,189.76 464.2,188.71 466.4,187.67 468.6,186.62 470.8,185.58 473,185.44 475.2,183.49 477.4,181.85 479.6,181.4 481.8,180.36 484,178.72 486.2,179.17 488.4,177.23 490.6,176.18 492.8,175.14 495,174.1 497.2,173.05 499.4,172.01 501.6,170.97 503.8,169.32 506,168.28 508.2,167.83 510.4,168.19 512.6,165.75 514.8,164.7 517,163.06 519.2,162.01 521.4,161.57 523.6,161.93 525.8,160.88 528,158.44 530.2,158.29 532.4,157.25 534.6,156.21 536.8,154.26 539,153.22 541.2,152.18 543.4,152.03 545.6,150.09 547.8,149.94 550,147.4 552.2,147.86 554.4,145.91 556.6,145.77 558.8,143.82 561,144.18 563.2,141.74 565.4,140.09 567.6,140.55 569.8,139.5 572,136.96 574.2,136.52 576.4,135.47 578.6,134.43 580.8,134.28 583,133.74 585.2,131.3 587.4,130.25 589.6,129.21 591.8,128.17 594,126.52 596.2,126.08 598.4,125.93 600.6,125.39 602.8,122.95 605,122.8 607.2,121.76 609.4,119.81 611.6,118.77 613.8,117.73 616,116.68 618.2,115.64 620.4,113.99 622.6,112.95 624.8,112.51" fill="none" stroke="#3d5f2c" stroke-width="1"/><polygon points="396,180.37 626,71.24 626,73.44 396,182.57" fill="#26432f"/><polygon points="396,204.57 626,95.44 626,97.64 396,206.77" fill="#26432f"/><polygon points="396,182.57 626,73.44 626,75.64 396,184.77" fill="#1f3676"/><polygon points="396,202.37 626,93.24 626,95.44 396,204.57" fill="#1f3676"/><polygon points="396,184.77 626,75.64 626,77.44 396,186.57" fill="#0f1535"/><polygon points="396,200.57 626,91.44 626,93.24 396,202.37" fill="#0f1535"/><rect x="402.29" y="178.42" width="1.9" height="1.5" fill="#5a9ae0"/><rect x="405.35" y="179.82" width="1.9" height="1.5" fill="#e8eef0"/><rect x="409.87" y="174.49" width="1.9" height="1.5" fill="#2a5a3a"/><rect x="413.35" y="175.49" width="1.9" height="1.5" fill="#4a8fd8"/><rect x="417.85" y="172.61" width="1.9" height="1.5" fill="#3f7fd0"/><rect x="420.13" y="172.02" width="1.9" height="1.5" fill="#e8eef0"/><rect x="422.97" y="167.89" width="1.9" height="1.5" fill="#5a9ae0"/><rect x="426.4" y="168.65" width="1.9" height="1.5" fill="#2a5a3a"/><rect x="430.27" y="165.07" width="1.9" height="1.5" fill="#0c0c20"/><rect x="434.34" y="166.83" width="1.9" height="1.5" fill="#2a5a3a"/><rect x="438.1" y="164.62" width="1.9" height="1.5" fill="#0c0c20"/><rect x="440.17" y="161.02" width="1.9" height="1.5" fill="#2a5a3a"/><rect x="443.1" y="161.19" width="1.9" height="1.5" fill="#0c0c20"/><rect x="446.74" y="157.84" width="1.9" height="1.5" fill="#0c0c20"/><rect x="451.69" y="154.83" width="1.9" height="1.5" fill="#e8eef0"/><rect x="455.36" y="157.08" width="1.9" height="1.5" fill="#4a8fd8"/><rect x="459.76" y="153.4" width="1.9" height="1.5" fill="#2a5a3a"/><rect x="461.82" y="150.26" width="1.9" height="1.5" fill="#4a8fd8"/><rect x="464.67" y="152.58" width="1.9" height="1.5" fill="#3f7fd0"/><rect x="468.99" y="147.7" width="1.9" height="1.5" fill="#e8eef0"/><rect x="472.23" y="144.27" width="1.9" height="1.5" fill="#3f7fd0"/><rect x="475.05" y="144.27" width="1.9" height="1.5" fill="#3f7fd0"/><rect x="477.17" y="146.59" width="1.9" height="1.5" fill="#5a9ae0"/><rect x="481.86" y="141.19" width="1.9" height="1.5" fill="#e8eef0"/><rect x="485.68" y="140.04" width="1.9" height="1.5" fill="#0c0c20"/><rect x="489.23" y="136.59" width="1.9" height="1.5" fill="#4a8fd8"/><rect x="492.25" y="135.74" width="1.9" height="1.5" fill="#0c0c20"/><rect x="495.43" y="138.38" width="1.9" height="1.5" fill="#0c0c20"/><rect x="498.57" y="132.93" width="1.9" height="1.5" fill="#2a5a3a"/><rect x="503.26" y="129.85" width="1.9" height="1.5" fill="#2a5a3a"/><rect x="506.23" y="131.55" width="1.9" height="1.5" fill="#e8eef0"/><rect x="510.9" y="127.41" width="1.9" height="1.5" fill="#5a9ae0"/><rect x="513.64" y="129.22" width="1.9" height="1.5" fill="#5a9ae0"/><rect x="516.56" y="126.95" width="1.9" height="1.5" fill="#2a5a3a"/><rect x="518.79" y="122.27" width="1.9" height="1.5" fill="#3f7fd0"/><rect x="522.69" y="121.39" width="1.9" height="1.5" fill="#4a8fd8"/><rect x="526.66" y="120.55" width="1.9" height="1.5" fill="#e8eef0"/><rect x="531.15" y="116.79" width="1.9" height="1.5" fill="#e8eef0"/><rect x="534.37" y="118.69" width="1.9" height="1.5" fill="#0c0c20"/><rect x="537.96" y="113.42" width="1.9" height="1.5" fill="#5a9ae0"/><rect x="541.21" y="116.22" width="1.9" height="1.5" fill="#5a9ae0"/><rect x="543.77" y="115.29" width="1.9" height="1.5" fill="#3f7fd0"/><rect x="546.66" y="111.14" width="1.9" height="1.5" fill="#2a5a3a"/><rect x="549.21" y="111.86" width="1.9" height="1.5" fill="#2a5a3a"/><rect x="551.52" y="107.61" width="1.9" height="1.5" fill="#5a9ae0"/><rect x="555.71" y="109.47" width="1.9" height="1.5" fill="#0c0c20"/><rect x="558.12" y="105.89" width="1.9" height="1.5" fill="#3f7fd0"/><rect x="561.07" y="102.74" width="1.9" height="1.5" fill="#e8eef0"/><rect x="564.23" y="100.97" width="1.9" height="1.5" fill="#e8eef0"/><rect x="568.07" y="99.7" width="1.9" height="1.5" fill="#3f7fd0"/><rect x="570.08" y="99.41" width="1.9" height="1.5" fill="#3f7fd0"/><rect x="572.36" y="101.09" width="1.9" height="1.5" fill="#2a5a3a"/><rect x="576.64" y="96.81" width="1.9" height="1.5" fill="#0c0c20"/><rect x="580.85" y="93.54" width="1.9" height="1.5" fill="#4a8fd8"/><rect x="584.99" y="91" width="1.9" height="1.5" fill="#2a5a3a"/><rect x="588.86" y="88.94" width="1.9" height="1.5" fill="#3f7fd0"/><rect x="591.96" y="88.28" width="1.9" height="1.5" fill="#4a8fd8"/><rect x="594.58" y="89.36" width="1.9" height="1.5" fill="#0c0c20"/><rect x="599.25" y="83.9" width="1.9" height="1.5" fill="#3f7fd0"/><rect x="601.99" y="82.84" width="1.9" height="1.5" fill="#0c0c20"/><rect x="605.11" y="85.73" width="1.9" height="1.5" fill="#2a5a3a"/><rect x="610" y="83.33" width="1.9" height="1.5" fill="#3f7fd0"/><rect x="613.48" y="77.27" width="1.9" height="1.5" fill="#e8eef0"/><rect x="615.7" y="77.3" width="1.9" height="1.5" fill="#e8eef0"/><rect x="619.84" y="79.28" width="1.9" height="1.5" fill="#0c0c20"/><rect x="624.84" y="73.01" width="1.9" height="1.5" fill="#4a8fd8"/><rect x="402.76" y="198.79" width="1.9" height="1.5" fill="#5a9ae0"/><rect x="407.47" y="197.93" width="1.9" height="1.5" fill="#3f7fd0"/><rect x="411.2" y="194.33" width="1.9" height="1.5" fill="#5a9ae0"/><rect x="416.03" y="190.8" width="1.9" height="1.5" fill="#0c0c20"/><rect x="418.18" y="191.68" width="1.9" height="1.5" fill="#4a8fd8"/><rect x="420.99" y="191.93" width="1.9" height="1.5" fill="#4a8fd8"/><rect x="423.81" y="187.29" width="1.9" height="1.5" fill="#0c0c20"/><rect x="427.1" y="186.17" width="1.9" height="1.5" fill="#0c0c20"/><rect x="431.67" y="184.35" width="1.9" height="1.5" fill="#0c0c20"/><rect x="434.74" y="185.89" width="1.9" height="1.5" fill="#3f7fd0"/><rect x="439.19" y="180.22" width="1.9" height="1.5" fill="#3f7fd0"/><rect x="441.26" y="181.48" width="1.9" height="1.5" fill="#0c0c20"/><rect x="445.86" y="176.73" width="1.9" height="1.5" fill="#4a8fd8"/><rect x="448.44" y="179.35" width="1.9" height="1.5" fill="#3f7fd0"/><rect x="451.86" y="173.92" width="1.9" height="1.5" fill="#5a9ae0"/><rect x="455.65" y="176.12" width="1.9" height="1.5" fill="#0c0c20"/><rect x="459.18" y="170.28" width="1.9" height="1.5" fill="#0c0c20"/><rect x="463.49" y="170.6" width="1.9" height="1.5" fill="#2a5a3a"/><rect x="468.31" y="169.17" width="1.9" height="1.5" fill="#2a5a3a"/><rect x="472.21" y="164" width="1.9" height="1.5" fill="#3f7fd0"/><rect x="475.48" y="166.09" width="1.9" height="1.5" fill="#0c0c20"/><rect x="480.23" y="162.01" width="1.9" height="1.5" fill="#4a8fd8"/><rect x="484.9" y="158.57" width="1.9" height="1.5" fill="#4a8fd8"/><rect x="488.17" y="161.39" width="1.9" height="1.5" fill="#5a9ae0"/><rect x="490.82" y="157.22" width="1.9" height="1.5" fill="#5a9ae0"/><rect x="493.24" y="155.76" width="1.9" height="1.5" fill="#3f7fd0"/><rect x="497.23" y="152.59" width="1.9" height="1.5" fill="#4a8fd8"/><rect x="501.51" y="150.32" width="1.9" height="1.5" fill="#e8eef0"/><rect x="504.65" y="153.17" width="1.9" height="1.5" fill="#4a8fd8"/><rect x="507.24" y="147.29" width="1.9" height="1.5" fill="#0c0c20"/><rect x="512.12" y="148.05" width="1.9" height="1.5" fill="#4a8fd8"/><rect x="515.53" y="143.67" width="1.9" height="1.5" fill="#5a9ae0"/><rect x="520.34" y="141.14" width="1.9" height="1.5" fill="#4a8fd8"/><rect x="524.78" y="139.32" width="1.9" height="1.5" fill="#4a8fd8"/><rect x="529.04" y="138.82" width="1.9" height="1.5" fill="#4a8fd8"/><rect x="531.5" y="138.43" width="1.9" height="1.5" fill="#e8eef0"/><rect x="535.17" y="135.44" width="1.9" height="1.5" fill="#3f7fd0"/><rect x="539.1" y="134.06" width="1.9" height="1.5" fill="#5a9ae0"/><rect x="543.82" y="132.73" width="1.9" height="1.5" fill="#0c0c20"/><rect x="548.72" y="128.79" width="1.9" height="1.5" fill="#2a5a3a"/><rect x="551.14" y="126.45" width="1.9" height="1.5" fill="#3f7fd0"/><rect x="555.33" y="125.08" width="1.9" height="1.5" fill="#0c0c20"/><rect x="559.33" y="122.77" width="1.9" height="1.5" fill="#3f7fd0"/><rect x="563.64" y="122.65" width="1.9" height="1.5" fill="#2a5a3a"/><rect x="567.79" y="119.71" width="1.9" height="1.5" fill="#5a9ae0"/><rect x="569.96" y="120.08" width="1.9" height="1.5" fill="#3f7fd0"/><rect x="574.03" y="120.18" width="1.9" height="1.5" fill="#3f7fd0"/><rect x="577.71" y="116.08" width="1.9" height="1.5" fill="#3f7fd0"/><rect x="581.67" y="116.77" width="1.9" height="1.5" fill="#5a9ae0"/><rect x="585.38" y="111.57" width="1.9" height="1.5" fill="#2a5a3a"/><rect x="590.19" y="112.86" width="1.9" height="1.5" fill="#0c0c20"/><rect x="593.1" y="107.33" width="1.9" height="1.5" fill="#e8eef0"/><rect x="595.33" y="107.77" width="1.9" height="1.5" fill="#e8eef0"/><rect x="597.96" y="107.42" width="1.9" height="1.5" fill="#3f7fd0"/><rect x="602.74" y="103.46" width="1.9" height="1.5" fill="#2a5a3a"/><rect x="605.86" y="102.56" width="1.9" height="1.5" fill="#0c0c20"/><rect x="608.91" y="101.57" width="1.9" height="1.5" fill="#2a5a3a"/><rect x="612.6" y="100.2" width="1.9" height="1.5" fill="#3f7fd0"/><rect x="614.78" y="96.63" width="1.9" height="1.5" fill="#5a9ae0"/><rect x="619.44" y="95.93" width="1.9" height="1.5" fill="#5a9ae0"/><rect x="622.23" y="94.09" width="1.9" height="1.5" fill="#4a8fd8"/><rect x="626.45" y="92.01" width="1.9" height="1.5" fill="#3f7fd0"/><polygon points="396,186.57 626,77.44 626,91.44 396,200.57" fill="#ffffff"/><polyline points="398.5,187.18 402.74,187.18 402.74,185.18 406.98,185.18 406.98,183.18 411.22,183.18 411.22,181.18 415.46,181.18 415.46,179.18 419.7,179.18 419.7,177.18 423.94,177.18 423.94,175.18 428.18,175.18 428.18,173.18 432.42,173.18 432.42,171.18 436.66,171.18 436.66,169.18 440.9,169.18 440.9,167.18 445.14,167.18 445.14,165.18 449.38,165.18 449.38,163.18 453.62,163.18 453.62,161.18 457.86,161.18 457.86,159.18 462.1,159.18 462.1,157.18 466.34,157.18 466.34,155.18 470.58,155.18 470.58,153.18 474.82,153.18 474.82,151.18 479.06,151.18 479.06,149.18 483.3,149.18 483.3,147.18 487.54,147.18 487.54,145.18 491.78,145.18 491.78,143.18 496.02,143.18 496.02,141.18 500.26,141.18 500.26,139.18 504.5,139.18 504.5,137.18 508.74,137.18 508.74,135.18 512.98,135.18 512.98,133.18 517.22,133.18 517.22,131.18 521.46,131.18 521.46,129.18 525.7,129.18 525.7,127.18 529.94,127.18 529.94,125.18 534.18,125.18 534.18,123.18 538.42,123.18 538.42,121.18 542.66,121.18 542.66,119.18 546.9,119.18 546.9,117.18 551.14,117.18 551.14,115.18 555.38,115.18 555.38,113.18 559.62,113.18 559.62,111.18 563.86,111.18 563.86,109.18 568.1,109.18 568.1,107.18 572.34,107.18 572.34,105.18 576.58,105.18 576.58,103.18 580.82,103.18 580.82,101.18 585.06,101.18 585.06,99.18 589.3,99.18 589.3,97.18 593.54,97.18 593.54,95.18 597.78,95.18 597.78,93.18 602.02,93.18 602.02,91.18 606.26,91.18 606.26,89.18 610.5,89.18 610.5,87.18 614.74,87.18 614.74,85.18 618.98,85.18 618.98,83.18 623.22,83.18 623.22,81.18 627.46,81.18" fill="none" stroke="#111" stroke-width="1.1" stroke-dasharray="3.2,1.2"/><polyline points="397.55,198.03 401.79,198.03 401.79,196.03 406.03,196.03 406.03,194.03 410.27,194.03 410.27,192.03 414.51,192.03 414.51,190.03 418.75,190.03 418.75,188.03 422.99,188.03 422.99,186.03 427.23,186.03 427.23,184.03 431.47,184.03 431.47,182.03 435.71,182.03 435.71,180.03 439.95,180.03 439.95,178.03 444.19,178.03 444.19,176.03 448.43,176.03 448.43,174.03 452.67,174.03 452.67,172.03 456.91,172.03 456.91,170.03 461.15,170.03 461.15,168.03 465.39,168.03 465.39,166.03 469.63,166.03 469.63,164.03 473.87,164.03 473.87,162.03 478.11,162.03 478.11,160.03 482.35,160.03 482.35,158.03 486.59,158.03 486.59,156.03 490.83,156.03 490.83,154.03 495.07,154.03 495.07,152.03 499.31,152.03 499.31,150.03 503.55,150.03 503.55,148.03 507.79,148.03 507.79,146.03 512.03,146.03 512.03,144.03 516.27,144.03 516.27,142.03 520.51,142.03 520.51,140.03 524.75,140.03 524.75,138.03 528.99,138.03 528.99,136.03 533.23,136.03 533.23,134.03 537.47,134.03 537.47,132.03 541.71,132.03 541.71,130.03 545.95,130.03 545.95,128.03 550.19,128.03 550.19,126.03 554.43,126.03 554.43,124.03 558.67,124.03 558.67,122.03 562.91,122.03 562.91,120.03 567.15,120.03 567.15,118.03 571.39,118.03 571.39,116.03 575.63,116.03 575.63,114.03 579.87,114.03 579.87,112.03 584.11,112.03 584.11,110.03 588.35,110.03 588.35,108.03 592.59,108.03 592.59,106.03 596.83,106.03 596.83,104.03 601.07,104.03 601.07,102.03 605.31,102.03 605.31,100.03 609.55,100.03 609.55,98.03 613.79,98.03 613.79,96.03 618.03,96.03 618.03,94.03 622.27,94.03 622.27,92.03 626.51,92.03" fill="none" stroke="#111" stroke-width="1.1" stroke-dasharray="3.2,1.2"/><polyline points="396,193.37 399.6,190.16 403.2,189.96 406.8,186.75 410.4,186.54 414,183.33 417.6,183.12 421.2,179.92 424.8,179.71 428.4,176.5 432,176.29 435.6,173.08 439.2,172.87 442.8,169.67 446.4,169.46 450,166.25 453.6,166.04 457.2,162.83 460.8,162.62 464.4,159.42 468,159.21 471.6,156 475.2,155.79 478.8,152.58 482.4,152.38 486,149.17 489.6,148.96 493.2,145.75 496.8,145.54 500.4,142.33 504,142.13 507.6,138.92 511.2,138.71 514.8,135.5 518.4,135.29 522,132.09 525.6,131.88 529.2,128.67 532.8,128.46 536.4,125.25 540,125.04 543.6,121.84 547.2,121.63 550.8,118.42 554.4,118.21 558,115 561.6,114.8 565.2,111.59 568.8,111.38 572.4,108.17 576,107.96 579.6,104.75 583.2,104.55 586.8,101.34 590.4,101.13 594,97.92 597.6,97.71 601.2,94.51 604.8,94.3 608.4,91.09 612,90.88 615.6,87.67 619.2,87.46 622.8,84.26" fill="none" stroke="#111" stroke-width="1"/><polyline points="396,193.77 399.6,193.56 403.2,190.36 406.8,190.15 410.4,186.94 414,186.73 417.6,183.52 421.2,183.32 424.8,180.11 428.4,179.9 432,176.69 435.6,176.48 439.2,173.27 442.8,173.07 446.4,169.86 450,169.65 453.6,166.44 457.2,166.23 460.8,163.02 464.4,162.82 468,159.61 471.6,159.4 475.2,156.19 478.8,155.98 482.4,152.78 486,152.57 489.6,149.36 493.2,149.15 496.8,145.94 500.4,145.73 504,142.53 507.6,142.32 511.2,139.11 514.8,138.9 518.4,135.69 522,135.49 525.6,132.28 529.2,132.07 532.8,128.86 536.4,128.65 540,125.44 543.6,125.24 547.2,122.03 550.8,121.82 554.4,118.61 558,118.4 561.6,115.2 565.2,114.99 568.8,111.78 572.4,111.57 576,108.36 579.6,108.15 583.2,104.95 586.8,104.74 590.4,101.53 594,101.32 597.6,98.11 601.2,97.91 604.8,94.7 608.4,94.49 612,91.28 615.6,91.07 619.2,87.86 622.8,87.66" fill="none" stroke="#111" stroke-width="1"/><polygon points="396,269.57 626,160.44 626,215.44 396,324.57" fill="#7ab977"/><polyline points="396,270.97 398.2,268.53 400.4,268.88 402.6,266.44 404.8,264.8 407,265.25 409.2,263.31 411.4,261.67 413.6,261.22 415.8,259.58 418,259.13 420.2,259.49 422.4,257.05 424.6,255.4 426.8,254.96 429,253.91 431.2,253.77 433.4,251.83 435.6,252.18 437.8,249.14 440,249.59 442.2,249.05 444.4,248.01 446.6,245.56 448.8,244.52 451,242.88 453.2,243.33 455.4,241.39 457.6,241.24 459.8,240.7 462,237.66 464.2,236.61 466.4,237.07 468.6,234.52 470.8,233.48 473,233.04 475.2,231.39 477.4,232.35 479.6,229.9 481.8,230.26 484,227.82 486.2,228.17 488.4,227.13 490.6,224.08 492.8,223.64 495,222.6 497.2,221.55 499.4,221.91 501.6,220.37 503.8,218.42 506,218.78 508.2,215.73 510.4,214.69 512.6,215.65 514.8,213.2 517,213.56 519.2,212.51 521.4,210.07 523.6,209.03 525.8,208.88 528,206.94 530.2,205.89 532.4,205.75 534.6,203.81 536.8,202.76 539,201.72 541.2,200.68 543.4,199.03 545.6,199.99 547.8,198.44 550,197.4 552.2,196.36 554.4,194.41 556.6,194.77 558.8,192.32 561,191.28 563.2,190.24 565.4,188.59 567.6,188.15 569.8,188 572,186.06 574.2,185.02 576.4,183.97 578.6,182.93 580.8,183.28 583,181.74 585.2,180.7 587.4,178.15 589.6,177.11 591.8,178.07 594,176.52 596.2,174.58 598.4,173.53 600.6,172.49 602.8,172.35 605,170.4 607.2,170.76 609.4,167.71 611.6,168.17 613.8,165.63 616,165.18 618.2,164.14 620.4,163.09 622.6,162.95 624.8,161.01" fill="none" stroke="#3d5f2c" stroke-width="1"/><polyline points="396,323.97 398.2,324.43 400.4,321.88 402.6,320.84 404.8,320.4 407,318.75 409.2,318.31 411.4,318.67 413.6,316.22 415.8,316.08 418,313.53 420.2,313.09 422.4,312.05 424.6,311 426.8,309.36 429,308.91 431.2,307.87 433.4,306.83 435.6,306.68 437.8,304.74 440,303.09 442.2,302.65 444.4,302.51 446.6,301.96 448.8,300.92 451,299.88 453.2,297.43 455.4,296.39 457.6,296.74 459.8,294.3 462,293.26 464.2,292.21 466.4,291.17 468.6,291.52 470.8,289.08 473,287.44 475.2,286.99 477.4,285.95 479.6,284.3 481.8,284.76 484,282.82 486.2,283.17 488.4,280.73 490.6,281.08 492.8,278.64 495,277.6 497.2,277.45 499.4,275.51 501.6,274.47 503.8,273.42 506,272.38 508.2,271.33 510.4,271.69 512.6,269.25 514.8,269.1 517,268.06 519.2,266.11 521.4,265.07 523.6,264.03 525.8,262.98 528,261.94 530.2,260.89 532.4,259.85 534.6,260.21 536.8,257.16 539,257.62 541.2,255.68 543.4,255.53 545.6,254.49 547.8,252.54 550,251.5 552.2,251.36 554.4,249.41 556.6,247.77 558.8,246.72 561,246.28 563.2,246.64 565.4,244.19 567.6,244.55 569.8,241.5 572,241.06 574.2,240.02 576.4,238.97 578.6,238.83 580.8,237.78 583,235.84 585.2,234.8 587.4,233.75 589.6,232.71 591.8,231.07 594,230.02 596.2,229.58 598.4,228.53 600.6,228.89 602.8,227.85 605,224.8 607.2,225.26 609.4,224.21 611.6,222.27 613.8,221.23 616,220.18 618.2,218.54 620.4,218.99 622.6,217.95 624.8,216.01" fill="none" stroke="#3d5f2c" stroke-width="1"/><polygon points="396,283.87 626,174.74 626,176.94 396,286.07" fill="#26432f"/><polygon points="396,308.07 626,198.94 626,201.14 396,310.27" fill="#26432f"/><polygon points="396,286.07 626,176.94 626,179.14 396,288.27" fill="#1f3676"/><polygon points="396,305.87 626,196.74 626,198.94 396,308.07" fill="#1f3676"/><polygon points="396,288.27 626,179.14 626,180.94 396,290.07" fill="#0f1535"/><polygon points="396,304.07 626,194.94 626,196.74 396,305.87" fill="#0f1535"/><rect x="400.63" y="284.15" width="1.9" height="1.5" fill="#4a8fd8"/><rect x="403.77" y="282.02" width="1.9" height="1.5" fill="#4a8fd8"/><rect x="406.75" y="279.67" width="1.9" height="1.5" fill="#2a5a3a"/><rect x="408.96" y="281.3" width="1.9" height="1.5" fill="#e8eef0"/><rect x="412.36" y="278.96" width="1.9" height="1.5" fill="#2a5a3a"/><rect x="416.27" y="278.1" width="1.9" height="1.5" fill="#4a8fd8"/><rect x="420.5" y="276.09" width="1.9" height="1.5" fill="#0c0c20"/><rect x="423.71" y="272.16" width="1.9" height="1.5" fill="#3f7fd0"/><rect x="426.12" y="273.71" width="1.9" height="1.5" fill="#e8eef0"/><rect x="430.97" y="268.41" width="1.9" height="1.5" fill="#0c0c20"/><rect x="435.96" y="269.41" width="1.9" height="1.5" fill="#4a8fd8"/><rect x="439.89" y="264.44" width="1.9" height="1.5" fill="#5a9ae0"/><rect x="443.74" y="261.87" width="1.9" height="1.5" fill="#4a8fd8"/><rect x="448.15" y="261.77" width="1.9" height="1.5" fill="#5a9ae0"/><rect x="451.89" y="261.22" width="1.9" height="1.5" fill="#5a9ae0"/><rect x="455.98" y="257.73" width="1.9" height="1.5" fill="#2a5a3a"/><rect x="458.35" y="255.44" width="1.9" height="1.5" fill="#5a9ae0"/><rect x="462.08" y="255.16" width="1.9" height="1.5" fill="#0c0c20"/><rect x="466.71" y="252.76" width="1.9" height="1.5" fill="#2a5a3a"/><rect x="469.56" y="252.4" width="1.9" height="1.5" fill="#5a9ae0"/><rect x="471.95" y="250.81" width="1.9" height="1.5" fill="#0c0c20"/><rect x="475.07" y="247.46" width="1.9" height="1.5" fill="#5a9ae0"/><rect x="479.03" y="245.66" width="1.9" height="1.5" fill="#e8eef0"/><rect x="481.13" y="246.1" width="1.9" height="1.5" fill="#4a8fd8"/><rect x="484.07" y="242.76" width="1.9" height="1.5" fill="#e8eef0"/><rect x="486.91" y="241.58" width="1.9" height="1.5" fill="#2a5a3a"/><rect x="490.94" y="242.22" width="1.9" height="1.5" fill="#e8eef0"/><rect x="494.51" y="240.59" width="1.9" height="1.5" fill="#e8eef0"/><rect x="498.36" y="236.29" width="1.9" height="1.5" fill="#4a8fd8"/><rect x="502.09" y="235.28" width="1.9" height="1.5" fill="#2a5a3a"/><rect x="506.46" y="232.57" width="1.9" height="1.5" fill="#5a9ae0"/><rect x="508.59" y="232.81" width="1.9" height="1.5" fill="#0c0c20"/><rect x="513.5" y="229.41" width="1.9" height="1.5" fill="#4a8fd8"/><rect x="518.43" y="226.46" width="1.9" height="1.5" fill="#4a8fd8"/><rect x="522.42" y="226.97" width="1.9" height="1.5" fill="#3f7fd0"/><rect x="525.58" y="224.17" width="1.9" height="1.5" fill="#4a8fd8"/><rect x="529.51" y="220.84" width="1.9" height="1.5" fill="#4a8fd8"/><rect x="533.48" y="220.75" width="1.9" height="1.5" fill="#e8eef0"/><rect x="538.28" y="219.58" width="1.9" height="1.5" fill="#2a5a3a"/><rect x="541.2" y="216.28" width="1.9" height="1.5" fill="#5a9ae0"/><rect x="544.87" y="215.51" width="1.9" height="1.5" fill="#0c0c20"/><rect x="549.22" y="212.52" width="1.9" height="1.5" fill="#5a9ae0"/><rect x="552.82" y="214.65" width="1.9" height="1.5" fill="#0c0c20"/><rect x="554.99" y="213.56" width="1.9" height="1.5" fill="#4a8fd8"/><rect x="557.3" y="210.11" width="1.9" height="1.5" fill="#0c0c20"/><rect x="562" y="207.82" width="1.9" height="1.5" fill="#5a9ae0"/><rect x="565.57" y="208.48" width="1.9" height="1.5" fill="#e8eef0"/><rect x="569.87" y="203.27" width="1.9" height="1.5" fill="#2a5a3a"/><rect x="573.71" y="200.95" width="1.9" height="1.5" fill="#2a5a3a"/><rect x="576.32" y="200.06" width="1.9" height="1.5" fill="#0c0c20"/><rect x="581.29" y="200.08" width="1.9" height="1.5" fill="#3f7fd0"/><rect x="585.38" y="198.15" width="1.9" height="1.5" fill="#2a5a3a"/><rect x="588.49" y="197.26" width="1.9" height="1.5" fill="#4a8fd8"/><rect x="591.68" y="196.05" width="1.9" height="1.5" fill="#3f7fd0"/><rect x="594.58" y="190.99" width="1.9" height="1.5" fill="#0c0c20"/><rect x="597.75" y="189.25" width="1.9" height="1.5" fill="#3f7fd0"/><rect x="602.43" y="187.47" width="1.9" height="1.5" fill="#4a8fd8"/><rect x="604.83" y="185.21" width="1.9" height="1.5" fill="#4a8fd8"/><rect x="608.06" y="188.31" width="1.9" height="1.5" fill="#0c0c20"/><rect x="611.63" y="185.69" width="1.9" height="1.5" fill="#e8eef0"/><rect x="616.21" y="180.96" width="1.9" height="1.5" fill="#3f7fd0"/><rect x="620.82" y="177.53" width="1.9" height="1.5" fill="#0c0c20"/><rect x="625.3" y="175.5" width="1.9" height="1.5" fill="#2a5a3a"/><rect x="402.65" y="304.1" width="1.9" height="1.5" fill="#0c0c20"/><rect x="406.85" y="299.4" width="1.9" height="1.5" fill="#2a5a3a"/><rect x="409.6" y="300.63" width="1.9" height="1.5" fill="#3f7fd0"/><rect x="412.17" y="298.63" width="1.9" height="1.5" fill="#4a8fd8"/><rect x="415.27" y="294.83" width="1.9" height="1.5" fill="#2a5a3a"/><rect x="418.57" y="297.09" width="1.9" height="1.5" fill="#e8eef0"/><rect x="421.43" y="291.44" width="1.9" height="1.5" fill="#4a8fd8"/><rect x="425.55" y="294.48" width="1.9" height="1.5" fill="#e8eef0"/><rect x="427.57" y="291.41" width="1.9" height="1.5" fill="#5a9ae0"/><rect x="431.75" y="291.2" width="1.9" height="1.5" fill="#0c0c20"/><rect x="434.2" y="285.38" width="1.9" height="1.5" fill="#3f7fd0"/><rect x="438.37" y="285.33" width="1.9" height="1.5" fill="#0c0c20"/><rect x="441.16" y="285.07" width="1.9" height="1.5" fill="#5a9ae0"/><rect x="444.99" y="283.07" width="1.9" height="1.5" fill="#4a8fd8"/><rect x="448.16" y="281.68" width="1.9" height="1.5" fill="#3f7fd0"/><rect x="450.85" y="279.01" width="1.9" height="1.5" fill="#2a5a3a"/><rect x="453.07" y="279.24" width="1.9" height="1.5" fill="#4a8fd8"/><rect x="455.32" y="278.8" width="1.9" height="1.5" fill="#5a9ae0"/><rect x="457.6" y="278.11" width="1.9" height="1.5" fill="#0c0c20"/><rect x="460.12" y="274.9" width="1.9" height="1.5" fill="#3f7fd0"/><rect x="463.05" y="275.25" width="1.9" height="1.5" fill="#3f7fd0"/><rect x="467.83" y="274.11" width="1.9" height="1.5" fill="#e8eef0"/><rect x="472.44" y="270.81" width="1.9" height="1.5" fill="#3f7fd0"/><rect x="474.57" y="268.91" width="1.9" height="1.5" fill="#0c0c20"/><rect x="477.22" y="266.55" width="1.9" height="1.5" fill="#0c0c20"/><rect x="480.05" y="265.97" width="1.9" height="1.5" fill="#3f7fd0"/><rect x="484.96" y="264" width="1.9" height="1.5" fill="#5a9ae0"/><rect x="489.45" y="262.26" width="1.9" height="1.5" fill="#3f7fd0"/><rect x="494.25" y="258.4" width="1.9" height="1.5" fill="#3f7fd0"/><rect x="496.73" y="259" width="1.9" height="1.5" fill="#0c0c20"/><rect x="498.99" y="256.42" width="1.9" height="1.5" fill="#4a8fd8"/><rect x="502.06" y="253.7" width="1.9" height="1.5" fill="#5a9ae0"/><rect x="504.35" y="256.63" width="1.9" height="1.5" fill="#5a9ae0"/><rect x="506.46" y="256.18" width="1.9" height="1.5" fill="#e8eef0"/><rect x="511.08" y="249.18" width="1.9" height="1.5" fill="#4a8fd8"/><rect x="515.74" y="248.29" width="1.9" height="1.5" fill="#0c0c20"/><rect x="520.21" y="247.2" width="1.9" height="1.5" fill="#5a9ae0"/><rect x="523.75" y="243.35" width="1.9" height="1.5" fill="#2a5a3a"/><rect x="527.46" y="243.49" width="1.9" height="1.5" fill="#e8eef0"/><rect x="530.05" y="243.73" width="1.9" height="1.5" fill="#0c0c20"/><rect x="532.42" y="239.08" width="1.9" height="1.5" fill="#5a9ae0"/><rect x="537.06" y="238.16" width="1.9" height="1.5" fill="#5a9ae0"/><rect x="540.32" y="239.97" width="1.9" height="1.5" fill="#3f7fd0"/><rect x="542.85" y="236.16" width="1.9" height="1.5" fill="#e8eef0"/><rect x="545.76" y="235.42" width="1.9" height="1.5" fill="#2a5a3a"/><rect x="550.03" y="235.18" width="1.9" height="1.5" fill="#3f7fd0"/><rect x="554.79" y="229.69" width="1.9" height="1.5" fill="#5a9ae0"/><rect x="557.65" y="230.25" width="1.9" height="1.5" fill="#3f7fd0"/><rect x="560.95" y="226.78" width="1.9" height="1.5" fill="#e8eef0"/><rect x="563.95" y="227.46" width="1.9" height="1.5" fill="#2a5a3a"/><rect x="567.64" y="224.13" width="1.9" height="1.5" fill="#0c0c20"/><rect x="571.5" y="224.69" width="1.9" height="1.5" fill="#4a8fd8"/><rect x="574.59" y="224.01" width="1.9" height="1.5" fill="#2a5a3a"/><rect x="576.86" y="219.98" width="1.9" height="1.5" fill="#5a9ae0"/><rect x="579.97" y="220.33" width="1.9" height="1.5" fill="#e8eef0"/><rect x="584.79" y="215.96" width="1.9" height="1.5" fill="#0c0c20"/><rect x="589.78" y="212.21" width="1.9" height="1.5" fill="#e8eef0"/><rect x="594.18" y="212.31" width="1.9" height="1.5" fill="#5a9ae0"/><rect x="597.02" y="209.01" width="1.9" height="1.5" fill="#0c0c20"/><rect x="599.04" y="210.75" width="1.9" height="1.5" fill="#5a9ae0"/><rect x="601.81" y="209.1" width="1.9" height="1.5" fill="#0c0c20"/><rect x="606.54" y="206.3" width="1.9" height="1.5" fill="#3f7fd0"/><rect x="609.4" y="202.4" width="1.9" height="1.5" fill="#4a8fd8"/><rect x="613.38" y="201.62" width="1.9" height="1.5" fill="#0c0c20"/><rect x="618" y="201.67" width="1.9" height="1.5" fill="#3f7fd0"/><rect x="622.71" y="200.03" width="1.9" height="1.5" fill="#5a9ae0"/><rect x="625.01" y="196.59" width="1.9" height="1.5" fill="#5a9ae0"/><polygon points="396,290.07 626,180.94 626,194.94 396,304.07" fill="#ffffff"/><polyline points="396.65,291.56 400.89,291.56 400.89,289.56 405.13,289.56 405.13,287.56 409.37,287.56 409.37,285.56 413.61,285.56 413.61,283.56 417.85,283.56 417.85,281.56 422.09,281.56 422.09,279.56 426.33,279.56 426.33,277.56 430.57,277.56 430.57,275.56 434.81,275.56 434.81,273.56 439.05,273.56 439.05,271.56 443.29,271.56 443.29,269.56 447.53,269.56 447.53,267.56 451.77,267.56 451.77,265.56 456.01,265.56 456.01,263.56 460.25,263.56 460.25,261.56 464.49,261.56 464.49,259.56 468.73,259.56 468.73,257.56 472.97,257.56 472.97,255.56 477.21,255.56 477.21,253.56 481.45,253.56 481.45,251.56 485.69,251.56 485.69,249.56 489.93,249.56 489.93,247.56 494.17,247.56 494.17,245.56 498.41,245.56 498.41,243.56 502.65,243.56 502.65,241.56 506.89,241.56 506.89,239.56 511.13,239.56 511.13,237.56 515.37,237.56 515.37,235.56 519.61,235.56 519.61,233.56 523.85,233.56 523.85,231.56 528.09,231.56 528.09,229.56 532.33,229.56 532.33,227.56 536.57,227.56 536.57,225.56 540.81,225.56 540.81,223.56 545.05,223.56 545.05,221.56 549.29,221.56 549.29,219.56 553.53,219.56 553.53,217.56 557.77,217.56 557.77,215.56 562.01,215.56 562.01,213.56 566.25,213.56 566.25,211.56 570.49,211.56 570.49,209.56 574.73,209.56 574.73,207.56 578.97,207.56 578.97,205.56 583.21,205.56 583.21,203.56 587.45,203.56 587.45,201.56 591.69,201.56 591.69,199.56 595.93,199.56 595.93,197.56 600.17,197.56 600.17,195.56 604.41,195.56 604.41,193.56 608.65,193.56 608.65,191.56 612.89,191.56 612.89,189.56 617.13,189.56 617.13,187.56 621.37,187.56 621.37,185.56 625.61,185.56 625.61,183.56 629.85,183.56" fill="none" stroke="#111" stroke-width="1.1" stroke-dasharray="3.2,1.2"/><polyline points="399.74,300.5 403.98,300.5 403.98,298.5 408.22,298.5 408.22,296.5 412.46,296.5 412.46,294.5 416.7,294.5 416.7,292.5 420.94,292.5 420.94,290.5 425.18,290.5 425.18,288.5 429.42,288.5 429.42,286.5 433.66,286.5 433.66,284.5 437.9,284.5 437.9,282.5 442.14,282.5 442.14,280.5 446.38,280.5 446.38,278.5 450.62,278.5 450.62,276.5 454.86,276.5 454.86,274.5 459.1,274.5 459.1,272.5 463.34,272.5 463.34,270.5 467.58,270.5 467.58,268.5 471.82,268.5 471.82,266.5 476.06,266.5 476.06,264.5 480.3,264.5 480.3,262.5 484.54,262.5 484.54,260.5 488.78,260.5 488.78,258.5 493.02,258.5 493.02,256.5 497.26,256.5 497.26,254.5 501.5,254.5 501.5,252.5 505.74,252.5 505.74,250.5 509.98,250.5 509.98,248.5 514.22,248.5 514.22,246.5 518.46,246.5 518.46,244.5 522.7,244.5 522.7,242.5 526.94,242.5 526.94,240.5 531.18,240.5 531.18,238.5 535.42,238.5 535.42,236.5 539.66,236.5 539.66,234.5 543.9,234.5 543.9,232.5 548.14,232.5 548.14,230.5 552.38,230.5 552.38,228.5 556.62,228.5 556.62,226.5 560.86,226.5 560.86,224.5 565.1,224.5 565.1,222.5 569.34,222.5 569.34,220.5 573.58,220.5 573.58,218.5 577.82,218.5 577.82,216.5 582.06,216.5 582.06,214.5 586.3,214.5 586.3,212.5 590.54,212.5 590.54,210.5 594.78,210.5 594.78,208.5 599.02,208.5 599.02,206.5 603.26,206.5 603.26,204.5 607.5,204.5 607.5,202.5 611.74,202.5 611.74,200.5 615.98,200.5 615.98,198.5 620.22,198.5 620.22,196.5 624.46,196.5 624.46,194.5 628.7,194.5" fill="none" stroke="#111" stroke-width="1.1" stroke-dasharray="3.2,1.2"/><polyline points="396,296.87 399.6,293.66 403.2,293.46 406.8,290.25 410.4,290.04 414,286.83 417.6,286.62 421.2,283.42 424.8,283.21 428.4,280 432,279.79 435.6,276.58 439.2,276.37 442.8,273.17 446.4,272.96 450,269.75 453.6,269.54 457.2,266.33 460.8,266.12 464.4,262.92 468,262.71 471.6,259.5 475.2,259.29 478.8,256.08 482.4,255.88 486,252.67 489.6,252.46 493.2,249.25 496.8,249.04 500.4,245.83 504,245.63 507.6,242.42 511.2,242.21 514.8,239 518.4,238.79 522,235.59 525.6,235.38 529.2,232.17 532.8,231.96 536.4,228.75 540,228.54 543.6,225.34 547.2,225.13 550.8,221.92 554.4,221.71 558,218.5 561.6,218.3 565.2,215.09 568.8,214.88 572.4,211.67 576,211.46 579.6,208.25 583.2,208.05 586.8,204.84 590.4,204.63 594,201.42 597.6,201.21 601.2,198.01 604.8,197.8 608.4,194.59 612,194.38 615.6,191.17 619.2,190.96 622.8,187.76" fill="none" stroke="#111" stroke-width="1"/><polyline points="396,297.27 399.6,297.06 403.2,293.86 406.8,293.65 410.4,290.44 414,290.23 417.6,287.02 421.2,286.82 424.8,283.61 428.4,283.4 432,280.19 435.6,279.98 439.2,276.77 442.8,276.57 446.4,273.36 450,273.15 453.6,269.94 457.2,269.73 460.8,266.52 464.4,266.32 468,263.11 471.6,262.9 475.2,259.69 478.8,259.48 482.4,256.28 486,256.07 489.6,252.86 493.2,252.65 496.8,249.44 500.4,249.23 504,246.03 507.6,245.82 511.2,242.61 514.8,242.4 518.4,239.19 522,238.99 525.6,235.78 529.2,235.57 532.8,232.36 536.4,232.15 540,228.94 543.6,228.74 547.2,225.53 550.8,225.32 554.4,222.11 558,221.9 561.6,218.7 565.2,218.49 568.8,215.28 572.4,215.07 576,211.86 579.6,211.65 583.2,208.45 586.8,208.24 590.4,205.03 594,204.82 597.6,201.61 601.2,201.41 604.8,198.2 608.4,197.99 612,194.78 615.6,194.57 619.2,191.36 622.8,191.16" fill="none" stroke="#111" stroke-width="1"/></g><g stroke="#8a8a8a" stroke-width="0.8"><rect x="396.5" y="43.5" width="228.5" height="229" fill="none" stroke="#8a8a8a" stroke-width="1"/><line x1="401" y1="272.5" x2="401" y2="268"/><line x1="401" y1="43.5" x2="401" y2="48"/><line x1="396.5" y1="268" x2="401" y2="268"/><line x1="625" y1="268" x2="620.5" y2="268"/><line x1="412" y1="272.5" x2="412" y2="270"/><line x1="412" y1="43.5" x2="412" y2="46"/><line x1="396.5" y1="257" x2="399" y2="257"/><line x1="625" y1="257" x2="622.5" y2="257"/><line x1="423" y1="272.5" x2="423" y2="270"/><line x1="423" y1="43.5" x2="423" y2="46"/><line x1="396.5" y1="246" x2="399" y2="246"/><line x1="625" y1="246" x2="622.5" y2="246"/><line x1="434" y1="272.5" x2="434" y2="270"/><line x1="434" y1="43.5" x2="434" y2="46"/><line x1="396.5" y1="235" x2="399" y2="235"/><line x1="625" y1="235" x2="622.5" y2="235"/><line x1="445" y1="272.5" x2="445" y2="270"/><line x1="445" y1="43.5" x2="445" y2="46"/><line x1="396.5" y1="224" x2="399" y2="224"/><line x1="625" y1="224" x2="622.5" y2="224"/><line x1="456" y1="272.5" x2="456" y2="268"/><line x1="456" y1="43.5" x2="456" y2="48"/><line x1="396.5" y1="213" x2="401" y2="213"/><line x1="625" y1="213" x2="620.5" y2="213"/><line x1="467" y1="272.5" x2="467" y2="270"/><line x1="467" y1="43.5" x2="467" y2="46"/><line x1="396.5" y1="202" x2="399" y2="202"/><line x1="625" y1="202" x2="622.5" y2="202"/><line x1="478" y1="272.5" x2="478" y2="270"/><line x1="478" y1="43.5" x2="478" y2="46"/><line x1="396.5" y1="191" x2="399" y2="191"/><line x1="625" y1="191" x2="622.5" y2="191"/><line x1="489" y1="272.5" x2="489" y2="270"/><line x1="489" y1="43.5" x2="489" y2="46"/><line x1="396.5" y1="180" x2="399" y2="180"/><line x1="625" y1="180" x2="622.5" y2="180"/><line x1="500" y1="272.5" x2="500" y2="270"/><line x1="500" y1="43.5" x2="500" y2="46"/><line x1="396.5" y1="169" x2="399" y2="169"/><line x1="625" y1="169" x2="622.5" y2="169"/><line x1="511" y1="272.5" x2="511" y2="268"/><line x1="511" y1="43.5" x2="511" y2="48"/><line x1="396.5" y1="158" x2="401" y2="158"/><line x1="625" y1="158" x2="620.5" y2="158"/><line x1="522" y1="272.5" x2="522" y2="270"/><line x1="522" y1="43.5" x2="522" y2="46"/><line x1="396.5" y1="147" x2="399" y2="147"/><line x1="625" y1="147" x2="622.5" y2="147"/><line x1="533" y1="272.5" x2="533" y2="270"/><line x1="533" y1="43.5" x2="533" y2="46"/><line x1="396.5" y1="136" x2="399" y2="136"/><line x1="625" y1="136" x2="622.5" y2="136"/><line x1="544" y1="272.5" x2="544" y2="270"/><line x1="544" y1="43.5" x2="544" y2="46"/><line x1="396.5" y1="125" x2="399" y2="125"/><line x1="625" y1="125" x2="622.5" y2="125"/><line x1="555" y1="272.5" x2="555" y2="270"/><line x1="555" y1="43.5" x2="555" y2="46"/><line x1="396.5" y1="114" x2="399" y2="114"/><line x1="625" y1="114" x2="622.5" y2="114"/><line x1="566" y1="272.5" x2="566" y2="268"/><line x1="566" y1="43.5" x2="566" y2="48"/><line x1="396.5" y1="103" x2="401" y2="103"/><line x1="625" y1="103" x2="620.5" y2="103"/><line x1="577" y1="272.5" x2="577" y2="270"/><line x1="577" y1="43.5" x2="577" y2="46"/><line x1="396.5" y1="92" x2="399" y2="92"/><line x1="625" y1="92" x2="622.5" y2="92"/><line x1="588" y1="272.5" x2="588" y2="270"/><line x1="588" y1="43.5" x2="588" y2="46"/><line x1="396.5" y1="81" x2="399" y2="81"/><line x1="625" y1="81" x2="622.5" y2="81"/><line x1="599" y1="272.5" x2="599" y2="270"/><line x1="599" y1="43.5" x2="599" y2="46"/><line x1="396.5" y1="70" x2="399" y2="70"/><line x1="625" y1="70" x2="622.5" y2="70"/><line x1="610" y1="272.5" x2="610" y2="270"/><line x1="610" y1="43.5" x2="610" y2="46"/><line x1="396.5" y1="59" x2="399" y2="59"/><line x1="625" y1="59" x2="622.5" y2="59"/><line x1="621" y1="272.5" x2="621" y2="268"/><line x1="621" y1="43.5" x2="621" y2="48"/><line x1="396.5" y1="48" x2="401" y2="48"/><line x1="625" y1="48" x2="620.5" y2="48"/></g><g font-family='"Liberation Sans", sans-serif' font-weight="bold" font-size="18" fill="#000"><text x="400.5" y="291" text-anchor="middle"><tspan dy="1.80">−</tspan><tspan dy="-1.80">2</tspan></text><text x="394.5" y="274.8" text-anchor="end"><tspan dy="1.80">−</tspan><tspan dy="-1.80">2</tspan></text><text x="455.5" y="291" text-anchor="middle"><tspan dy="1.80">−</tspan><tspan dy="-1.80">1</tspan></text><text x="394.5" y="219.8" text-anchor="end"><tspan dy="1.80">−</tspan><tspan dy="-1.80">1</tspan></text><text x="510.5" y="291" text-anchor="middle">0</text><text x="394.5" y="164.8" text-anchor="end">0</text><text x="565.5" y="291" text-anchor="middle">1</text><text x="394.5" y="109.8" text-anchor="end">1</text><text x="620.5" y="291" text-anchor="middle">2</text><text x="394.5" y="54.8" text-anchor="end">2</text></g><rect x="636" y="90.3" width="9.7" height="23.83" fill="#db2b2b"/><rect x="636" y="113.83" width="9.7" height="23.83" fill="#e67130"/><rect x="636" y="137.37" width="9.7" height="23.83" fill="#cdb644"/><rect x="636" y="160.9" width="9.7" height="23.83" fill="#7ab977"/><rect x="636" y="184.43" width="9.7" height="23.83" fill="#4a8fd2"/><rect x="636" y="207.97" width="9.7" height="23.83" fill="#4a30bd"/><rect x="636" y="90.3" width="9.7" height="141.2" fill="none" stroke="#777" stroke-width="0.6"/><line x1="645.7" y1="113.83" x2="649" y2="113.83" stroke="#555" stroke-width="0.8"/><text x="651" y="120.13" font-family='"Liberation Sans", sans-serif' font-weight="bold" font-size="17.6">10</text><line x1="645.7" y1="137.37" x2="649" y2="137.37" stroke="#555" stroke-width="0.8"/><text x="651" y="143.67" font-family='"Liberation Sans", sans-serif' font-weight="bold" font-size="17.6">5</text><line x1="645.7" y1="160.9" x2="649" y2="160.9" stroke="#555" stroke-width="0.8"/><text x="651" y="167.2" font-family='"Liberation Sans", sans-serif' font-weight="bold" font-size="17.6">0</text><line x1="645.7" y1="184.43" x2="649" y2="184.43" stroke="#555" stroke-width="0.8"/><text x="651" y="190.73" font-family='"Liberation Sans", sans-serif' font-weight="bold" font-size="17.6"><tspan dy="1.76">−</tspan><tspan dy="-1.76">5</tspan></text><line x1="645.7" y1="207.97" x2="649" y2="207.97" stroke="#555" stroke-width="0.8"/><text x="651" y="214.27" font-family='"Liberation Sans", sans-serif' font-weight="bold" font-size="17.6"><tspan dy="1.76">−</tspan><tspan dy="-1.76">10</tspan></text><g clip-path="url(#cp3)"><rect x="28.5" y="351.5" width="220" height="220" fill="url(#g3)"/></g><g clip-path="url(#cp3)"><polygon points="22.5,384.95 25.1,384.31 27.7,383.78 30.3,383.15 32.9,381.01 35.5,379.78 38.1,378.14 40.7,377.31 43.3,375.08 45.9,373.84 48.5,373.91 51.1,372.68 53.7,372.04 56.3,369.91 58.9,369.58 61.5,368.34 64.1,366.51 66.7,363.97 69.3,363.34 71.9,361.51 74.5,360.87 77.1,360.34 79.7,357.81 82.3,356.57 84.9,356.64 87.5,355.4 90.1,354.77 92.7,353.54 95.3,351.4 97.9,350.47 100.5,349.84 103.1,348 105.7,347.37 108.3,346.13 110.9,343 113.5,343.07 116.1,342.43 118.7,340.6 121.3,339.07 123.9,338.13 126.5,337.5 129.1,334.97 131.7,334.13 134.3,332.5 136.9,332.56 139.5,329.43 142.1,329.5 144.7,327.96 147.3,326.33 149.9,325.5 152.5,325.16 155.1,323.93 157.7,321.39 160.3,320.86 162.9,319.63 165.5,318.99 168.1,316.86 170.7,316.53 173.3,315.29 175.9,313.46 178.5,311.53 181.1,311.59 183.7,309.06 186.3,308.22 188.9,307.89 191.5,305.76 194.1,303.52 196.7,303.59 199.3,302.96 201.9,301.12 204.5,298.59 207.1,297.95 209.7,296.72 212.3,295.49 214.9,294.25 217.5,294.32 220.1,291.79 222.7,291.85 225.3,290.02 227.9,289.38 230.5,286.25 233.1,285.02 235.7,284.78 238.3,283.15 240.9,282.62 243.5,281.08 246.1,280.15 248.7,278.62 251.3,278.28 253.9,275.15 253.9,294.95 251.3,294.28 248.7,296.82 246.1,296.75 243.5,299.28 240.9,301.12 238.3,301.75 235.7,301.68 233.1,304.22 230.5,304.75 227.9,305.38 225.3,306.62 222.7,308.75 220.1,309.69 217.5,310.92 214.9,311.55 212.3,313.39 209.7,314.62 207.1,316.15 204.5,317.39 201.9,317.72 199.3,320.86 196.7,321.09 194.1,322.72 191.5,324.56 188.9,325.79 186.3,325.12 183.7,326.36 181.1,328.89 178.5,330.13 175.9,331.96 173.3,331.89 170.7,334.43 168.1,335.06 165.5,336.89 162.9,337.13 160.3,339.36 157.7,340.59 155.1,340.83 152.5,342.46 149.9,343.3 147.3,344.53 144.7,344.86 142.1,347 139.5,347.93 136.9,348.56 134.3,350.7 131.7,351.63 129.1,353.17 126.5,353.5 123.9,355.63 121.3,356.57 118.7,357.2 116.1,360.33 113.5,361.57 110.9,361.8 108.3,363.03 105.7,364.27 103.1,365.5 100.5,365.84 97.9,368.37 95.3,368.9 92.7,369.54 90.1,371.67 87.5,373.9 84.9,373.24 82.3,376.37 79.7,375.71 77.1,376.94 74.5,378.17 71.9,380.71 69.3,381.24 66.7,381.87 64.1,383.71 61.5,385.64 58.9,387.48 56.3,387.71 53.7,388.64 51.1,389.28 48.5,391.11 45.9,393.64 43.3,393.58 40.7,394.21 38.1,396.34 35.5,396.68 32.9,399.81 30.3,400.45 27.7,400.98 25.1,402.91 22.5,403.75" fill="#ffffff" stroke="#5a32a8" stroke-width="0.8" stroke-linejoin="round"/><rect x="28" y="388.38" width="7" height="7" fill="none" stroke="#e0c4d0" stroke-width="0.7" transform="rotate(27.65 31.5 391.87)"/><rect x="36.67" y="384.14" width="7.67" height="7.67" fill="none" stroke="#a8203f" stroke-width="1.1" transform="rotate(24.83 40.5 387.98)"/><rect x="43.73" y="378.26" width="6.89" height="6.89" fill="none" stroke="#a8203f" stroke-width="1.1" transform="rotate(28.89 47.17 381.7)"/><rect x="53.45" y="373.66" width="5.91" height="5.91" fill="none" stroke="#e0c4d0" stroke-width="0.7" transform="rotate(15.28 56.4 376.62)"/><rect x="62.08" y="372.25" width="5.47" height="5.47" fill="none" stroke="#d9b4c4" stroke-width="0.7" transform="rotate(27.79 64.81 374.98)"/><rect x="71.96" y="369.65" width="5.29" height="5.29" fill="none" stroke="#e0c4d0" stroke-width="0.7" transform="rotate(36.67 74.61 372.29)"/><rect x="79.32" y="363.84" width="7.25" height="7.25" fill="none" stroke="#cfa6bc" stroke-width="0.7" transform="rotate(36.32 82.95 367.47)"/><rect x="86.72" y="358.42" width="5.92" height="5.92" fill="none" stroke="#d9b4c4" stroke-width="0.7" transform="rotate(12.99 89.68 361.38)"/><rect x="94.27" y="353.49" width="7.24" height="7.24" fill="none" stroke="#cfa6bc" stroke-width="0.7" transform="rotate(28.09 97.89 357.11)"/><rect x="101.28" y="352.7" width="7.83" height="7.83" fill="none" stroke="#d9b4c4" stroke-width="0.7" transform="rotate(28.75 105.2 356.62)"/><rect x="111.14" y="346.76" width="5.47" height="5.47" fill="none" stroke="#d9b4c4" stroke-width="0.7" transform="rotate(22.29 113.88 349.49)"/><rect x="117.47" y="343.11" width="7.15" height="7.15" fill="none" stroke="#cfa6bc" stroke-width="0.7" transform="rotate(11.95 121.04 346.69)"/><rect x="126.1" y="341.63" width="6.72" height="6.72" fill="none" stroke="#a8203f" stroke-width="1.1" transform="rotate(12.26 129.46 344.99)"/><rect x="133.74" y="336.91" width="6.68" height="6.68" fill="none" stroke="#cfa6bc" stroke-width="0.7" transform="rotate(14.46 137.08 340.25)"/><rect x="143.73" y="332.58" width="5.54" height="5.54" fill="none" stroke="#d9b4c4" stroke-width="0.7" transform="rotate(16.94 146.5 335.35)"/><rect x="153.61" y="326.58" width="5.55" height="5.55" fill="none" stroke="#d9b4c4" stroke-width="0.7" transform="rotate(12.24 156.39 329.35)"/><rect x="160.4" y="323.69" width="7.57" height="7.57" fill="none" stroke="#e0c4d0" stroke-width="0.7" transform="rotate(25.66 164.19 327.47)"/><rect x="168.37" y="322.95" width="5.22" height="5.22" fill="none" stroke="#a8203f" stroke-width="1.1" transform="rotate(30.48 170.97 325.55)"/><rect x="174.78" y="319.34" width="7.15" height="7.15" fill="none" stroke="#cfa6bc" stroke-width="0.7" transform="rotate(25.58 178.36 322.92)"/><rect x="183.42" y="315.56" width="6.21" height="6.21" fill="none" stroke="#d9b4c4" stroke-width="0.7" transform="rotate(29.17 186.52 318.67)"/><rect x="190.19" y="311.65" width="7.76" height="7.76" fill="none" stroke="#d9b4c4" stroke-width="0.7" transform="rotate(33.59 194.08 315.53)"/><rect x="199.57" y="306.88" width="8.14" height="8.14" fill="none" stroke="#d9b4c4" stroke-width="0.7" transform="rotate(12.83 203.64 310.95)"/><rect x="208.49" y="302.28" width="6.23" height="6.23" fill="none" stroke="#cfa6bc" stroke-width="0.7" transform="rotate(36.42 211.6 305.4)"/><rect x="215.79" y="298.48" width="6.08" height="6.08" fill="none" stroke="#cfa6bc" stroke-width="0.7" transform="rotate(28.31 218.83 301.52)"/><rect x="223.55" y="292.9" width="6.25" height="6.25" fill="none" stroke="#d9b4c4" stroke-width="0.7" transform="rotate(12.75 226.68 296.02)"/><rect x="230.1" y="291.53" width="7.48" height="7.48" fill="none" stroke="#cfa6bc" stroke-width="0.7" transform="rotate(14.13 233.84 295.26)"/><rect x="239.61" y="286.16" width="8.28" height="8.28" fill="none" stroke="#cfa6bc" stroke-width="0.7" transform="rotate(38.22 243.75 290.3)"/><rect x="247.52" y="282.24" width="6.93" height="6.93" fill="none" stroke="#cfa6bc" stroke-width="0.7" transform="rotate(10.57 250.99 285.7)"/><rect x="254.52" y="280.36" width="7.53" height="7.53" fill="none" stroke="#cfa6bc" stroke-width="0.7" transform="rotate(33.98 258.29 284.13)"/><polygon points="22.5,490.35 25.1,488.21 27.7,487.88 30.3,486.65 32.9,485.41 35.5,483.58 38.1,482.34 40.7,480.81 43.3,478.58 45.9,478.34 48.5,477.41 51.1,475.48 53.7,474.24 56.3,473.01 58.9,472.18 61.5,470.94 64.1,469.71 66.7,469.37 69.3,468.14 71.9,465.01 74.5,463.77 77.1,463.14 79.7,462.61 82.3,460.07 84.9,460.14 87.5,458.2 90.1,456.97 92.7,457.04 95.3,454.5 97.9,454.57 100.5,452.74 103.1,452.1 105.7,450.27 108.3,449.03 110.9,447.8 113.5,446.57 116.1,445.33 118.7,442.8 121.3,442.57 123.9,440.93 126.5,439.7 129.1,438.47 131.7,436.63 134.3,436.7 136.9,436.06 139.5,433.93 142.1,432.3 144.7,431.76 147.3,430.23 149.9,429 152.5,427.76 155.1,426.83 157.7,426.19 160.3,424.06 162.9,423.13 165.5,421.19 168.1,419.96 170.7,418.13 173.3,418.79 175.9,416.96 178.5,414.43 181.1,413.79 183.7,413.26 186.3,412.02 188.9,410.49 191.5,409.26 194.1,407.02 196.7,405.79 199.3,405.16 201.9,403.32 204.5,403.09 207.1,401.85 209.7,400.62 212.3,398.99 214.9,398.15 217.5,396.92 220.1,395.99 222.7,394.45 225.3,392.82 227.9,392.28 230.5,391.05 233.1,390.42 235.7,387.88 238.3,387.35 240.9,386.12 243.5,384.18 246.1,382.95 248.7,382.12 251.3,380.88 253.9,379.95 253.9,397.15 251.3,397.78 248.7,399.62 246.1,401.55 243.5,402.78 240.9,404.62 238.3,403.95 235.7,406.48 233.1,407.72 230.5,409.55 227.9,408.88 225.3,410.12 222.7,413.25 220.1,412.59 217.5,413.82 214.9,416.35 212.3,417.59 209.7,418.82 207.1,420.65 204.5,419.99 201.9,421.82 199.3,424.36 196.7,424.29 194.1,424.92 191.5,426.76 188.9,429.29 186.3,429.52 183.7,430.76 181.1,431.69 178.5,432.33 175.9,435.46 173.3,436.69 170.7,436.03 168.1,438.56 165.5,439.09 162.9,441.03 160.3,441.86 157.7,442.19 155.1,444.03 152.5,445.96 149.9,445.9 147.3,447.73 144.7,450.26 142.1,450.9 139.5,450.83 136.9,452.66 134.3,454.2 131.7,456.43 129.1,457.67 126.5,457 123.9,460.13 121.3,459.47 118.7,460.7 116.1,462.83 113.5,464.07 110.9,466.3 108.3,466.53 105.7,468.17 103.1,470 100.5,470.24 97.9,471.47 95.3,473.1 92.7,473.94 90.1,475.17 87.5,476.1 84.9,477.34 82.3,479.87 79.7,480.11 77.1,481.74 74.5,481.67 71.9,483.81 69.3,485.44 66.7,486.67 64.1,487.21 61.5,488.44 58.9,489.68 56.3,492.21 53.7,492.14 51.1,494.08 48.5,494.91 45.9,496.14 43.3,498.38 40.7,499.61 38.1,498.94 35.5,501.48 32.9,501.41 30.3,503.95 27.7,504.48 25.1,505.71 22.5,507.65" fill="#ffffff" stroke="#5a32a8" stroke-width="0.8" stroke-linejoin="round"/><rect x="28.37" y="490.17" width="5.87" height="5.87" fill="none" stroke="#cfa6bc" stroke-width="0.7" transform="rotate(36.49 31.31 493.1)"/><rect x="36.03" y="484.56" width="7.46" height="7.46" fill="none" stroke="#d9b4c4" stroke-width="0.7" transform="rotate(31.17 39.76 488.29)"/><rect x="42.95" y="483.49" width="7.03" height="7.03" fill="none" stroke="#e0c4d0" stroke-width="0.7" transform="rotate(35.38 46.47 487.01)"/><rect x="50.02" y="480.93" width="7.25" height="7.25" fill="none" stroke="#d9b4c4" stroke-width="0.7" transform="rotate(25.47 53.64 484.55)"/><rect x="60.45" y="475.58" width="6.2" height="6.2" fill="none" stroke="#e0c4d0" stroke-width="0.7" transform="rotate(18.63 63.55 478.68)"/><rect x="67.72" y="469.31" width="7.63" height="7.63" fill="none" stroke="#e0c4d0" stroke-width="0.7" transform="rotate(20.77 71.54 473.13)"/><rect x="75.8" y="468.4" width="6.03" height="6.03" fill="none" stroke="#cfa6bc" stroke-width="0.7" transform="rotate(11.95 78.82 471.41)"/><rect x="83.33" y="462.01" width="7.54" height="7.54" fill="none" stroke="#cfa6bc" stroke-width="0.7" transform="rotate(13.55 87.1 465.78)"/><rect x="92.45" y="461" width="5.26" height="5.26" fill="none" stroke="#e0c4d0" stroke-width="0.7" transform="rotate(21.7 95.08 463.63)"/><rect x="100.76" y="453.61" width="8.34" height="8.34" fill="none" stroke="#d9b4c4" stroke-width="0.7" transform="rotate(10.89 104.93 457.78)"/><rect x="109.69" y="449.57" width="7.1" height="7.1" fill="none" stroke="#a8203f" stroke-width="1.1" transform="rotate(23.22 113.24 453.12)"/><rect x="117.81" y="449.36" width="7.41" height="7.41" fill="none" stroke="#a8203f" stroke-width="1.1" transform="rotate(39.16 121.51 453.07)"/><rect x="126.76" y="445.9" width="6.19" height="6.19" fill="none" stroke="#cfa6bc" stroke-width="0.7" transform="rotate(22.63 129.85 448.99)"/><rect x="134.36" y="439.78" width="7.29" height="7.29" fill="none" stroke="#cfa6bc" stroke-width="0.7" transform="rotate(32.56 138 443.43)"/><rect x="144.52" y="437.01" width="6.82" height="6.82" fill="none" stroke="#e0c4d0" stroke-width="0.7" transform="rotate(11.75 147.93 440.42)"/><rect x="153.36" y="431.81" width="5.48" height="5.48" fill="none" stroke="#d9b4c4" stroke-width="0.7" transform="rotate(33.34 156.1 434.55)"/><rect x="162.52" y="429.68" width="5.72" height="5.72" fill="none" stroke="#cfa6bc" stroke-width="0.7" transform="rotate(28.29 165.38 432.54)"/><rect x="170.87" y="424.78" width="6.91" height="6.91" fill="none" stroke="#a8203f" stroke-width="1.1" transform="rotate(27.33 174.33 428.24)"/><rect x="178.1" y="417.18" width="7.45" height="7.45" fill="none" stroke="#e0c4d0" stroke-width="0.7" transform="rotate(38.95 181.82 420.9)"/><rect x="186.31" y="418.41" width="5.22" height="5.22" fill="none" stroke="#e0c4d0" stroke-width="0.7" transform="rotate(25.33 188.92 421.02)"/><rect x="194.55" y="409.74" width="8.4" height="8.4" fill="none" stroke="#cfa6bc" stroke-width="0.7" transform="rotate(15.27 198.75 413.94)"/><rect x="204.58" y="407.26" width="6.22" height="6.22" fill="none" stroke="#e0c4d0" stroke-width="0.7" transform="rotate(36.44 207.69 410.37)"/><rect x="212.43" y="404.45" width="5.5" height="5.5" fill="none" stroke="#a8203f" stroke-width="1.1" transform="rotate(19.01 215.18 407.2)"/><rect x="219.7" y="398.97" width="6.72" height="6.72" fill="none" stroke="#cfa6bc" stroke-width="0.7" transform="rotate(16.98 223.06 402.33)"/><rect x="228.47" y="395.4" width="5.33" height="5.33" fill="none" stroke="#e0c4d0" stroke-width="0.7" transform="rotate(34.95 231.14 398.07)"/><rect x="235.13" y="394.12" width="5.5" height="5.5" fill="none" stroke="#a8203f" stroke-width="1.1" transform="rotate(38.43 237.88 396.87)"/><rect x="243.65" y="387.51" width="7.69" height="7.69" fill="none" stroke="#cfa6bc" stroke-width="0.7" transform="rotate(15.13 247.49 391.35)"/><rect x="254.42" y="385.38" width="5.51" height="5.51" fill="none" stroke="#cfa6bc" stroke-width="0.7" transform="rotate(34.45 257.18 388.14)"/><polygon points="22.5,592.55 25.1,592.01 27.7,589.48 30.3,589.25 32.9,587.01 35.5,585.78 38.1,584.54 40.7,583.91 43.3,583.38 45.9,582.74 48.5,580.61 51.1,579.68 53.7,577.14 56.3,576.91 58.9,575.68 61.5,573.44 64.1,572.81 66.7,572.27 69.3,571.04 71.9,569.51 74.5,569.17 77.1,567.94 79.7,565.81 82.3,564.17 84.9,562.34 87.5,563 90.1,560.47 92.7,559.24 95.3,558 97.9,556.77 100.5,555.54 103.1,555 105.7,554.37 108.3,552.53 110.9,551.3 113.5,550.07 116.1,549.43 118.7,547.6 121.3,545.67 123.9,543.83 126.5,542.6 129.1,541.97 131.7,541.13 134.3,540.2 136.9,538.66 139.5,538.33 142.1,537.1 144.7,534.96 147.3,534.63 149.9,532.8 152.5,531.26 155.1,530.03 157.7,528.39 160.3,527.86 162.9,527.23 165.5,525.99 168.1,524.76 170.7,523.53 173.3,522.29 175.9,520.46 178.5,518.53 181.1,518.59 183.7,516.46 186.3,515.22 188.9,514.89 191.5,513.66 194.1,511.12 196.7,509.29 199.3,509.06 201.9,507.82 204.5,507.49 207.1,504.95 209.7,504.42 212.3,503.79 214.9,502.55 217.5,500.02 220.1,498.79 222.7,498.25 225.3,497.62 227.9,496.38 230.5,495.15 233.1,493.92 235.7,492.08 238.3,490.55 240.9,489.32 243.5,487.68 246.1,485.85 248.7,484.62 251.3,484.68 253.9,482.75 253.9,501.95 251.3,503.18 248.7,503.12 246.1,504.65 243.5,505.88 240.9,508.12 238.3,509.35 235.7,509.28 233.1,510.52 230.5,512.45 227.9,514.28 225.3,514.52 222.7,515.45 220.1,516.99 217.5,517.32 214.9,519.15 212.3,521.09 209.7,521.02 207.1,523.55 204.5,524.39 201.9,526.02 199.3,527.26 196.7,527.79 194.1,528.42 191.5,530.26 188.9,530.89 186.3,532.72 183.7,533.96 181.1,536.49 178.5,536.73 175.9,538.36 173.3,538.29 170.7,541.43 168.1,542.66 165.5,542.59 162.9,543.83 160.3,545.76 157.7,546.29 155.1,548.23 152.5,548.76 149.9,551.3 147.3,550.63 144.7,553.16 142.1,554 139.5,555.63 136.9,556.86 134.3,558.7 131.7,558.63 129.1,559.27 126.5,561.1 123.9,561.73 121.3,563.87 118.7,566.1 116.1,567.33 113.5,567.57 110.9,567.9 108.3,570.03 105.7,570.37 103.1,573.5 100.5,573.74 97.9,574.67 95.3,575.3 92.7,577.14 90.1,578.67 87.5,580.9 84.9,581.14 82.3,582.07 79.7,584.61 77.1,585.24 74.5,585.17 71.9,586.41 69.3,588.94 66.7,590.17 64.1,590.71 61.5,592.24 58.9,594.48 56.3,593.81 53.7,595.04 51.1,598.18 48.5,599.41 45.9,599.64 43.3,600.58 40.7,602.51 38.1,602.44 35.5,604.28 32.9,606.21 30.3,606.75 27.7,608.28 25.1,609.21 22.5,610.45" fill="#ffffff" stroke="#5a32a8" stroke-width="0.8" stroke-linejoin="round"/><rect x="27.7" y="592.62" width="7.04" height="7.04" fill="none" stroke="#a8203f" stroke-width="1.1" transform="rotate(14.78 31.22 596.14)"/><rect x="36.12" y="590.95" width="5.8" height="5.8" fill="none" stroke="#a8203f" stroke-width="1.1" transform="rotate(12.85 39.02 593.85)"/><rect x="42.57" y="589.68" width="6.38" height="6.38" fill="none" stroke="#e0c4d0" stroke-width="0.7" transform="rotate(25.4 45.75 592.87)"/><rect x="49.96" y="585.97" width="6.52" height="6.52" fill="none" stroke="#e0c4d0" stroke-width="0.7" transform="rotate(39.06 53.22 589.23)"/><rect x="56.91" y="581.1" width="8.39" height="8.39" fill="none" stroke="#d9b4c4" stroke-width="0.7" transform="rotate(20.58 61.1 585.29)"/><rect x="67.47" y="577.62" width="6.26" height="6.26" fill="none" stroke="#cfa6bc" stroke-width="0.7" transform="rotate(37.73 70.6 580.75)"/><rect x="77.29" y="570.43" width="6.53" height="6.53" fill="none" stroke="#e0c4d0" stroke-width="0.7" transform="rotate(36.27 80.55 573.69)"/><rect x="84.41" y="568.78" width="7.63" height="7.63" fill="none" stroke="#cfa6bc" stroke-width="0.7" transform="rotate(17.65 88.22 572.6)"/><rect x="93.68" y="566.32" width="5.28" height="5.28" fill="none" stroke="#a8203f" stroke-width="1.1" transform="rotate(37.99 96.32 568.96)"/><rect x="101.2" y="560.57" width="6.24" height="6.24" fill="none" stroke="#e0c4d0" stroke-width="0.7" transform="rotate(13.33 104.32 563.69)"/><rect x="108.86" y="557.36" width="5.99" height="5.99" fill="none" stroke="#d9b4c4" stroke-width="0.7" transform="rotate(36 111.85 560.35)"/><rect x="117.7" y="551.2" width="6.57" height="6.57" fill="none" stroke="#e0c4d0" stroke-width="0.7" transform="rotate(26.64 120.98 554.49)"/><rect x="125.86" y="546.38" width="8.21" height="8.21" fill="none" stroke="#cfa6bc" stroke-width="0.7" transform="rotate(29.62 129.97 550.48)"/><rect x="134.33" y="544.14" width="5.59" height="5.59" fill="none" stroke="#e0c4d0" stroke-width="0.7" transform="rotate(20.61 137.13 546.94)"/><rect x="140.57" y="541.71" width="6.55" height="6.55" fill="none" stroke="#cfa6bc" stroke-width="0.7" transform="rotate(38.98 143.85 544.99)"/><rect x="150.5" y="536.99" width="5.98" height="5.98" fill="none" stroke="#cfa6bc" stroke-width="0.7" transform="rotate(21 153.5 539.98)"/><rect x="156.68" y="532.1" width="7.1" height="7.1" fill="none" stroke="#d9b4c4" stroke-width="0.7" transform="rotate(27.08 160.23 535.65)"/><rect x="165.39" y="529.84" width="6.24" height="6.24" fill="none" stroke="#d9b4c4" stroke-width="0.7" transform="rotate(26.36 168.5 532.96)"/><rect x="172.58" y="526.43" width="5.39" height="5.39" fill="none" stroke="#e0c4d0" stroke-width="0.7" transform="rotate(35.55 175.27 529.12)"/><rect x="179.72" y="522.4" width="5.64" height="5.64" fill="none" stroke="#cfa6bc" stroke-width="0.7" transform="rotate(17.06 182.54 525.22)"/><rect x="189.4" y="516.76" width="5.74" height="5.74" fill="none" stroke="#a8203f" stroke-width="1.1" transform="rotate(13.85 192.26 519.63)"/><rect x="197.6" y="512.66" width="8.28" height="8.28" fill="none" stroke="#e0c4d0" stroke-width="0.7" transform="rotate(32.81 201.74 516.8)"/><rect x="208.35" y="507.38" width="5.91" height="5.91" fill="none" stroke="#e0c4d0" stroke-width="0.7" transform="rotate(35.93 211.3 510.33)"/><rect x="216.71" y="505.57" width="7.7" height="7.7" fill="none" stroke="#cfa6bc" stroke-width="0.7" transform="rotate(33.98 220.56 509.42)"/><rect x="224.55" y="498.37" width="7.61" height="7.61" fill="none" stroke="#a8203f" stroke-width="1.1" transform="rotate(19.68 228.35 502.18)"/><rect x="234.33" y="498.1" width="7.12" height="7.12" fill="none" stroke="#e0c4d0" stroke-width="0.7" transform="rotate(13.02 237.9 501.67)"/><rect x="243.54" y="494.5" width="5.3" height="5.3" fill="none" stroke="#cfa6bc" stroke-width="0.7" transform="rotate(23.97 246.19 497.15)"/><rect x="250.12" y="489.25" width="8.32" height="8.32" fill="none" stroke="#e0c4d0" stroke-width="0.7" transform="rotate(21.5 254.28 493.41)"/></g><g stroke="#8a8a8a" stroke-width="0.8"><rect x="23.8" y="347" width="229.5" height="229" fill="none" stroke="#8a8a8a" stroke-width="1"/><line x1="28.5" y1="576" x2="28.5" y2="571.5"/><line x1="28.5" y1="347" x2="28.5" y2="351.5"/><line x1="23.8" y1="571.5" x2="28.3" y2="571.5"/><line x1="253.3" y1="571.5" x2="248.8" y2="571.5"/><line x1="39.5" y1="576" x2="39.5" y2="573.5"/><line x1="39.5" y1="347" x2="39.5" y2="349.5"/><line x1="23.8" y1="560.5" x2="26.3" y2="560.5"/><line x1="253.3" y1="560.5" x2="250.8" y2="560.5"/><line x1="50.5" y1="576" x2="50.5" y2="573.5"/><line x1="50.5" y1="347" x2="50.5" y2="349.5"/><line x1="23.8" y1="549.5" x2="26.3" y2="549.5"/><line x1="253.3" y1="549.5" x2="250.8" y2="549.5"/><line x1="61.5" y1="576" x2="61.5" y2="573.5"/><line x1="61.5" y1="347" x2="61.5" y2="349.5"/><line x1="23.8" y1="538.5" x2="26.3" y2="538.5"/><line x1="253.3" y1="538.5" x2="250.8" y2="538.5"/><line x1="72.5" y1="576" x2="72.5" y2="573.5"/><line x1="72.5" y1="347" x2="72.5" y2="349.5"/><line x1="23.8" y1="527.5" x2="26.3" y2="527.5"/><line x1="253.3" y1="527.5" x2="250.8" y2="527.5"/><line x1="83.5" y1="576" x2="83.5" y2="571.5"/><line x1="83.5" y1="347" x2="83.5" y2="351.5"/><line x1="23.8" y1="516.5" x2="28.3" y2="516.5"/><line x1="253.3" y1="516.5" x2="248.8" y2="516.5"/><line x1="94.5" y1="576" x2="94.5" y2="573.5"/><line x1="94.5" y1="347" x2="94.5" y2="349.5"/><line x1="23.8" y1="505.5" x2="26.3" y2="505.5"/><line x1="253.3" y1="505.5" x2="250.8" y2="505.5"/><line x1="105.5" y1="576" x2="105.5" y2="573.5"/><line x1="105.5" y1="347" x2="105.5" y2="349.5"/><line x1="23.8" y1="494.5" x2="26.3" y2="494.5"/><line x1="253.3" y1="494.5" x2="250.8" y2="494.5"/><line x1="116.5" y1="576" x2="116.5" y2="573.5"/><line x1="116.5" y1="347" x2="116.5" y2="349.5"/><line x1="23.8" y1="483.5" x2="26.3" y2="483.5"/><line x1="253.3" y1="483.5" x2="250.8" y2="483.5"/><line x1="127.5" y1="576" x2="127.5" y2="573.5"/><line x1="127.5" y1="347" x2="127.5" y2="349.5"/><line x1="23.8" y1="472.5" x2="26.3" y2="472.5"/><line x1="253.3" y1="472.5" x2="250.8" y2="472.5"/><line x1="138.5" y1="576" x2="138.5" y2="571.5"/><line x1="138.5" y1="347" x2="138.5" y2="351.5"/><line x1="23.8" y1="461.5" x2="28.3" y2="461.5"/><line x1="253.3" y1="461.5" x2="248.8" y2="461.5"/><line x1="149.5" y1="576" x2="149.5" y2="573.5"/><line x1="149.5" y1="347" x2="149.5" y2="349.5"/><line x1="23.8" y1="450.5" x2="26.3" y2="450.5"/><line x1="253.3" y1="450.5" x2="250.8" y2="450.5"/><line x1="160.5" y1="576" x2="160.5" y2="573.5"/><line x1="160.5" y1="347" x2="160.5" y2="349.5"/><line x1="23.8" y1="439.5" x2="26.3" y2="439.5"/><line x1="253.3" y1="439.5" x2="250.8" y2="439.5"/><line x1="171.5" y1="576" x2="171.5" y2="573.5"/><line x1="171.5" y1="347" x2="171.5" y2="349.5"/><line x1="23.8" y1="428.5" x2="26.3" y2="428.5"/><line x1="253.3" y1="428.5" x2="250.8" y2="428.5"/><line x1="182.5" y1="576" x2="182.5" y2="573.5"/><line x1="182.5" y1="347" x2="182.5" y2="349.5"/><line x1="23.8" y1="417.5" x2="26.3" y2="417.5"/><line x1="253.3" y1="417.5" x2="250.8" y2="417.5"/><line x1="193.5" y1="576" x2="193.5" y2="571.5"/><line x1="193.5" y1="347" x2="193.5" y2="351.5"/><line x1="23.8" y1="406.5" x2="28.3" y2="406.5"/><line x1="253.3" y1="406.5" x2="248.8" y2="406.5"/><line x1="204.5" y1="576" x2="204.5" y2="573.5"/><line x1="204.5" y1="347" x2="204.5" y2="349.5"/><line x1="23.8" y1="395.5" x2="26.3" y2="395.5"/><line x1="253.3" y1="395.5" x2="250.8" y2="395.5"/><line x1="215.5" y1="576" x2="215.5" y2="573.5"/><line x1="215.5" y1="347" x2="215.5" y2="349.5"/><line x1="23.8" y1="384.5" x2="26.3" y2="384.5"/><line x1="253.3" y1="384.5" x2="250.8" y2="384.5"/><line x1="226.5" y1="576" x2="226.5" y2="573.5"/><line x1="226.5" y1="347" x2="226.5" y2="349.5"/><line x1="23.8" y1="373.5" x2="26.3" y2="373.5"/><line x1="253.3" y1="373.5" x2="250.8" y2="373.5"/><line x1="237.5" y1="576" x2="237.5" y2="573.5"/><line x1="237.5" y1="347" x2="237.5" y2="349.5"/><line x1="23.8" y1="362.5" x2="26.3" y2="362.5"/><line x1="253.3" y1="362.5" x2="250.8" y2="362.5"/><line x1="248.5" y1="576" x2="248.5" y2="571.5"/><line x1="248.5" y1="347" x2="248.5" y2="351.5"/><line x1="23.8" y1="351.5" x2="28.3" y2="351.5"/><line x1="253.3" y1="351.5" x2="248.8" y2="351.5"/></g><g font-family='"Liberation Sans", sans-serif' font-weight="bold" font-size="18" fill="#000"><text x="28.5" y="594.5" text-anchor="middle"><tspan dy="1.80">−</tspan><tspan dy="-1.80">2</tspan></text><text x="22.3" y="578.3" text-anchor="end"><tspan dy="1.80">−</tspan><tspan dy="-1.80">2</tspan></text><text x="83.5" y="594.5" text-anchor="middle"><tspan dy="1.80">−</tspan><tspan dy="-1.80">1</tspan></text><text x="22.3" y="523.3" text-anchor="end"><tspan dy="1.80">−</tspan><tspan dy="-1.80">1</tspan></text><text x="138.5" y="594.5" text-anchor="middle">0</text><text x="22.3" y="468.3" text-anchor="end">0</text><text x="193.5" y="594.5" text-anchor="middle">1</text><text x="22.3" y="413.3" text-anchor="end">1</text><text x="248.5" y="594.5" text-anchor="middle">2</text><text x="22.3" y="358.3" text-anchor="end">2</text></g><rect x="264.3" y="394.3" width="9.4" height="141.4" fill="url(#gcb3)" stroke="#888" stroke-width="0.4"/><line x1="273.7" y1="421.5" x2="277" y2="421.5" stroke="#555" stroke-width="0.8"/><text x="279" y="427.8" font-family='"Liberation Sans", sans-serif' font-weight="bold" font-size="17.6">10</text><line x1="273.7" y1="450.3" x2="277" y2="450.3" stroke="#555" stroke-width="0.8"/><text x="279" y="456.6" font-family='"Liberation Sans", sans-serif' font-weight="bold" font-size="17.6">0</text><line x1="273.7" y1="479.7" x2="277" y2="479.7" stroke="#555" stroke-width="0.8"/><text x="279" y="486" font-family='"Liberation Sans", sans-serif' font-weight="bold" font-size="17.6"><tspan dy="1.76">−</tspan><tspan dy="-1.76">10</tspan></text><line x1="273.7" y1="509" x2="277" y2="509" stroke="#555" stroke-width="0.8"/><text x="279" y="515.3" font-family='"Liberation Sans", sans-serif' font-weight="bold" font-size="17.6"><tspan dy="1.76">−</tspan><tspan dy="-1.76">20</tspan></text><line x1="380.1" y1="492.4" x2="660" y2="492.4" stroke="#7a7a7a" stroke-width="2.6"/><line x1="519.8" y1="422.2" x2="519.8" y2="594.6" stroke="#7a7a7a" stroke-width="2.2"/><g stroke="#7a7a7a" stroke-width="1"><line x1="385.8" y1="491.2" x2="385.8" y2="488"/><line x1="399.24" y1="491.2" x2="399.24" y2="489.4"/><line x1="412.68" y1="491.2" x2="412.68" y2="489.4"/><line x1="426.12" y1="491.2" x2="426.12" y2="489.4"/><line x1="439.56" y1="491.2" x2="439.56" y2="489.4"/><line x1="453" y1="491.2" x2="453" y2="488"/><line x1="466.44" y1="491.2" x2="466.44" y2="489.4"/><line x1="479.88" y1="491.2" x2="479.88" y2="489.4"/><line x1="493.32" y1="491.2" x2="493.32" y2="489.4"/><line x1="506.76" y1="491.2" x2="506.76" y2="489.4"/><line x1="520.2" y1="491.2" x2="520.2" y2="488"/><line x1="533.64" y1="491.2" x2="533.64" y2="489.4"/><line x1="547.08" y1="491.2" x2="547.08" y2="489.4"/><line x1="560.52" y1="491.2" x2="560.52" y2="489.4"/><line x1="573.96" y1="491.2" x2="573.96" y2="489.4"/><line x1="587.4" y1="491.2" x2="587.4" y2="488"/><line x1="600.84" y1="491.2" x2="600.84" y2="489.4"/><line x1="614.28" y1="491.2" x2="614.28" y2="489.4"/><line x1="627.72" y1="491.2" x2="627.72" y2="489.4"/><line x1="641.16" y1="491.2" x2="641.16" y2="489.4"/><line x1="654.6" y1="491.2" x2="654.6" y2="488"/><line x1="520.9" y1="586.3" x2="524.1" y2="586.3"/><line x1="520.9" y1="580.04" x2="522.7" y2="580.04"/><line x1="520.9" y1="573.78" x2="522.7" y2="573.78"/><line x1="520.9" y1="567.52" x2="522.7" y2="567.52"/><line x1="520.9" y1="561.26" x2="522.7" y2="561.26"/><line x1="520.9" y1="555" x2="524.1" y2="555"/><line x1="520.9" y1="548.74" x2="522.7" y2="548.74"/><line x1="520.9" y1="542.48" x2="522.7" y2="542.48"/><line x1="520.9" y1="536.22" x2="522.7" y2="536.22"/><line x1="520.9" y1="529.96" x2="522.7" y2="529.96"/><line x1="520.9" y1="523.7" x2="524.1" y2="523.7"/><line x1="520.9" y1="517.44" x2="522.7" y2="517.44"/><line x1="520.9" y1="511.18" x2="522.7" y2="511.18"/><line x1="520.9" y1="504.92" x2="522.7" y2="504.92"/><line x1="520.9" y1="498.66" x2="522.7" y2="498.66"/><line x1="520.9" y1="492.4" x2="524.1" y2="492.4"/><line x1="520.9" y1="486.14" x2="522.7" y2="486.14"/><line x1="520.9" y1="479.88" x2="522.7" y2="479.88"/><line x1="520.9" y1="473.62" x2="522.7" y2="473.62"/><line x1="520.9" y1="467.36" x2="522.7" y2="467.36"/><line x1="520.9" y1="461.1" x2="524.1" y2="461.1"/><line x1="520.9" y1="454.84" x2="522.7" y2="454.84"/><line x1="520.9" y1="448.58" x2="522.7" y2="448.58"/><line x1="520.9" y1="442.32" x2="522.7" y2="442.32"/><line x1="520.9" y1="436.06" x2="522.7" y2="436.06"/><line x1="520.9" y1="429.8" x2="524.1" y2="429.8"/></g><polyline points="385.8,510.55 386.38,509.86 387.17,508.88 388.11,507.74 389.14,506.52 390.18,505.34 391.18,504.29 392.14,503.37 393.12,502.47 394.12,501.61 395.13,500.79 396.17,500.02 397.22,499.29 398.26,498.61 399.26,498 400.29,497.43 401.38,496.89 402.58,496.36 403.94,495.84 405.49,495.33 407.2,494.83 409.03,494.35 410.91,493.88 412.82,493.44 414.7,493.03 416.54,492.63 418.38,492.26 420.24,491.91 422.14,491.58 424.09,491.28 426.12,490.99 428.2,490.73 430.33,490.5 432.5,490.29 434.76,490.09 437.1,489.91 439.56,489.74 442.17,489.57 444.91,489.42 447.75,489.28 450.64,489.15 453.52,489.05 456.36,488.96 459.12,488.89 461.84,488.83 464.55,488.79 467.31,488.77 470.17,488.77 473.16,488.8 476.33,488.85 479.63,488.93 483.03,489.04 486.48,489.15 489.92,489.29 493.32,489.43 496.72,489.58 500.16,489.76 503.61,489.94 507.01,490.14 510.31,490.33 513.48,490.52 516.55,490.71 519.58,490.9 522.51,491.1 525.3,491.29 527.91,491.46 530.28,491.62 532.38,491.75 534.24,491.86 535.91,491.96 537.45,492.05 538.91,492.14 540.36,492.24 541.76,492.34 543.07,492.43 544.31,492.52 545.49,492.61 546.63,492.73 547.75,492.87 548.81,493.02 549.77,493.18 550.69,493.35 551.63,493.55 552.65,493.81 553.8,494.12 555.13,494.52 556.61,494.98 558.17,495.49 559.72,496.03 561.2,496.57 562.54,497.09 563.71,497.59 564.78,498.09 565.77,498.58 566.72,499.09 567.65,499.64 568.58,500.22 569.53,500.88 570.48,501.59 571.4,502.33 572.29,503.08 573.15,503.79 573.96,504.45 574.73,505.05 575.45,505.62 576.14,506.15 576.8,506.67 577.41,507.17 577.99,507.67 578.52,508.15 578.99,508.6 579.42,509.04 579.83,509.48 580.25,509.94 580.68,510.45 581.13,510.98 581.58,511.54 582.02,512.12 582.47,512.73 582.92,513.37 583.37,514.05 583.82,514.76 584.26,515.49 584.71,516.26 585.16,517.07 585.61,517.93 586.06,518.84 586.5,519.81 586.95,520.8 587.4,521.85 587.85,522.96 588.3,524.15 588.74,525.43 589.19,526.78 589.64,528.18 590.09,529.66 590.54,531.25 590.98,532.96 591.43,534.83 591.88,536.81 592.33,538.86 592.78,541.05 593.22,543.41 593.67,546.01 594.12,548.89 594.59,552.23 595.07,556.01 595.56,560.03 596.02,564.07 596.45,567.89 596.81,571.3 597.11,574.4 597.37,577.4 597.58,580.2 597.76,582.68 597.9,584.75 598.02,586.3" fill="none" stroke="url(#g4)" stroke-width="1.3"/><polyline points="629.6,586.3 629.75,584.95 629.93,583.19 630.15,581.1 630.4,578.75 630.67,576.23 630.95,573.62 631.25,571.01 631.55,568.46 631.86,565.89 632.18,563.16 632.51,560.35 632.87,557.48 633.23,554.62 633.62,551.81 634.02,549.11 634.44,546.55 634.88,544.13 635.35,541.79 635.84,539.52 636.34,537.32 636.86,535.17 637.39,533.08 637.93,531.03 638.47,529.02 639.02,527.03 639.57,525.07 640.13,523.14 640.7,521.27 641.28,519.47 641.89,517.75 642.52,516.13 643.18,514.62 643.87,513.22 644.61,511.92 645.38,510.7 646.16,509.58 646.95,508.53 647.73,507.57 648.49,506.68 649.22,505.86 649.96,505.12 650.74,504.48 651.53,503.92 652.29,503.43 653.01,503.02 653.65,502.66 654.19,502.36 654.6,502.1" fill="none" stroke="url(#g4)" stroke-width="1.3"/><line x1="611.5" y1="429.8" x2="611.5" y2="492.4" stroke="url(#g4)" stroke-width="1.3"/><line x1="611.5" y1="492.4" x2="611.5" y2="586.3" stroke="url(#gpl)" stroke-width="1.3"/><line x1="616.3" y1="429.8" x2="616.3" y2="492.4" stroke="url(#g4)" stroke-width="1.3"/><line x1="616.3" y1="492.4" x2="616.3" y2="586.3" stroke="url(#gpr)" stroke-width="1.3"/><g font-family='"Liberation Sans", sans-serif' font-weight="bold" font-size="21"><text x="385.8" y="514.9" text-anchor="middle"><tspan dy="2.10">−</tspan><tspan dy="-2.10">2</tspan></text><text x="453" y="514.9" text-anchor="middle"><tspan dy="2.10">−</tspan><tspan dy="-2.10">1</tspan></text><text x="587.4" y="514.9" text-anchor="middle">1</text><text x="654.6" y="514.9" text-anchor="middle">2</text><text x="516.2" y="437.7" text-anchor="end">20</text><text x="516.2" y="469" text-anchor="end">10</text><text x="516.2" y="531.6" text-anchor="end"><tspan dy="2.10">−</tspan><tspan dy="-2.10">10</tspan></text><text x="516.2" y="562.9" text-anchor="end"><tspan dy="2.10">−</tspan><tspan dy="-2.10">20</tspan></text><text x="516.2" y="594.2" text-anchor="end"><tspan dy="2.10">−</tspan><tspan dy="-2.10">30</tspan></text></g><text x="520" y="410.3" text-anchor="middle" font-family='"Liberation Sans", sans-serif' font-weight="bold" font-size="29">t</text><text x="676" y="502.8" text-anchor="middle" font-family='"Liberation Sans", sans-serif' font-weight="bold" font-size="29">x</text>
</svg>
</body></html>
